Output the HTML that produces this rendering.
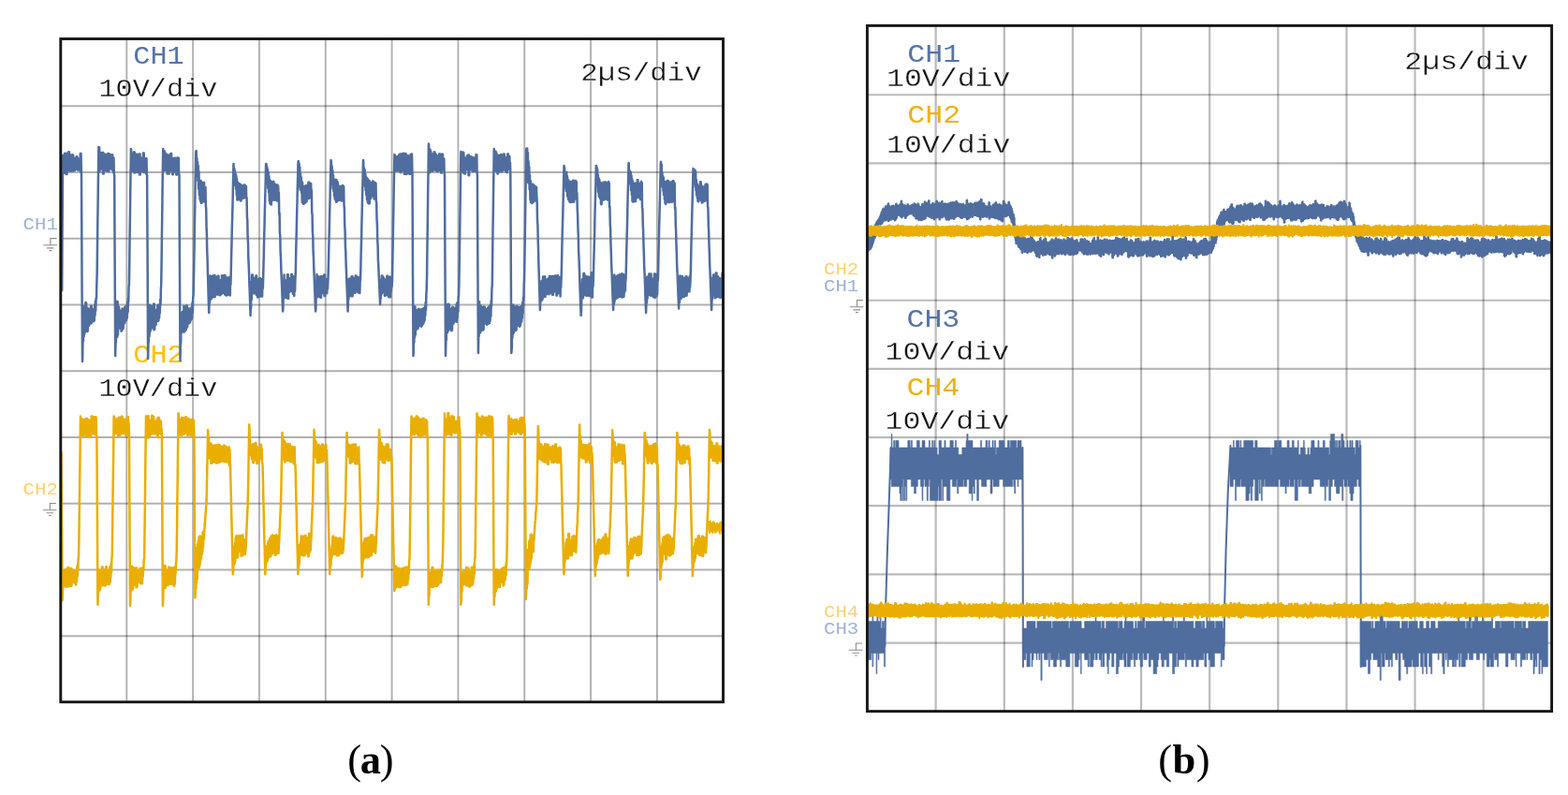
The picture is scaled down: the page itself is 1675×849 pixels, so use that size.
<!DOCTYPE html>
<html lang="en">
<head>
<meta charset="utf-8">
<title>Oscilloscope waveforms</title>
<style>
html,body{margin:0;padding:0;background:#fff;}
body{width:1675px;height:849px;overflow:hidden;}
svg{display:block;filter:blur(0.6px);}
svg text{font-family:"Liberation Mono",monospace;}
</style>
</head>
<body>
<svg width="1675" height="849" viewBox="0 0 1675 849">
<rect width="1675" height="849" fill="#fff"/>
<g id="grids">
<g stroke="#000" stroke-opacity="0.31" stroke-width="1.9" fill="none"><line x1="135.32" y1="41.50" x2="135.32" y2="749.70"/><line x1="64.80" y1="113.25" x2="772.50" y2="113.25"/><line x1="206.14" y1="41.50" x2="206.14" y2="749.70"/><line x1="64.80" y1="184.00" x2="772.50" y2="184.00"/><line x1="276.96" y1="41.50" x2="276.96" y2="749.70"/><line x1="64.80" y1="254.75" x2="772.50" y2="254.75"/><line x1="347.78" y1="41.50" x2="347.78" y2="749.70"/><line x1="64.80" y1="325.50" x2="772.50" y2="325.50"/><line x1="418.60" y1="41.50" x2="418.60" y2="749.70"/><line x1="64.80" y1="396.25" x2="772.50" y2="396.25"/><line x1="489.42" y1="41.50" x2="489.42" y2="749.70"/><line x1="64.80" y1="467.00" x2="772.50" y2="467.00"/><line x1="560.24" y1="41.50" x2="560.24" y2="749.70"/><line x1="64.80" y1="537.75" x2="772.50" y2="537.75"/><line x1="631.06" y1="41.50" x2="631.06" y2="749.70"/><line x1="64.80" y1="608.50" x2="772.50" y2="608.50"/><line x1="701.88" y1="41.50" x2="701.88" y2="749.70"/><line x1="64.80" y1="679.25" x2="772.50" y2="679.25"/></g>
<g stroke="#000" stroke-opacity="0.27" stroke-width="2.2" fill="none"><line x1="999.63" y1="27.40" x2="999.63" y2="759.60"/><line x1="926.40" y1="101.26" x2="1657.60" y2="101.26"/><line x1="1072.76" y1="27.40" x2="1072.76" y2="759.60"/><line x1="926.40" y1="174.42" x2="1657.60" y2="174.42"/><line x1="1145.89" y1="27.40" x2="1145.89" y2="759.60"/><line x1="926.40" y1="247.58" x2="1657.60" y2="247.58"/><line x1="1219.02" y1="27.40" x2="1219.02" y2="759.60"/><line x1="926.40" y1="320.74" x2="1657.60" y2="320.74"/><line x1="1292.15" y1="27.40" x2="1292.15" y2="759.60"/><line x1="926.40" y1="393.90" x2="1657.60" y2="393.90"/><line x1="1365.28" y1="27.40" x2="1365.28" y2="759.60"/><line x1="926.40" y1="467.06" x2="1657.60" y2="467.06"/><line x1="1438.41" y1="27.40" x2="1438.41" y2="759.60"/><line x1="926.40" y1="540.22" x2="1657.60" y2="540.22"/><line x1="1511.54" y1="27.40" x2="1511.54" y2="759.60"/><line x1="926.40" y1="613.38" x2="1657.60" y2="613.38"/><line x1="1584.67" y1="27.40" x2="1584.67" y2="759.60"/><line x1="926.40" y1="686.54" x2="1657.60" y2="686.54"/></g>
</g>
<g id="labels">
<text transform="translate(142.30,68.30) scale(1.0780,1)" font-size="28.00" fill="#5673a6" >CH1</text>
<text transform="translate(105.50,103.40) scale(1.0780,1)" font-size="28.00" fill="#111" stroke="#fff" stroke-width="0.3" stroke-linejoin="round">10V/div</text>
<text transform="translate(620.30,85.80) scale(1.1017,1)" font-size="28.00" fill="#111" stroke="#fff" stroke-width="0.3" stroke-linejoin="round">2µs/div</text>
<text transform="translate(142.30,387.20) scale(1.0780,1)" font-size="28.00" fill="#ffc000" >CH2</text>
<text transform="translate(105.50,422.70) scale(1.0780,1)" font-size="28.00" fill="#111" stroke="#fff" stroke-width="0.3" stroke-linejoin="round">10V/div</text>
<text transform="translate(969.30,66.20) scale(1.1070,1)" font-size="28.50" fill="#5673a6" >CH1</text>
<text transform="translate(947.00,92.00) scale(1.1070,1)" font-size="28.50" fill="#111" stroke="#fff" stroke-width="0.3" stroke-linejoin="round">10V/div</text>
<text transform="translate(1500.30,73.90) scale(1.1070,1)" font-size="28.50" fill="#111" stroke="#fff" stroke-width="0.3" stroke-linejoin="round">2µs/div</text>
<text transform="translate(969.30,130.60) scale(1.1070,1)" font-size="28.50" fill="#ecb20e" >CH2</text>
<text transform="translate(947.00,163.40) scale(1.1070,1)" font-size="28.50" fill="#111" stroke="#fff" stroke-width="0.3" stroke-linejoin="round">10V/div</text>
<text transform="translate(968.50,349.40) scale(1.1070,1)" font-size="28.50" fill="#5673a6" >CH3</text>
<text transform="translate(945.60,383.70) scale(1.1070,1)" font-size="28.50" fill="#111" stroke="#fff" stroke-width="0.3" stroke-linejoin="round">10V/div</text>
<text transform="translate(968.50,422.20) scale(1.1070,1)" font-size="28.50" fill="#ecb20e" >CH4</text>
<text transform="translate(945.60,457.60) scale(1.1070,1)" font-size="28.50" fill="#111" stroke="#fff" stroke-width="0.3" stroke-linejoin="round">10V/div</text>
<text transform="translate(24.60,244.90) scale(1.1000,1)" font-size="18.80" fill="#9db0d4" >CH1</text>
<text transform="translate(24.60,527.60) scale(1.1000,1)" font-size="18.80" fill="#fbd26c" >CH2</text>
<text transform="translate(880.00,293.00) scale(1.1000,1)" font-size="18.80" fill="#fbd26c" >CH2</text>
<text transform="translate(880.00,310.70) scale(1.1000,1)" font-size="18.80" fill="#9db0d4" >CH1</text>
<text transform="translate(880.00,659.00) scale(1.1000,1)" font-size="18.80" fill="#fbd26c" >CH4</text>
<text transform="translate(880.00,676.70) scale(1.1000,1)" font-size="18.80" fill="#9db0d4" >CH3</text>
<g fill="none" stroke="#8c8c8c" stroke-width="1.1"><path d="M60.5 254.6 H53.9 V261.8" /><path d="M46.3 261.8 H60.9 M49.9 264.9 H57.5 M52.5 267.6 H55.3" /></g>
<g fill="none" stroke="#8c8c8c" stroke-width="1.1"><path d="M60.0 537.5 H53.4 V544.7" /><path d="M45.8 544.7 H60.4 M49.4 547.8 H57.0 M52.0 550.5 H54.8" /></g>
<g fill="none" stroke="#8c8c8c" stroke-width="1.1"><path d="M922.0 320.6 H915.4 V327.8" /><path d="M907.8 327.8 H922.4 M911.4 330.9 H919.0 M914.0 333.6 H916.8" /></g>
<g fill="none" stroke="#8c8c8c" stroke-width="1.1"><path d="M921.0 687.0 H914.4 V694.2" /><path d="M906.8 694.2 H921.4 M910.4 697.3 H918.0 M913.0 700.0 H915.8" /></g>
<text x="371.3" y="825.8" style="font-family:'Liberation Serif',serif" font-size="44.5" letter-spacing="-1.3" fill="#000">(<tspan font-weight="bold">a</tspan>)</text>
<text x="1237.3" y="826.3" style="font-family:'Liberation Serif',serif" font-size="44.5" letter-spacing="0.4" fill="#000">(<tspan font-weight="bold">b</tspan>)</text>
</g>
<g id="plot-a">
<polyline points="66.2,310.0 66.5,254.0 66.9,198.0 67.1,166.0 67.6,166.3 68.0,180.7 68.3,167.5 68.7,183.1 69.0,164.1 69.4,185.1 69.7,163.8 70.0,185.2 70.4,168.7 70.8,186.0 71.1,168.5 71.5,186.0 71.8,163.7 72.2,179.3 72.5,163.8 72.9,179.3 73.2,162.3 73.5,182.0 73.9,162.3 74.2,182.0 74.6,165.1 75.0,182.8 75.3,165.2 75.7,182.8 76.0,166.7 76.3,182.3 76.7,166.7 77.0,182.3 77.4,165.3 77.8,182.5 78.1,165.4 78.5,182.5 78.8,169.1 79.2,181.9 79.5,169.1 79.8,181.9 80.2,170.5 80.5,180.0 80.9,170.5 81.2,180.0 81.6,167.3 82.0,181.0 82.3,167.3 82.7,181.0 83.0,169.5 83.3,181.5 83.7,169.6 84.0,181.5 84.4,169.8 84.8,180.4 85.1,169.9 85.5,180.4 85.8,163.9 86.2,184.0 86.5,163.9 87.0,187.0 87.2,226.8 87.5,296.4 88.0,386.0 88.2,380.7 88.6,353.3 89.0,364.6 89.3,326.9 89.7,359.2 90.0,329.0 90.3,356.8 90.7,329.2 91.0,354.5 91.4,322.9 91.8,349.6 92.1,323.6 92.5,348.6 92.8,328.6 93.2,354.1 93.5,328.8 93.8,353.4 94.2,331.0 94.5,348.0 94.9,331.1 95.2,347.4 95.6,330.1 96.0,343.9 96.3,330.3 96.7,343.4 97.0,327.0 97.3,345.4 97.7,326.8 98.0,344.8 98.4,330.4 98.8,343.0 99.1,330.1 99.5,342.4 99.8,331.0 100.2,343.0 100.5,330.7 100.8,342.3 101.2,325.5 101.5,336.8 101.9,321.5 102.2,331.7 102.6,318.4 103.0,318.6 103.3,304.0 103.7,290.1 104.0,263.5 104.3,236.9 104.7,210.2 105.0,183.6 105.4,157.0 105.8,170.7 106.1,157.2 106.5,183.4 106.8,164.6 107.2,179.9 107.5,165.8 107.8,180.4 108.2,163.1 108.5,179.6 108.9,164.6 109.2,179.9 109.6,163.0 110.0,185.4 110.3,163.1 110.7,185.4 111.0,164.3 111.3,181.4 111.7,164.4 112.0,181.4 112.4,164.8 112.8,182.1 113.1,164.9 113.5,182.1 113.8,168.5 114.2,182.7 114.5,168.5 114.8,182.7 115.2,164.1 115.5,183.0 115.9,164.1 116.2,183.0 116.6,164.7 117.0,179.7 117.3,164.7 117.7,179.7 118.0,168.1 118.3,180.3 118.7,168.1 119.0,180.3 119.4,165.2 119.8,181.4 120.1,165.3 120.5,181.4 120.8,168.7 121.2,183.9 121.5,168.8 121.8,185.6 122.2,187.0 122.5,254.5 122.9,322.1 123.2,380.0 123.6,360.3 123.9,365.8 124.3,327.2 124.7,357.7 125.0,321.7 125.3,359.7 125.7,322.3 126.0,357.4 126.4,327.3 126.8,350.0 127.1,327.7 127.4,348.7 127.8,331.7 128.2,350.4 128.5,331.8 128.8,349.7 129.2,332.1 129.6,353.8 129.9,332.1 130.2,353.0 130.6,329.6 130.9,351.4 131.3,329.7 131.7,350.7 132.0,331.7 132.3,345.8 132.7,331.3 133.1,345.0 133.4,327.8 133.8,343.1 134.1,327.6 134.4,342.4 134.8,326.8 135.1,341.8 135.5,326.6 135.8,339.5 136.2,323.0 136.6,333.1 136.9,318.8 137.2,322.9 137.6,306.0 137.9,304.6 138.3,279.0 138.6,252.8 139.0,226.5 139.3,200.3 139.7,174.0 139.9,159.0 140.4,162.9 140.8,182.8 141.1,165.6 141.4,183.0 141.8,164.4 142.1,178.8 142.5,165.3 142.8,179.2 143.2,162.2 143.6,184.4 143.9,162.7 144.2,184.4 144.6,167.6 144.9,181.6 145.3,167.6 145.6,181.6 146.0,164.8 146.3,183.9 146.7,164.8 147.1,183.9 147.4,170.0 147.8,179.9 148.1,170.0 148.4,179.9 148.8,164.6 149.1,186.4 149.5,164.6 149.8,186.4 150.2,169.1 150.6,180.5 150.9,169.1 151.2,180.5 151.6,168.9 151.9,183.1 152.3,169.0 152.6,183.1 153.0,163.5 153.3,184.0 153.7,163.5 154.1,184.0 154.4,170.2 154.8,183.4 155.1,170.2 155.4,183.4 155.8,169.3 156.1,185.4 156.5,169.3 156.8,186.7 157.1,187.0 157.6,275.2 157.9,343.8 158.1,383.0 158.6,361.0 158.9,365.7 159.3,335.0 159.6,359.0 160.0,325.7 160.3,354.4 160.7,326.2 161.1,352.5 161.4,326.7 161.8,347.1 162.1,327.0 162.4,346.1 162.8,327.5 163.1,350.1 163.5,327.7 163.8,349.5 164.2,324.4 164.6,352.2 164.9,324.7 165.2,351.4 165.6,330.9 165.9,347.5 166.3,331.0 166.6,346.8 167.0,331.3 167.3,342.4 167.7,330.8 168.1,341.6 168.4,326.0 168.8,343.1 169.1,325.7 169.4,342.2 169.8,330.0 170.1,339.5 170.5,326.2 170.8,334.3 171.2,320.1 171.6,325.3 171.9,307.9 172.2,304.5 172.6,279.0 172.9,252.8 173.3,226.5 173.6,200.3 174.0,174.0 174.2,159.0 174.7,164.1 175.1,182.0 175.4,160.9 175.8,178.9 176.1,161.9 176.4,179.2 176.8,164.1 177.1,181.9 177.5,165.1 177.8,182.2 178.2,165.1 178.6,185.4 178.9,165.2 179.2,185.4 179.6,167.3 179.9,185.4 180.3,167.3 180.6,185.4 181.0,165.5 181.3,181.4 181.7,165.6 182.1,181.5 182.4,164.1 182.8,182.2 183.1,164.1 183.4,182.3 183.8,169.4 184.1,186.3 184.5,169.4 184.8,186.3 185.2,169.3 185.6,183.6 185.9,169.4 186.2,183.6 186.6,168.8 186.9,183.6 187.3,168.8 187.6,183.6 188.0,170.1 188.3,186.6 188.7,170.1 189.1,186.6 189.4,168.5 189.8,180.4 190.1,168.5 190.4,180.4 190.8,168.8 191.1,185.4 191.5,187.0 191.8,256.3 192.2,325.6 192.5,385.0 192.9,365.2 193.2,366.2 193.6,334.5 193.9,354.6 194.3,334.3 194.6,352.7 195.0,332.9 195.4,354.6 195.7,332.8 196.1,352.4 196.4,326.9 196.8,354.6 197.1,327.2 197.4,353.8 197.8,330.3 198.1,352.7 198.5,330.5 198.9,351.9 199.2,326.2 199.6,349.7 199.9,326.5 200.2,349.0 200.6,329.7 200.9,345.8 201.3,329.6 201.6,345.0 202.0,329.8 202.3,345.0 202.7,329.5 203.1,344.1 203.4,330.5 203.8,341.9 204.1,330.2 204.4,341.1 204.8,327.5 205.1,339.7 205.5,323.3 205.8,334.3 206.2,318.0 206.6,314.9 206.9,302.1 207.2,285.6 207.6,263.5 207.9,241.3 208.3,219.1 208.6,196.9 209.0,174.7 209.2,162.0 209.7,161.0 210.1,180.4 210.4,169.0 210.8,187.5 211.1,173.3 211.4,192.9 211.8,177.0 212.1,201.8 212.5,183.3 212.8,208.1 213.2,193.6 213.6,213.0 213.9,197.9 214.2,215.0 214.6,192.9 214.9,216.9 215.3,194.3 215.6,216.5 216.0,198.9 216.3,214.8 216.7,198.9 217.1,214.2 217.4,194.9 217.8,215.3 218.1,195.1 218.4,214.7 218.8,199.8 219.1,212.4 219.5,199.9 219.8,219.1 220.2,222.8 220.6,244.4 220.9,249.1 221.2,267.6 221.6,276.0 221.9,289.9 222.3,302.2 222.6,314.6 223.0,326.9 223.2,334.0 223.7,319.4 224.1,323.4 224.4,294.4 224.8,320.0 225.1,294.7 225.4,319.1 225.8,300.9 226.1,318.4 226.5,300.8 226.8,317.7 227.2,294.8 227.6,316.9 227.9,294.8 228.2,316.9 228.6,293.9 228.9,317.0 229.3,293.8 229.6,317.0 230.0,297.5 230.3,313.9 230.7,297.4 231.1,313.9 231.4,295.8 231.8,314.6 232.1,295.8 232.4,314.6 232.8,294.7 233.1,314.1 233.5,294.7 233.8,314.1 234.2,300.7 234.6,315.3 234.9,300.7 235.2,315.3 235.6,299.2 235.9,314.0 236.3,299.2 236.6,314.0 237.0,294.3 237.3,312.8 237.7,294.2 238.1,312.8 238.4,296.8 238.8,312.8 239.1,296.7 239.4,312.8 239.8,294.1 240.1,314.4 240.5,294.1 240.8,314.4 241.2,296.8 241.6,315.4 241.9,296.8 242.2,315.4 242.6,296.5 242.9,314.8 243.3,296.4 243.6,314.7 244.0,298.8 244.3,313.3 244.7,298.8 245.1,313.2 245.4,295.8 245.8,315.6 246.1,298.1 246.4,303.9 246.8,288.8 247.1,274.1 247.5,259.3 247.8,244.6 248.2,229.8 248.6,215.1 248.9,200.3 249.2,185.5 249.5,175.0 249.9,184.2 250.3,179.9 250.6,191.4 251.0,182.4 251.3,198.0 251.7,185.7 252.1,201.8 252.4,187.7 252.8,208.6 253.1,191.6 253.4,213.6 253.8,194.5 254.1,212.0 254.5,195.4 254.8,212.9 255.2,196.3 255.6,212.6 255.9,196.3 256.2,212.4 256.6,197.3 256.9,214.5 257.3,197.2 257.6,214.3 258.0,198.6 258.3,211.7 258.7,198.6 259.1,211.5 259.4,198.6 259.8,211.8 260.1,198.6 260.4,211.6 260.8,197.6 261.1,209.5 261.5,197.6 261.8,209.3 262.2,198.5 262.6,210.9 262.9,198.9 263.2,211.0 263.6,211.3 263.9,231.1 264.3,235.3 264.6,252.7 265.0,258.9 265.3,274.9 265.7,283.2 266.1,293.1 266.4,303.0 266.8,312.9 267.1,322.8 267.6,337.0 267.8,327.7 268.1,329.0 268.5,301.1 268.8,319.9 269.2,293.5 269.6,313.6 269.9,293.4 270.2,312.5 270.6,296.9 270.9,313.2 271.3,296.9 271.6,313.2 272.0,298.4 272.3,312.4 272.7,298.3 273.1,312.4 273.4,294.6 273.8,314.8 274.1,294.6 274.4,314.8 274.8,299.4 275.1,317.5 275.5,299.4 275.8,317.4 276.2,298.1 276.6,313.0 276.9,298.1 277.2,313.0 277.6,297.3 277.9,316.4 278.3,297.3 278.6,316.3 279.0,298.3 279.3,316.6 279.7,298.2 280.1,316.6 280.4,298.7 280.8,308.4 281.1,300.0 281.4,286.7 281.8,272.0 282.1,257.2 282.5,242.5 282.8,227.7 283.2,213.0 283.6,198.2 283.9,183.4 284.1,175.0 284.6,175.3 284.9,191.5 285.3,178.2 285.6,195.2 286.0,180.9 286.3,201.0 286.7,184.1 287.1,205.6 287.4,188.3 287.8,214.3 288.1,192.1 288.4,217.3 288.8,193.1 289.1,218.0 289.5,194.0 289.8,218.5 290.2,200.1 290.6,214.1 290.9,200.0 291.2,213.8 291.6,193.9 291.9,212.1 292.3,193.8 292.6,211.8 293.0,196.5 293.3,213.7 293.7,196.5 294.1,213.5 294.4,198.4 294.8,212.6 295.1,198.3 295.4,212.4 295.8,197.5 296.1,214.4 296.5,197.5 296.8,213.6 297.2,199.0 297.6,213.2 297.9,205.9 298.2,228.9 298.6,227.6 298.9,248.8 299.3,251.7 299.6,269.1 300.0,276.0 300.3,286.7 300.7,295.8 301.1,305.0 301.4,314.2 301.8,323.3 302.1,332.5 302.4,330.2 302.8,307.3 303.1,319.5 303.5,293.5 303.8,317.7 304.2,299.8 304.6,312.2 304.9,299.5 305.2,311.6 305.6,299.4 305.9,318.1 306.3,299.4 306.6,318.1 307.0,293.3 307.3,318.8 307.7,293.2 308.1,318.7 308.4,297.7 308.8,311.9 309.1,297.7 309.4,311.8 309.8,297.2 310.1,310.8 310.5,297.2 310.8,310.8 311.2,292.9 311.6,311.0 311.9,292.9 312.2,311.0 312.6,297.1 312.9,313.8 313.3,297.1 313.6,313.8 314.0,295.2 314.3,316.1 314.7,295.2 315.1,310.7 315.4,299.2 315.8,290.8 316.1,275.8 316.4,260.8 316.8,245.8 317.1,230.8 317.5,215.8 317.8,200.8 318.2,185.9 318.5,173.0 318.9,172.1 319.2,190.3 319.6,174.7 319.9,198.7 320.3,178.6 320.6,202.6 321.0,185.4 321.3,201.0 321.7,189.3 322.1,205.7 322.4,193.7 322.8,215.9 323.1,195.1 323.4,216.8 323.8,199.2 324.1,217.8 324.5,199.4 324.8,217.5 325.2,198.9 325.5,216.8 325.9,198.8 326.2,216.5 326.6,198.3 326.9,215.4 327.3,198.2 327.6,215.1 328.0,198.7 328.3,210.4 328.7,198.6 329.0,210.2 329.4,194.7 329.8,212.0 330.1,194.6 330.4,211.7 330.8,198.0 331.1,208.8 331.5,197.9 331.8,208.3 332.2,196.0 332.5,210.6 332.9,203.2 333.2,226.7 333.6,229.4 333.9,247.7 334.3,252.5 334.6,268.9 335.0,276.0 335.3,286.7 335.7,295.8 336.0,305.0 336.4,314.2 336.7,323.3 337.1,332.5 337.4,329.7 337.8,306.9 338.1,315.8 338.5,293.0 338.8,314.0 339.2,295.4 339.5,317.2 339.9,295.3 340.2,316.4 340.6,296.8 340.9,315.8 341.3,296.8 341.6,315.8 342.0,295.4 342.3,317.7 342.7,295.4 343.0,317.7 343.4,295.0 343.7,313.1 344.1,295.0 344.4,313.1 344.8,297.5 345.1,312.0 345.5,297.5 345.8,311.9 346.2,293.5 346.5,316.1 346.9,293.5 347.2,316.1 347.6,298.0 347.9,312.7 348.3,297.9 348.6,312.7 349.0,299.7 349.3,313.2 349.7,299.7 350.0,308.5 350.4,299.9 350.7,290.6 351.1,275.4 351.4,260.2 351.8,245.0 352.1,229.7 352.5,214.5 352.8,199.3 353.2,184.1 353.5,171.0 353.9,172.4 354.2,190.0 354.6,177.5 354.9,197.3 355.3,182.1 355.6,201.3 356.0,187.2 356.3,204.0 356.7,191.2 357.0,208.9 357.4,196.8 357.7,212.6 358.1,198.2 358.4,213.5 358.8,191.9 359.1,215.7 359.5,192.1 359.8,215.4 360.2,194.8 360.5,212.0 360.9,194.8 361.2,211.7 361.6,199.0 361.9,213.9 362.3,198.9 362.6,213.6 363.0,199.1 363.3,211.5 363.7,199.0 364.0,211.3 364.4,199.8 364.7,214.5 365.1,199.7 365.4,214.2 365.8,198.0 366.1,211.6 366.5,198.3 366.8,210.1 367.2,199.3 367.5,218.6 367.9,222.8 368.2,240.1 368.6,246.3 368.9,262.5 369.3,269.2 369.6,281.4 370.0,290.6 370.3,299.8 370.7,308.9 371.0,318.1 371.4,327.3 371.6,332.5 372.1,316.0 372.4,319.7 372.8,297.8 373.1,316.6 373.5,297.6 373.8,315.5 374.2,299.3 374.5,311.5 374.9,299.2 375.2,311.5 375.6,295.2 375.9,316.4 376.3,295.1 376.6,316.3 377.0,297.1 377.3,311.2 377.7,297.0 378.0,311.2 378.4,300.2 378.7,312.7 379.1,300.2 379.4,312.7 379.8,294.5 380.1,311.4 380.5,294.5 380.8,311.4 381.2,298.5 381.5,311.1 381.9,298.5 382.2,311.1 382.6,296.1 382.9,312.6 383.3,296.1 383.6,312.6 384.0,296.1 384.3,313.0 384.7,298.8 385.0,299.3 385.4,284.1 385.7,268.9 386.1,253.7 386.4,238.4 386.8,223.2 387.1,208.0 387.5,192.8 388.0,171.0 388.2,172.3 388.5,189.2 388.9,179.3 389.2,196.8 389.6,181.0 389.9,199.1 390.3,185.5 390.6,203.3 391.0,188.8 391.3,208.3 391.7,192.9 392.0,212.9 392.4,190.5 392.7,216.0 393.1,191.4 393.4,217.0 393.8,193.1 394.1,217.5 394.5,193.1 394.8,217.2 395.2,194.9 395.5,211.9 395.9,194.9 396.2,211.7 396.6,197.2 396.9,209.7 397.3,197.1 397.6,209.5 398.0,193.6 398.3,209.4 398.7,193.6 399.0,209.2 399.4,196.3 399.7,212.5 400.1,196.3 400.4,212.3 400.8,194.9 401.1,212.7 401.5,196.0 401.8,215.8 402.2,215.8 402.5,234.0 402.9,239.3 403.2,255.8 403.6,262.2 403.9,277.5 404.3,284.3 404.6,292.2 405.0,300.1 405.3,308.0 405.7,316.0 406.1,325.0 406.4,316.6 406.7,318.9 407.1,298.9 407.4,313.9 407.8,294.5 408.1,312.9 408.5,294.4 408.8,311.9 409.2,296.6 409.5,311.6 409.9,296.5 410.2,311.6 410.6,298.6 410.9,315.8 411.3,298.6 411.6,315.8 412.0,298.9 412.3,315.1 412.7,298.9 413.0,315.0 413.4,294.7 413.7,314.8 414.1,294.7 414.4,314.7 414.8,299.1 415.1,316.9 415.5,299.1 415.8,316.9 416.2,295.8 416.5,317.3 416.9,295.7 417.2,317.3 417.6,296.9 417.9,310.9 418.3,297.3 418.6,306.1 419.0,300.0 419.3,281.6 419.7,261.7 420.0,241.8 420.4,221.9 420.7,202.0 421.1,182.1 421.4,165.0 421.8,165.8 422.1,182.6 422.5,166.8 422.8,182.6 423.2,168.8 423.5,181.9 423.9,168.5 424.2,181.9 424.6,167.3 424.9,182.5 425.3,167.2 425.6,182.5 426.0,165.6 426.3,182.3 426.7,165.7 427.0,182.3 427.4,164.6 427.7,184.0 428.1,164.6 428.4,184.0 428.8,167.9 429.1,181.8 429.5,167.9 429.8,181.8 430.2,163.9 430.5,181.9 430.9,164.0 431.2,181.9 431.6,164.0 431.9,185.7 432.3,164.0 432.6,185.7 433.0,164.1 433.3,185.9 433.7,164.2 434.0,185.9 434.4,166.2 434.7,181.6 435.1,166.2 435.4,181.7 435.8,166.3 436.1,185.3 436.5,166.4 436.8,185.3 437.2,168.6 437.5,185.8 437.9,168.7 438.2,185.8 438.6,165.0 438.9,183.5 439.3,165.1 439.6,183.5 440.0,164.6 440.5,187.0 440.7,225.6 441.0,293.1 441.5,380.0 441.7,376.8 442.1,352.3 442.4,365.3 442.8,327.2 443.1,360.0 443.5,327.4 443.8,357.6 444.2,331.4 444.5,352.2 444.9,331.3 445.2,350.2 445.6,332.4 445.9,351.2 446.3,332.4 446.6,350.6 447.0,329.9 447.3,348.4 447.7,330.0 448.0,347.8 448.4,333.0 448.7,346.7 449.1,333.0 449.4,346.1 449.8,330.5 450.1,348.7 450.5,330.3 450.8,347.7 451.2,330.2 451.5,346.4 451.9,329.9 452.2,345.5 452.6,329.1 452.9,343.6 453.3,328.8 453.6,342.4 454.0,327.1 454.3,337.3 454.7,322.8 455.0,331.0 455.4,313.1 455.7,310.1 456.1,293.7 456.4,266.4 456.8,239.2 457.1,211.9 457.5,184.7 457.9,153.5 458.2,155.8 458.5,181.9 458.9,161.6 459.2,184.2 459.6,159.8 459.9,179.1 460.3,162.0 460.6,179.8 461.0,164.5 461.3,182.8 461.7,166.0 462.0,182.9 462.4,164.5 462.7,181.4 463.1,164.6 463.4,181.4 463.8,162.3 464.1,179.6 464.5,162.4 464.8,179.6 465.2,165.0 465.5,181.9 465.9,165.1 466.2,181.9 466.6,168.9 466.9,183.1 467.3,168.9 467.6,183.2 468.0,166.6 468.3,181.7 468.7,166.7 469.0,181.7 469.4,164.3 469.7,181.0 470.1,164.4 470.4,181.0 470.8,164.8 471.1,184.6 471.5,164.8 471.8,184.6 472.2,164.7 472.5,179.6 472.9,164.7 473.2,179.6 473.6,169.5 473.9,181.2 474.3,169.5 474.6,183.3 475.0,187.0 475.3,254.5 475.7,322.1 476.0,380.0 476.4,362.3 476.7,363.5 477.1,332.2 477.4,354.2 477.8,325.0 478.1,355.0 478.5,325.4 478.8,353.1 479.2,324.7 479.5,352.5 479.9,325.4 480.2,350.9 480.6,331.9 480.9,350.5 481.3,331.9 481.6,349.9 482.0,329.7 482.3,353.2 482.7,329.8 483.0,352.4 483.4,327.7 483.7,346.2 484.1,327.9 484.4,345.6 484.8,331.7 485.1,343.9 485.5,331.4 485.8,343.1 486.2,329.0 486.5,342.5 486.9,328.7 487.2,341.7 487.6,325.0 487.9,343.7 488.3,323.6 488.6,339.3 489.0,324.8 489.3,333.0 489.7,317.5 490.0,315.9 490.4,302.0 490.7,283.1 491.1,257.4 491.4,231.8 491.8,206.1 492.1,180.4 492.4,162.0 492.8,175.5 493.2,163.1 493.5,182.5 493.9,163.4 494.2,182.6 494.6,162.6 494.9,184.5 495.3,162.9 495.6,184.6 496.0,168.8 496.3,185.4 496.7,168.8 497.0,185.4 497.4,169.0 497.7,179.3 498.1,169.1 498.4,179.4 498.8,166.5 499.1,180.9 499.5,166.5 499.8,180.9 500.2,165.5 500.5,187.3 500.9,165.6 501.2,187.3 501.6,169.8 501.9,181.2 502.3,169.8 502.6,181.2 503.0,167.3 503.3,179.5 503.7,167.4 504.0,179.5 504.4,167.8 504.7,183.0 505.1,167.9 505.4,183.0 505.8,169.7 506.1,181.3 506.5,169.8 506.8,181.3 507.2,168.5 507.5,182.8 507.9,168.5 508.2,182.8 508.6,165.1 508.9,181.6 509.3,165.2 509.6,184.7 509.9,187.0 510.3,272.5 510.7,339.0 510.9,377.0 511.4,351.5 511.7,358.9 512.1,322.2 512.5,352.3 512.8,325.9 513.1,355.3 513.5,326.2 513.9,353.2 514.2,327.4 514.5,351.4 514.9,327.8 515.2,350.0 515.6,328.9 515.9,352.5 516.3,329.1 516.6,351.7 517.0,327.5 517.4,345.9 517.7,327.8 518.0,345.3 518.4,330.0 518.8,344.9 519.1,330.1 519.4,344.4 519.8,331.9 520.1,346.8 520.5,331.5 520.9,346.0 521.2,328.7 521.5,345.6 521.9,328.4 522.2,344.8 522.6,327.0 522.9,344.9 523.3,326.8 523.6,342.5 524.0,325.4 524.4,337.7 524.7,321.1 525.0,326.6 525.4,308.4 525.8,304.5 526.1,279.0 526.4,252.8 526.8,226.5 527.1,200.2 527.5,174.0 527.7,159.0 528.2,162.6 528.5,182.3 528.9,165.0 529.2,182.5 529.6,161.8 529.9,181.4 530.3,162.9 530.6,181.7 531.0,165.2 531.4,185.5 531.7,165.7 532.0,185.5 532.4,165.9 532.8,180.5 533.1,166.0 533.4,180.5 533.8,166.0 534.1,182.9 534.5,166.0 534.9,182.9 535.2,165.1 535.5,183.3 535.9,165.2 536.2,183.4 536.6,167.1 536.9,181.5 537.3,167.1 537.6,181.5 538.0,164.4 538.4,181.0 538.7,164.4 539.0,181.0 539.4,170.2 539.8,182.5 540.1,170.3 540.4,182.5 540.8,168.2 541.1,184.1 541.5,168.3 541.9,184.1 542.2,164.6 542.5,180.6 542.9,164.6 543.2,180.7 543.6,166.8 543.9,180.2 544.3,166.9 544.6,180.2 545.0,174.1 545.3,187.0 545.7,263.0 546.0,329.5 546.3,377.0 546.8,371.2 547.1,344.1 547.4,361.1 547.8,325.4 548.1,356.9 548.5,325.8 548.9,354.9 549.2,327.4 549.5,349.9 549.9,327.6 550.2,348.1 550.6,328.9 550.9,352.9 551.3,329.0 551.6,352.2 552.0,326.7 552.4,348.2 552.7,327.0 553.0,347.6 553.4,327.8 553.8,346.5 554.1,328.1 554.4,346.0 554.8,332.8 555.1,348.7 555.5,332.3 555.9,347.5 556.2,327.5 556.5,344.4 556.9,327.1 557.2,343.3 557.6,326.9 557.9,339.5 558.3,322.8 558.6,334.2 559.0,317.9 559.4,320.9 559.7,304.7 560.0,298.3 560.4,275.8 560.8,253.3 561.1,230.8 561.4,208.2 561.8,185.7 562.2,160.0 562.5,158.5 562.9,179.0 563.2,158.5 563.5,189.3 563.9,163.1 564.2,195.0 564.6,172.4 564.9,195.8 565.3,178.2 565.6,202.2 566.0,187.3 566.4,213.2 566.7,193.1 567.0,216.1 567.4,197.9 567.8,216.6 568.1,199.8 568.4,217.0 568.8,196.8 569.1,216.0 569.5,196.8 569.9,215.5 570.2,198.2 570.5,214.1 570.9,198.2 571.2,213.7 571.6,199.6 571.9,214.6 572.3,199.6 572.6,213.0 573.0,199.8 573.4,211.2 573.7,215.2 574.0,235.4 574.4,240.0 574.8,259.5 575.1,268.0 575.4,282.5 575.8,294.2 576.1,305.9 576.5,317.6 576.9,331.0 577.2,322.3 577.5,322.5 577.9,303.7 578.2,314.6 578.6,300.0 579.0,320.6 579.3,300.0 579.6,319.5 580.0,295.5 580.4,311.9 580.7,295.6 581.1,311.9 581.4,295.4 581.8,316.7 582.1,295.3 582.5,316.7 582.8,300.1 583.1,313.9 583.5,300.1 583.9,313.9 584.2,298.4 584.6,314.1 584.9,298.4 585.2,314.1 585.6,297.5 586.0,314.1 586.3,297.5 586.6,314.1 587.0,294.9 587.4,311.4 587.7,294.9 588.1,311.3 588.4,295.6 588.8,312.9 589.1,295.6 589.5,312.9 589.8,295.0 590.1,314.7 590.5,294.9 590.9,314.7 591.2,299.0 591.6,310.9 591.9,299.0 592.2,310.9 592.6,294.6 593.0,311.3 593.3,294.6 593.6,311.2 594.0,295.9 594.4,315.4 594.7,295.9 595.1,315.4 595.4,294.3 595.8,312.5 596.1,294.3 596.5,312.5 596.8,296.3 597.1,313.1 597.5,296.3 597.9,313.1 598.2,300.3 598.6,316.5 598.9,300.4 599.2,307.1 599.6,297.3 600.0,282.8 600.3,268.3 600.6,253.8 601.0,239.2 601.4,224.7 601.7,210.2 602.1,195.7 602.5,177.0 602.8,183.7 603.1,178.8 603.5,195.2 603.8,184.7 604.1,200.3 604.5,187.5 604.9,204.1 605.2,184.1 605.5,204.6 605.9,187.9 606.2,209.4 606.6,191.4 607.0,212.7 607.3,192.3 607.6,213.6 608.0,196.6 608.4,215.4 608.7,196.6 609.0,215.2 609.4,194.0 609.8,216.0 610.1,194.0 610.5,215.7 610.8,199.6 611.1,213.6 611.5,199.5 611.9,213.4 612.2,192.8 612.5,215.7 612.9,192.8 613.2,215.5 613.6,199.0 614.0,212.6 614.3,198.9 614.6,212.3 615.0,193.0 615.4,212.5 615.7,194.0 616.0,211.0 616.4,206.3 616.8,224.8 617.1,229.8 617.5,246.3 617.8,251.8 618.1,268.6 618.5,276.0 618.9,287.4 619.2,297.3 619.5,307.2 619.9,317.2 620.2,327.1 620.6,337.0 621.0,332.1 621.3,312.3 621.6,319.2 622.0,298.2 622.4,318.8 622.7,297.9 623.0,317.6 623.4,292.1 623.8,315.0 624.1,292.1 624.5,315.0 624.8,294.9 625.1,313.5 625.5,294.8 625.9,313.5 626.2,297.6 626.5,315.7 626.9,297.5 627.2,315.7 627.6,295.5 628.0,312.9 628.3,295.5 628.6,312.9 629.0,298.4 629.4,315.9 629.7,298.4 630.0,315.8 630.4,296.0 630.8,312.1 631.1,296.0 631.5,312.1 631.8,291.3 632.1,317.5 632.5,291.2 632.9,317.4 633.2,293.4 633.5,305.9 633.9,297.3 634.2,282.8 634.6,268.3 635.0,253.8 635.3,239.2 635.6,224.7 636.0,210.2 636.4,195.7 636.8,177.0 637.0,183.2 637.4,178.1 637.8,194.1 638.1,180.6 638.5,197.8 638.8,186.8 639.1,205.2 639.5,189.9 639.9,210.1 640.2,191.8 640.5,209.6 640.9,195.4 641.2,212.0 641.6,195.0 642.0,217.9 642.3,196.0 642.6,218.2 643.0,198.5 643.4,211.6 643.7,198.5 644.0,211.4 644.4,194.8 644.8,213.4 645.1,194.8 645.5,213.2 645.8,194.5 646.1,212.7 646.5,194.4 646.9,212.4 647.2,195.0 647.5,211.7 647.9,194.9 648.2,211.5 648.6,196.7 649.0,213.4 649.3,196.6 649.6,213.1 650.0,194.1 650.4,211.4 650.7,195.3 651.0,221.1 651.4,220.6 651.8,240.2 652.1,244.3 652.5,262.2 652.8,269.1 653.1,281.3 653.5,290.2 653.9,299.2 654.2,308.1 654.5,317.0 654.9,325.9 655.1,331.0 655.6,313.5 656.0,324.8 656.3,293.6 656.6,321.7 657.0,300.0 657.4,319.4 657.7,299.7 658.0,318.2 658.4,295.5 658.8,318.3 659.1,295.5 659.5,318.3 659.8,294.3 660.1,316.1 660.5,294.2 660.9,316.1 661.2,293.4 661.5,316.7 661.9,293.3 662.2,316.7 662.6,297.0 663.0,314.8 663.3,297.0 663.6,314.8 664.0,292.5 664.4,317.4 664.7,292.4 665.0,317.4 665.4,292.9 665.8,316.8 666.1,292.9 666.5,316.7 666.8,298.6 667.1,312.3 667.5,298.6 667.9,310.5 668.2,297.7 668.5,299.4 668.9,284.6 669.2,269.9 669.6,255.1 670.0,240.4 670.3,225.6 670.6,210.8 671.0,196.1 671.5,175.0 671.7,174.0 672.0,189.9 672.4,181.7 672.8,193.1 673.1,185.0 673.5,196.8 673.8,183.8 674.1,203.3 674.5,187.4 674.9,208.2 675.2,191.2 675.5,214.7 675.9,193.4 676.2,215.6 676.6,198.7 677.0,214.1 677.3,199.2 677.6,214.0 678.0,195.8 678.4,215.3 678.7,195.8 679.0,215.0 679.4,199.1 679.8,210.4 680.1,199.0 680.5,210.2 680.8,192.3 681.1,210.9 681.5,192.3 681.9,210.7 682.2,198.7 682.5,209.5 682.9,198.6 683.2,209.3 683.6,196.0 684.0,213.0 684.3,196.0 684.6,212.7 685.0,193.8 685.4,212.5 685.7,195.1 686.0,221.8 686.4,223.0 686.8,240.4 687.1,246.3 687.5,262.3 687.8,269.1 688.1,281.5 688.5,291.0 688.9,300.4 689.2,309.8 689.5,319.2 689.9,328.6 690.1,334.0 690.6,316.0 691.0,323.3 691.3,295.5 691.6,318.7 692.0,300.1 692.4,313.0 692.7,299.7 693.0,312.0 693.4,292.5 693.8,314.9 694.1,292.5 694.5,314.9 694.8,292.7 695.1,315.8 695.5,292.6 695.9,315.8 696.2,298.7 696.5,312.0 696.9,298.7 697.2,312.0 697.6,297.8 698.0,317.2 698.3,297.8 698.6,317.2 699.0,292.6 699.4,317.8 699.7,292.6 700.0,317.8 700.4,293.2 700.8,316.2 701.1,293.1 701.5,316.2 701.8,295.6 702.1,314.5 702.5,298.6 702.9,299.4 703.2,284.5 703.5,269.6 703.9,254.7 704.2,239.9 704.6,225.0 705.0,210.1 705.3,195.2 705.8,174.0 706.0,172.8 706.4,188.3 706.7,175.7 707.0,195.0 707.4,184.3 707.8,199.6 708.1,187.9 708.5,203.6 708.8,189.5 709.1,207.9 709.5,193.5 709.9,212.5 710.2,194.8 710.5,217.1 710.9,195.7 711.2,218.1 711.6,194.0 712.0,216.3 712.3,194.0 712.6,216.0 713.0,193.1 713.4,215.1 713.7,193.1 714.0,214.8 714.4,198.9 714.8,216.1 715.1,198.8 715.5,215.9 715.8,194.4 716.1,212.6 716.5,194.4 716.9,212.4 717.2,199.7 717.5,215.7 717.9,199.7 718.2,215.5 718.6,193.2 719.0,215.1 719.3,193.2 719.6,214.7 720.0,194.5 720.4,213.2 720.7,195.7 721.0,222.5 721.4,221.6 721.8,240.7 722.1,245.4 722.5,262.6 722.8,269.1 723.1,281.2 723.5,289.9 723.9,298.5 724.2,307.2 724.5,315.9 724.9,324.5 725.1,329.5 725.6,313.1 726.0,322.7 726.3,294.5 726.6,319.3 727.0,295.0 727.4,318.9 727.7,294.9 728.0,317.8 728.4,295.2 728.8,313.7 729.1,295.2 729.5,313.6 729.8,300.0 730.1,317.1 730.5,299.9 730.9,317.0 731.2,296.9 731.5,314.3 731.9,296.8 732.2,314.3 732.6,295.2 733.0,315.7 733.3,295.1 733.6,315.6 734.0,296.9 734.4,311.5 734.7,296.9 735.0,311.5 735.4,298.9 735.8,311.2 736.1,298.9 736.5,311.2 736.8,295.1 737.1,306.8 737.5,300.0 737.9,287.3 738.2,273.1 738.5,259.0 738.9,244.8 739.2,230.6 739.6,216.4 740.0,202.3 740.3,188.1 740.5,180.0 741.0,181.6 741.4,192.6 741.7,183.7 742.0,195.9 742.4,181.4 742.8,199.1 743.1,183.0 743.5,203.4 743.8,192.1 744.1,208.6 744.5,196.1 744.9,211.5 745.2,197.6 745.5,214.8 745.9,198.6 746.2,215.3 746.6,199.0 747.0,212.4 747.3,198.9 747.6,212.2 748.0,194.3 748.4,213.6 748.7,194.3 749.0,213.4 749.4,198.9 749.8,216.4 750.1,198.8 750.5,216.2 750.8,199.9 751.1,209.3 751.5,199.8 751.9,209.1 752.2,199.8 752.5,214.8 752.9,199.7 753.2,214.6 753.6,196.9 754.0,213.2 754.3,196.9 754.6,212.9 755.0,196.5 755.4,210.2 755.7,197.3 756.0,220.0 756.4,222.5 756.8,240.7 757.1,245.8 757.5,262.4 757.8,268.6 758.1,281.3 758.5,290.2 758.9,299.2 759.2,308.1 759.5,317.0 759.9,325.9 760.1,331.0 760.6,315.0 761.0,319.7 761.3,296.7 761.6,315.2 762.0,293.4 762.4,314.0 762.7,293.4 763.0,313.0 763.4,296.3 763.8,318.2 764.1,296.3 764.5,318.1 764.8,291.4 765.1,317.1 765.5,291.4 765.9,317.0 766.2,295.2 766.5,311.4 766.9,295.2 767.2,311.4 767.6,296.8 768.0,317.2 768.3,296.7 768.6,317.2 769.0,297.5 769.4,317.9 769.7,297.5 770.0,317.9 770.4,298.1 770.8,315.0 771.1,298.1 771.5,315.0 771.5,291.7" fill="none" stroke="#4f6d9e" stroke-width="2.5" stroke-linejoin="round" stroke-linecap="round"/>
<polyline points="65.5,483.0 65.8,533.3 66.2,583.5 66.6,641.0 66.9,631.4 67.2,630.6 67.6,611.6 68.0,624.4 68.3,610.0 68.7,624.6 69.0,609.8 69.3,623.8 69.7,608.2 70.0,626.5 70.4,608.1 70.8,626.4 71.1,611.8 71.5,623.4 71.8,611.8 72.2,623.3 72.5,606.0 72.8,626.4 73.2,606.0 73.5,626.2 73.9,608.0 74.2,621.0 74.6,608.0 75.0,620.9 75.3,607.2 75.7,625.9 76.0,607.1 76.3,625.8 76.7,608.4 77.0,619.8 77.4,608.3 77.8,619.7 78.1,610.4 78.5,622.1 78.8,610.4 79.2,622.0 79.5,610.1 79.8,622.5 80.2,610.0 80.5,622.4 80.9,610.5 81.2,624.6 81.6,610.0 82.0,621.2 82.3,605.0 82.7,615.4 83.0,602.3 83.3,608.9 83.7,595.8 84.0,595.9 84.4,575.2 84.8,546.6 85.1,518.1 85.5,489.5 85.8,460.9 86.0,444.6 86.5,447.5 86.8,463.0 87.2,449.6 87.5,463.0 87.9,448.1 88.2,465.0 88.6,448.1 89.0,465.0 89.3,449.1 89.7,464.6 90.0,449.1 90.3,464.6 90.7,447.9 91.0,463.0 91.4,447.9 91.8,463.0 92.1,446.9 92.5,466.2 92.8,446.9 93.2,466.2 93.5,448.1 93.8,466.1 94.2,448.1 94.5,466.1 94.9,450.1 95.2,464.8 95.6,450.1 96.0,464.8 96.3,449.1 96.7,465.5 97.0,449.1 97.3,465.5 97.7,444.6 98.0,462.7 98.4,444.6 98.8,462.7 99.1,446.3 99.4,461.0 99.8,446.3 100.2,461.0 100.5,445.2 100.8,464.1 101.2,445.2 101.5,464.1 101.9,445.5 102.2,460.6 102.6,445.5 102.9,462.4 103.4,467.0 103.7,511.7 104.0,574.2 104.4,645.7 104.7,633.8 105.0,635.2 105.4,608.3 105.8,627.2 106.1,612.3 106.4,630.5 106.8,612.4 107.2,628.9 107.5,609.8 107.8,623.4 108.2,610.0 108.5,623.0 108.9,605.5 109.2,625.3 109.6,605.4 109.9,625.1 110.3,610.6 110.7,622.8 111.0,610.5 111.3,622.7 111.7,608.4 112.0,625.4 112.4,608.4 112.8,625.2 113.1,605.2 113.4,623.6 113.8,605.2 114.2,623.4 114.5,609.1 114.8,623.5 115.2,609.0 115.5,623.3 115.9,611.1 116.2,624.0 116.6,611.0 116.9,623.8 117.3,605.6 117.7,621.8 118.0,604.7 118.3,616.4 118.7,601.5 119.0,610.6 119.4,595.1 119.8,594.2 120.1,567.0 120.4,538.5 120.8,509.9 121.2,481.3 121.6,444.6 121.8,451.3 122.2,445.8 122.5,463.5 122.9,448.5 123.2,461.0 123.6,448.5 123.9,461.0 124.3,447.7 124.7,462.7 125.0,447.7 125.3,462.7 125.7,447.1 126.0,465.3 126.4,447.1 126.8,465.3 127.1,445.7 127.4,464.9 127.8,445.7 128.2,464.9 128.5,448.3 128.8,463.4 129.2,448.3 129.6,463.4 129.9,444.7 130.2,460.9 130.6,444.7 130.9,460.9 131.3,447.5 131.6,462.8 132.0,447.5 132.3,462.8 132.7,447.7 133.1,462.7 133.4,447.7 133.8,462.7 134.1,449.9 134.4,465.1 134.8,449.9 135.1,465.1 135.5,447.0 135.8,464.2 136.2,447.0 136.6,464.2 136.9,445.1 137.2,461.7 137.6,452.1 138.0,467.0 138.3,521.0 138.6,584.0 139.0,647.0 139.3,641.4 139.7,621.2 140.1,630.6 140.4,607.0 140.8,628.5 141.1,604.8 141.4,630.1 141.8,605.6 142.1,628.6 142.5,606.4 142.8,623.2 143.2,606.5 143.6,623.0 143.9,607.8 144.2,624.5 144.6,607.8 144.9,624.3 145.3,606.6 145.6,627.3 146.0,606.6 146.3,627.1 146.7,609.4 147.1,620.6 147.4,609.3 147.8,620.4 148.1,609.2 148.4,621.5 148.8,609.2 149.1,621.3 149.5,607.0 149.8,623.0 150.2,606.9 150.6,622.8 150.9,607.0 151.2,623.3 151.6,607.0 151.9,623.1 152.3,610.3 152.6,615.9 153.0,605.9 153.3,609.5 153.7,597.4 154.1,596.6 154.4,575.2 154.8,546.6 155.1,518.0 155.4,489.5 155.8,460.9 156.0,444.6 156.5,446.0 156.8,459.8 157.2,447.3 157.6,459.8 157.9,444.2 158.2,467.4 158.6,444.2 158.9,467.4 159.3,449.1 159.6,465.2 160.0,449.1 160.3,465.2 160.7,449.2 161.1,461.9 161.4,449.2 161.8,461.9 162.1,444.1 162.4,463.3 162.8,444.1 163.1,463.3 163.5,445.1 163.8,462.8 164.2,445.1 164.6,462.8 164.9,450.2 165.2,463.2 165.6,450.2 165.9,463.2 166.3,451.1 166.6,461.1 167.0,451.1 167.3,461.1 167.7,447.6 168.1,467.0 168.4,447.6 168.8,467.0 169.1,446.0 169.4,462.8 169.8,446.0 170.1,462.8 170.5,449.0 170.8,460.2 171.2,449.0 171.6,460.2 171.9,450.4 172.2,464.3 172.6,458.2 172.9,467.0 173.3,539.0 173.6,602.0 173.9,647.0 174.3,639.0 174.7,615.7 175.1,628.0 175.4,605.2 175.8,626.9 176.1,603.9 176.4,628.1 176.8,604.7 177.1,626.8 177.5,610.3 177.8,624.1 178.2,610.2 178.6,623.9 178.9,609.3 179.2,624.7 179.6,609.2 179.9,624.5 180.3,605.8 180.6,621.8 181.0,605.8 181.3,621.6 181.7,610.4 182.1,623.7 182.4,610.3 182.8,623.5 183.1,606.5 183.4,622.3 183.8,606.4 184.1,622.1 184.5,609.0 184.8,624.5 185.2,609.0 185.6,624.3 185.9,605.9 186.2,626.1 186.6,605.8 186.9,623.3 187.3,605.8 187.6,612.1 188.0,600.8 188.3,600.6 188.7,590.0 189.1,562.4 189.4,533.2 189.8,504.1 190.1,474.9 190.5,441.6 190.8,441.4 191.1,457.8 191.5,447.3 191.8,463.9 192.2,447.4 192.6,463.9 192.9,448.5 193.2,465.1 193.6,448.6 193.9,465.1 194.3,445.9 194.7,464.1 195.0,446.0 195.3,464.1 195.7,449.4 196.0,463.5 196.4,449.5 196.8,463.5 197.1,446.2 197.4,460.4 197.8,446.3 198.2,460.4 198.5,445.3 198.8,462.4 199.2,445.4 199.5,462.4 199.9,448.9 200.2,464.8 200.6,449.0 200.9,464.8 201.3,447.3 201.6,463.4 202.0,447.4 202.3,463.4 202.7,448.2 203.0,464.5 203.4,448.3 203.8,464.5 204.1,449.6 204.4,462.0 204.8,449.7 205.1,462.0 205.5,447.7 205.8,466.2 206.2,447.8 206.5,466.2 206.9,449.1 207.4,467.0 207.6,501.3 207.9,561.3 208.4,638.4 208.6,636.5 209.0,611.1 209.3,628.7 209.7,588.4 210.0,622.2 210.4,584.9 210.8,617.9 211.1,581.2 211.4,607.9 211.8,577.7 212.1,604.0 212.5,573.6 212.8,606.3 213.2,572.7 213.5,603.5 213.9,573.8 214.2,599.2 214.6,572.8 214.9,596.5 215.3,576.3 215.6,592.4 216.0,574.7 216.3,589.7 216.7,568.1 217.0,584.4 217.4,567.5 217.8,575.9 218.1,568.6 218.4,566.7 218.8,558.7 219.1,556.8 219.5,548.9 219.8,547.0 220.2,539.0 220.5,537.1 220.9,522.9 221.2,504.3 221.6,485.8 222.1,459.3 222.3,460.0 222.6,474.6 223.0,468.2 223.3,489.3 223.7,473.6 224.0,488.0 224.4,474.7 224.8,489.3 225.1,473.5 225.4,494.5 225.8,474.3 226.1,494.9 226.5,478.8 226.8,489.4 227.2,478.8 227.5,489.4 227.9,476.1 228.2,493.6 228.6,476.1 228.9,493.6 229.3,475.4 229.6,491.0 230.0,475.4 230.3,491.0 230.7,479.6 231.0,494.5 231.4,479.6 231.8,494.5 232.1,475.3 232.4,492.5 232.8,475.3 233.1,492.5 233.5,475.0 233.8,493.7 234.2,475.0 234.5,493.7 234.9,476.1 235.2,490.3 235.6,476.2 235.9,490.3 236.3,478.5 236.6,492.5 237.0,478.5 237.3,492.5 237.7,477.2 238.0,490.6 238.4,477.2 238.8,490.6 239.1,475.8 239.4,492.9 239.8,475.8 240.1,492.9 240.5,476.9 240.8,492.4 241.2,476.9 241.5,492.4 241.9,477.6 242.2,493.5 242.6,477.6 242.9,493.5 243.3,480.2 243.6,490.1 244.0,480.3 244.3,490.1 244.7,477.4 245.0,497.2 245.4,479.9 245.8,498.3 246.0,496.0 246.4,514.9 246.8,529.5 247.1,544.2 247.5,558.8 247.8,573.5 248.2,588.2 248.5,602.8 248.8,613.3 249.2,609.4 249.6,589.5 249.9,603.0 250.3,583.4 250.6,602.2 251.0,580.1 251.3,599.3 251.7,573.9 252.0,590.3 252.4,572.3 252.8,590.1 253.1,575.9 253.4,595.4 253.8,575.7 254.1,595.1 254.5,572.2 254.8,589.3 255.2,572.1 255.5,589.1 255.9,576.3 256.2,589.1 256.6,576.2 256.9,588.8 257.3,572.2 257.6,593.8 258.0,572.1 258.4,593.5 258.7,571.4 259.0,592.9 259.4,571.4 259.8,592.4 260.1,576.5 260.4,587.2 260.8,576.6 261.1,586.9 261.5,577.5 261.9,591.9 262.2,585.6 262.5,587.6 262.9,576.8 263.2,571.9 263.6,561.0 263.9,556.1 264.3,545.3 264.6,540.4 265.0,523.8 265.4,503.2 265.7,482.7 266.2,453.4 266.4,456.0 266.8,470.4 267.1,470.6 267.4,484.9 267.8,475.4 268.1,486.2 268.5,476.1 268.9,489.3 269.2,477.2 269.5,490.6 269.9,474.6 270.2,494.1 270.6,474.6 270.9,494.2 271.3,477.1 271.6,490.4 272.0,477.2 272.4,490.4 272.7,473.0 273.0,491.2 273.4,473.1 273.8,491.2 274.1,477.6 274.4,495.0 274.8,477.6 275.1,495.0 275.5,477.9 275.9,493.5 276.2,477.9 276.5,493.5 276.9,480.1 277.2,489.6 277.6,480.1 277.9,489.6 278.3,474.8 278.6,490.1 279.0,474.8 279.4,490.2 279.7,479.8 280.0,493.6 280.5,496.0 280.8,506.5 281.1,521.1 281.4,535.8 281.8,550.5 282.1,565.1 282.5,579.8 282.9,594.4 283.3,613.3 283.5,611.8 283.9,596.1 284.2,603.0 284.6,583.8 284.9,599.7 285.3,583.9 285.6,599.5 286.0,580.6 286.4,596.6 286.7,577.8 287.0,593.5 287.4,577.6 287.8,593.2 288.1,575.3 288.4,594.5 288.8,575.2 289.1,594.3 289.5,572.8 289.9,592.4 290.2,572.7 290.5,592.1 290.9,571.6 291.2,590.9 291.6,571.5 291.9,590.7 292.3,574.4 292.6,590.5 293.0,574.3 293.4,590.3 293.7,572.3 294.0,592.7 294.4,572.2 294.8,592.4 295.1,571.3 295.4,587.5 295.8,571.6 296.1,587.1 296.5,573.3 296.9,590.5 297.2,579.8 297.5,591.0 297.9,583.5 298.2,578.6 298.6,567.7 298.9,562.9 299.3,552.0 299.6,547.1 300.0,536.3 300.4,522.4 300.7,504.0 301.0,485.6 301.5,462.0 301.8,469.8 302.1,467.4 302.4,485.1 302.8,473.4 303.1,489.5 303.5,470.5 303.9,492.2 304.2,471.6 304.5,493.6 304.9,473.5 305.2,490.7 305.6,473.7 305.9,490.8 306.3,478.1 306.6,491.7 307.0,478.1 307.4,491.7 307.7,474.0 308.0,491.2 308.4,474.1 308.8,491.2 309.1,474.5 309.4,492.5 309.8,474.5 310.1,492.5 310.5,476.8 310.9,492.9 311.2,476.9 311.5,492.9 311.9,477.3 312.2,491.7 312.6,477.3 312.9,491.7 313.3,477.8 313.6,495.1 314.0,477.8 314.4,495.2 314.7,477.2 315.0,495.7 315.5,496.0 315.8,506.4 316.1,521.1 316.4,535.7 316.8,550.3 317.1,564.9 317.5,579.6 317.9,594.2 318.3,613.0 318.5,612.0 318.9,595.1 319.2,604.6 319.6,582.3 319.9,601.4 320.3,582.6 320.6,593.8 321.0,579.3 321.4,590.8 321.7,572.5 322.1,591.8 322.4,572.4 322.8,591.5 323.1,574.0 323.4,592.9 323.8,573.8 324.1,592.7 324.5,572.7 324.8,593.4 325.2,572.6 325.6,593.1 325.9,572.1 326.2,591.0 326.6,572.0 326.9,590.8 327.3,574.3 327.6,588.9 328.0,574.2 328.3,588.6 328.7,577.7 329.1,594.3 329.4,577.7 329.8,593.7 330.1,569.8 330.4,588.7 330.8,570.1 331.1,589.4 331.5,585.4 331.8,587.6 332.2,576.8 332.6,571.9 332.9,561.0 333.2,556.1 333.6,545.3 333.9,540.4 334.3,524.6 334.6,505.4 335.0,486.3 335.5,459.0 335.7,460.1 336.0,474.0 336.4,469.9 336.8,488.5 337.1,471.0 337.4,487.0 337.8,472.0 338.1,488.3 338.5,478.3 338.8,494.0 339.2,479.1 339.5,494.3 339.9,475.1 340.2,493.9 340.6,475.1 340.9,493.9 341.3,476.5 341.6,493.3 342.0,476.5 342.3,493.4 342.7,477.0 343.0,493.2 343.4,477.0 343.8,493.2 344.1,474.5 344.4,492.6 344.8,474.5 345.1,492.6 345.5,480.0 345.8,491.7 346.2,480.0 346.5,491.8 346.9,475.9 347.2,489.6 347.6,475.9 347.9,489.7 348.3,475.0 348.6,491.7 349.0,480.8 349.5,496.0 349.7,504.4 350.0,519.0 350.4,533.6 350.8,548.2 351.1,562.9 351.4,577.5 351.8,592.1 352.3,613.0 352.5,606.6 352.8,609.1 353.2,588.5 353.5,603.7 353.9,586.4 354.2,596.2 354.6,583.1 354.9,593.2 355.3,573.5 355.6,590.8 356.0,572.4 356.3,590.6 356.7,576.1 357.0,591.9 357.4,575.9 357.8,591.6 358.1,574.3 358.4,590.1 358.8,574.1 359.1,589.9 359.5,575.4 359.8,593.2 360.2,575.3 360.5,592.9 360.9,576.5 361.2,593.2 361.6,576.4 361.9,592.9 362.3,574.7 362.6,589.8 363.0,574.6 363.3,589.5 363.7,575.1 364.0,591.1 364.4,575.2 364.8,590.6 365.1,577.5 365.4,590.6 365.8,577.5 366.1,590.7 366.5,584.8 366.8,587.6 367.2,576.8 367.5,571.9 367.9,561.0 368.2,556.1 368.6,545.3 368.9,540.4 369.3,525.0 369.6,506.6 370.0,488.3 370.5,462.0 370.7,463.2 371.0,475.0 371.4,472.9 371.8,487.2 372.1,475.1 372.4,486.6 372.8,476.2 373.1,488.0 373.5,475.2 373.8,494.4 374.2,476.0 374.5,494.8 374.9,479.4 375.2,493.3 375.6,479.4 375.9,493.3 376.3,474.8 376.6,489.8 377.0,474.8 377.3,489.8 377.7,476.1 378.0,492.7 378.4,476.2 378.8,492.7 379.1,474.4 379.4,495.3 379.8,474.4 380.1,495.3 380.5,478.4 380.8,495.1 381.2,478.5 381.5,495.2 381.9,478.5 382.2,489.5 382.6,478.6 382.9,489.6 383.3,477.4 383.6,495.5 384.0,496.0 384.3,511.0 384.7,526.0 385.0,541.0 385.4,556.0 385.8,571.0 386.1,586.0 386.4,601.0 386.8,616.0 387.1,612.6 387.5,592.0 387.8,600.0 388.2,580.8 388.5,596.9 388.9,578.7 389.2,594.2 389.6,575.2 389.9,591.1 390.3,575.2 390.6,595.2 391.0,575.1 391.3,595.0 391.7,575.5 392.0,595.2 392.4,575.4 392.8,594.9 393.1,574.2 393.4,594.9 393.8,574.1 394.1,594.6 394.5,577.8 394.8,590.0 395.2,577.7 395.5,589.7 395.9,571.7 396.2,593.2 396.6,571.6 396.9,593.0 397.3,571.7 397.6,588.8 398.0,571.6 398.3,588.5 398.7,573.9 399.0,588.9 399.4,574.1 399.8,588.5 400.1,573.6 400.4,588.7 400.8,580.1 401.1,590.7 401.5,583.5 401.8,578.6 402.2,567.8 402.5,562.9 402.9,552.0 403.2,547.1 403.6,536.3 403.9,521.8 404.3,502.7 404.6,483.6 405.1,459.0 405.3,466.8 405.7,467.4 406.0,485.7 406.4,475.1 406.8,490.7 407.1,472.6 407.4,490.2 407.8,473.6 408.1,491.6 408.5,476.3 408.8,493.8 409.2,476.5 409.5,493.8 409.9,478.6 410.2,494.4 410.6,478.7 410.9,494.4 411.3,477.4 411.6,491.0 412.0,477.4 412.3,491.1 412.7,474.7 413.0,489.3 413.4,474.8 413.8,489.3 414.1,474.3 414.4,491.8 414.8,474.4 415.1,491.8 415.5,479.9 415.8,489.3 416.2,479.9 416.5,489.3 416.9,480.1 417.2,490.9 417.6,480.2 417.9,492.2 418.3,488.8 418.5,496.0 419.0,520.1 419.3,537.0 419.7,553.9 420.0,570.7 420.4,587.6 420.8,604.5 421.1,621.4 421.3,631.0 421.8,622.3 422.1,628.8 422.5,604.8 422.8,627.8 423.2,604.8 423.5,626.5 423.9,612.0 424.2,624.3 424.6,611.6 424.9,623.2 425.3,606.8 425.6,627.0 426.0,606.8 426.3,626.9 426.7,607.9 427.0,627.1 427.4,607.8 427.8,626.9 428.1,610.8 428.4,625.6 428.8,610.7 429.1,625.4 429.5,606.9 429.8,624.3 430.2,606.9 430.5,624.1 430.9,609.4 431.2,624.6 431.6,609.3 431.9,624.4 432.3,606.1 432.6,625.1 433.0,606.0 433.3,624.9 433.7,605.8 434.0,621.4 434.4,605.8 434.8,621.3 435.1,610.0 435.4,623.9 435.8,609.4 436.1,619.2 436.5,604.8 436.8,612.8 437.2,597.5 437.5,596.7 437.9,575.2 438.2,546.6 438.6,518.1 438.9,489.5 439.3,460.9 439.5,444.6 440.0,446.6 440.3,464.0 440.7,448.0 441.0,463.5 441.4,447.9 441.8,463.5 442.1,447.0 442.4,464.2 442.8,447.0 443.1,464.2 443.5,446.7 443.8,462.5 444.2,446.7 444.5,462.5 444.9,444.4 445.2,460.9 445.6,444.4 445.9,460.9 446.3,446.1 446.6,465.1 447.0,446.1 447.3,465.1 447.7,447.7 448.0,466.4 448.4,447.7 448.8,466.4 449.1,450.3 449.4,465.6 449.8,450.3 450.1,465.6 450.5,447.4 450.8,464.0 451.2,447.4 451.5,464.0 451.9,446.7 452.2,464.5 452.6,446.7 452.9,464.5 453.3,450.1 453.6,464.2 454.0,450.1 454.3,464.2 454.7,448.4 455.0,461.2 455.4,448.4 455.8,461.2 456.1,449.9 456.4,465.8 456.8,467.0 457.1,529.5 457.5,592.1 457.8,645.7 458.2,631.7 458.5,635.9 458.9,611.5 459.2,625.3 459.6,611.7 459.9,624.2 460.3,611.1 460.6,626.4 461.0,611.3 461.3,625.1 461.7,606.1 462.0,627.0 462.4,606.1 462.8,626.7 463.1,610.5 463.4,625.8 463.8,610.4 464.1,625.6 464.5,609.1 464.8,621.3 465.2,609.0 465.5,621.1 465.9,610.7 466.2,626.2 466.6,610.6 466.9,626.0 467.3,609.1 467.6,624.7 468.0,609.0 468.3,624.5 468.7,608.8 469.0,620.3 469.4,608.8 469.8,620.1 470.1,610.7 470.4,622.2 470.8,610.6 471.1,622.0 471.5,608.1 471.8,615.4 472.2,603.7 472.5,606.8 472.9,594.0 473.2,587.3 473.6,558.2 473.9,529.0 474.3,499.9 474.6,470.7 475.0,441.6 475.3,451.4 475.7,446.9 476.0,464.6 476.4,447.8 476.8,464.6 477.1,449.0 477.4,461.4 477.8,449.1 478.1,461.5 478.5,441.2 478.8,463.5 479.2,441.3 479.5,463.5 479.9,447.6 480.2,459.9 480.6,447.7 480.9,460.0 481.3,446.0 481.6,464.9 482.0,446.1 482.3,464.9 482.7,444.3 483.0,461.7 483.4,444.5 483.8,461.7 484.1,444.8 484.4,461.7 484.8,444.9 485.1,461.7 485.5,450.4 485.8,462.2 486.2,450.5 486.5,462.2 486.9,450.0 487.2,461.9 487.6,450.0 487.9,461.9 488.3,450.3 488.6,460.4 489.0,450.4 489.3,460.5 489.7,445.4 490.0,466.5 490.4,445.6 490.8,466.5 491.1,457.2 491.4,467.0 491.8,538.5 492.1,601.0 492.4,645.7 492.8,640.7 493.2,614.6 493.5,631.8 493.9,611.7 494.2,625.0 494.6,611.9 494.9,624.0 495.3,610.0 495.6,624.3 496.0,610.4 496.3,623.6 496.7,611.2 497.0,622.0 497.4,611.2 497.8,621.8 498.1,606.1 498.4,625.5 498.8,606.1 499.1,625.3 499.5,606.8 499.8,622.6 500.2,606.7 500.5,622.4 500.9,609.7 501.2,626.6 501.6,609.6 501.9,626.4 502.3,609.2 502.6,625.4 503.0,609.1 503.3,625.2 503.7,606.1 504.0,624.7 504.4,606.0 504.8,624.5 505.1,606.2 505.4,622.2 505.8,605.6 506.1,617.7 506.5,602.2 506.8,612.4 507.2,596.1 507.5,596.6 507.9,574.8 508.2,545.7 508.6,516.6 508.9,487.4 509.3,458.3 509.5,441.6 510.0,446.2 510.3,465.7 510.7,445.3 511.0,461.3 511.4,445.4 511.8,461.4 512.1,447.3 512.5,461.7 512.8,447.4 513.1,461.7 513.5,447.0 513.8,465.7 514.2,447.1 514.5,465.7 514.9,444.6 515.2,461.8 515.6,444.7 516.0,461.8 516.3,447.4 516.6,462.7 517.0,447.5 517.3,462.7 517.7,445.9 518.0,461.6 518.4,446.0 518.8,461.6 519.1,446.0 519.5,464.2 519.8,446.1 520.1,464.2 520.5,447.1 520.8,465.3 521.2,447.2 521.5,465.3 521.9,444.5 522.2,466.0 522.6,444.6 523.0,466.0 523.3,450.5 523.6,462.1 524.0,450.6 524.3,462.1 524.7,444.9 525.0,465.5 525.4,445.1 525.8,465.5 526.1,447.1 526.5,465.9 526.7,467.0 527.1,547.4 527.5,610.0 527.7,645.7 528.2,627.8 528.5,637.0 528.9,610.2 529.2,632.4 529.6,610.4 530.0,630.7 530.3,608.2 530.6,628.5 531.0,608.6 531.3,627.1 531.7,610.4 532.0,625.8 532.4,610.3 532.8,625.5 533.1,610.3 533.5,627.0 533.8,610.2 534.1,626.8 534.5,609.8 534.8,620.9 535.2,609.7 535.5,620.7 535.9,607.6 536.2,621.9 536.6,607.5 537.0,621.7 537.3,606.4 537.6,625.3 538.0,606.3 538.3,625.0 538.7,610.1 539.0,620.1 539.4,610.0 539.8,618.6 540.1,604.2 540.5,614.1 540.8,600.5 541.1,603.6 541.5,591.1 541.8,571.1 542.2,542.5 542.5,514.0 542.9,485.4 543.4,444.6 543.6,444.0 544.0,458.7 544.3,448.1 544.6,462.8 545.0,448.1 545.3,462.8 545.7,447.4 546.0,463.7 546.4,447.4 546.8,463.7 547.1,448.7 547.5,460.6 547.8,448.7 548.1,460.6 548.5,449.1 548.8,461.0 549.2,449.1 549.5,461.0 549.9,448.4 550.2,463.5 550.6,448.4 551.0,463.5 551.3,447.9 551.6,461.1 552.0,447.9 552.3,461.1 552.7,450.6 553.0,461.3 553.4,450.6 553.8,461.3 554.1,450.5 554.5,461.8 554.8,450.5 555.1,461.7 555.5,446.9 555.8,463.7 556.2,446.9 556.5,463.7 556.9,445.9 557.2,462.0 557.6,445.9 558.0,462.0 558.3,450.2 558.6,460.9 559.0,450.2 559.3,460.9 559.7,446.1 560.0,462.9 560.4,452.8 560.8,467.0 561.1,518.9 561.5,579.4 561.8,639.9 562.1,634.3 562.5,607.0 562.8,628.5 563.2,587.2 563.5,623.8 563.9,590.4 564.2,608.0 564.6,586.7 565.0,603.8 565.3,577.9 565.6,606.7 566.0,576.2 566.3,603.5 566.7,571.4 567.0,599.8 567.4,570.4 567.8,596.5 568.1,573.9 568.5,589.6 568.8,572.3 569.1,587.0 569.5,573.0 569.8,589.3 570.2,571.5 570.5,576.1 570.9,567.2 571.2,565.3 571.6,557.3 572.0,555.4 572.3,547.5 572.6,545.6 573.0,537.6 573.3,535.7 573.7,516.7 574.0,497.0 574.4,477.4 574.8,454.9 575.1,459.1 575.5,476.0 575.8,472.0 576.1,490.3 576.5,476.7 576.8,488.5 577.2,477.9 577.5,489.8 577.9,474.3 578.2,491.1 578.6,474.9 578.9,491.2 579.3,478.2 579.6,492.4 580.0,478.3 580.4,492.4 580.7,477.4 581.0,492.5 581.4,477.4 581.8,492.6 582.1,474.3 582.4,493.4 582.8,474.3 583.1,493.5 583.5,478.2 583.9,491.5 584.2,478.2 584.5,491.5 584.9,474.8 585.2,495.8 585.6,474.8 585.9,495.8 586.3,478.4 586.6,489.3 587.0,478.4 587.4,489.4 587.7,477.7 588.0,490.3 588.4,477.7 588.8,490.3 589.1,479.9 589.4,493.6 589.8,480.0 590.1,493.7 590.5,476.3 590.9,493.9 591.2,476.4 591.5,493.9 591.9,478.2 592.2,493.1 592.6,478.2 592.9,493.1 593.3,474.6 593.6,492.6 594.0,474.6 594.4,492.6 594.7,479.1 595.0,493.9 595.4,479.1 595.8,494.0 596.1,478.7 596.4,493.9 596.8,478.7 597.1,493.9 597.5,477.7 597.9,491.9 598.2,477.7 598.5,492.0 598.9,479.1 599.2,493.8 599.5,496.0 599.9,514.9 600.3,529.5 600.6,544.2 601.0,558.8 601.4,573.5 601.7,588.2 602.0,602.8 602.3,613.3 602.8,609.0 603.1,594.0 603.4,599.9 603.8,586.9 604.1,596.8 604.5,579.6 604.8,595.0 605.2,576.2 605.5,592.3 605.9,577.2 606.2,596.6 606.6,577.0 606.9,596.3 607.3,570.1 607.6,590.5 608.0,570.0 608.3,590.2 608.7,577.1 609.0,592.9 609.4,577.0 609.8,592.6 610.1,577.0 610.4,592.9 610.8,576.8 611.1,592.6 611.5,572.9 611.8,588.1 612.2,572.9 612.5,587.8 612.9,572.3 613.2,588.6 613.6,572.6 613.9,588.2 614.3,575.9 614.6,587.7 615.0,584.2 615.3,589.9 615.7,579.0 616.0,574.1 616.4,563.3 616.8,558.4 617.1,547.5 617.4,542.6 617.8,529.6 618.1,509.1 618.5,488.6 618.8,468.1 619.1,453.4 619.5,467.9 619.9,465.0 620.2,487.0 620.6,470.6 620.9,488.3 621.3,474.6 621.6,488.0 622.0,475.7 622.3,489.3 622.7,474.9 623.0,489.3 623.4,474.9 623.8,489.3 624.1,476.1 624.4,489.6 624.8,476.2 625.1,489.6 625.5,475.3 625.8,493.6 626.2,475.4 626.5,493.6 626.9,479.7 627.2,491.1 627.6,479.7 627.9,491.2 628.3,475.0 628.6,489.9 629.0,475.0 629.3,489.9 629.7,473.7 630.0,494.1 630.4,473.8 630.8,494.2 631.1,477.1 631.4,492.7 631.8,477.2 632.1,492.7 632.5,484.1 633.0,496.0 633.2,504.5 633.5,519.4 633.9,534.2 634.2,549.1 634.6,564.0 634.9,578.9 635.3,593.7 635.8,615.0 636.0,608.7 636.3,608.7 636.7,588.2 637.0,604.0 637.4,582.5 637.8,601.1 638.1,580.3 638.4,597.2 638.8,576.9 639.1,594.8 639.5,576.3 639.8,591.6 640.2,576.2 640.5,591.4 640.9,577.1 641.2,591.2 641.6,576.9 641.9,591.0 642.3,577.6 642.6,588.8 643.0,577.4 643.3,588.6 643.7,574.9 644.0,590.2 644.4,574.8 644.8,590.0 645.1,573.4 645.4,590.6 645.8,573.3 646.1,590.4 646.5,570.6 646.8,591.8 647.2,570.5 647.5,591.5 647.9,574.5 648.2,587.4 648.6,574.7 648.9,587.1 649.3,575.2 649.6,590.3 650.0,582.6 650.3,591.0 650.7,581.3 651.0,576.4 651.4,565.5 651.8,560.6 652.1,549.8 652.4,544.9 652.8,534.0 653.1,516.5 653.5,497.4 653.8,478.4 654.2,459.3 654.5,469.7 654.9,466.4 655.2,484.8 655.6,471.5 655.9,487.3 656.3,471.9 656.6,492.5 657.0,473.0 657.3,493.9 657.7,478.0 658.0,493.8 658.4,478.0 658.8,493.8 659.1,477.8 659.4,489.8 659.8,477.8 660.1,489.9 660.5,474.5 660.8,492.1 661.2,474.5 661.5,492.1 661.9,475.1 662.2,490.8 662.6,475.1 662.9,490.8 663.3,474.8 663.6,490.6 664.0,474.9 664.3,490.7 664.7,479.1 665.0,495.2 665.4,479.1 665.8,495.3 666.1,475.5 666.4,490.2 666.8,475.5 667.1,490.2 667.5,484.7 667.9,496.0 668.2,508.7 668.5,523.6 668.9,538.5 669.2,553.4 669.6,568.2 669.9,583.1 670.3,598.0 670.7,615.0 671.0,605.4 671.3,605.0 671.7,586.4 672.0,599.8 672.4,583.0 672.8,596.8 673.1,578.9 673.4,595.9 673.8,575.5 674.1,593.9 674.5,577.4 674.8,596.5 675.2,577.2 675.5,596.2 675.9,575.7 676.2,591.8 676.6,575.6 676.9,591.6 677.3,574.1 677.6,589.8 678.0,574.0 678.3,589.6 678.7,575.1 679.0,589.8 679.4,575.0 679.8,589.5 680.1,576.1 680.4,592.9 680.8,576.0 681.1,592.7 681.5,573.3 681.8,592.9 682.2,573.4 682.5,592.3 682.9,572.8 683.2,592.4 683.6,573.1 683.9,591.8 684.3,580.8 684.6,591.5 685.0,585.8 685.3,580.9 685.7,570.0 686.0,565.1 686.4,554.3 686.8,549.4 687.1,538.5 687.4,527.6 687.8,509.3 688.1,490.9 688.5,472.5 688.7,462.0 689.2,467.2 689.5,483.3 689.9,469.7 690.2,486.7 690.6,470.8 690.9,488.0 691.3,473.8 691.6,493.6 692.0,474.8 692.3,494.8 692.7,477.1 693.0,489.1 693.4,477.1 693.8,489.2 694.1,476.4 694.4,492.2 694.8,476.4 695.1,492.2 695.5,476.1 695.8,495.0 696.2,476.2 696.5,495.0 696.9,475.8 697.2,492.8 697.6,475.8 697.9,492.9 698.3,474.3 698.6,493.0 699.0,474.3 699.3,493.0 699.7,473.7 700.0,490.6 700.4,473.8 700.8,490.7 701.1,477.3 701.4,495.2 701.8,477.3 702.1,496.5 702.5,496.0 702.8,511.4 703.2,526.7 703.5,542.1 703.9,557.5 704.2,572.9 704.6,588.2 704.9,603.6 705.3,619.0 705.6,615.8 706.0,595.0 706.3,606.2 706.7,584.0 707.0,602.8 707.4,580.5 707.8,599.9 708.1,575.5 708.4,590.6 708.8,573.5 709.1,590.2 709.5,574.4 709.8,591.6 710.2,574.3 710.5,591.4 710.9,572.4 711.2,597.4 711.6,572.3 711.9,597.1 712.3,571.5 712.6,589.1 713.0,571.5 713.3,588.9 713.7,571.6 714.0,592.5 714.4,571.5 714.8,592.3 715.1,573.1 715.4,593.4 715.8,573.0 716.1,593.1 716.5,575.7 716.8,592.4 717.2,575.8 717.5,591.8 717.9,574.9 718.2,591.3 718.6,575.0 718.9,591.0 719.3,584.5 719.6,587.6 720.0,576.7 720.3,571.9 720.7,561.0 721.0,556.1 721.4,545.3 721.8,540.4 722.1,525.0 722.4,506.6 722.8,488.3 723.3,462.0 723.5,462.9 723.8,476.1 724.2,470.7 724.5,489.5 724.9,474.0 725.2,490.8 725.6,475.1 725.9,492.2 726.3,476.9 726.6,494.6 727.0,477.7 727.3,494.9 727.7,479.0 728.0,495.1 728.4,479.1 728.8,495.2 729.1,476.2 729.4,489.1 729.8,476.3 730.1,489.1 730.5,475.7 730.8,494.1 731.2,475.7 731.5,494.2 731.9,477.9 732.2,489.9 732.6,477.9 732.9,489.9 733.3,477.9 733.6,489.3 734.0,477.9 734.3,489.4 734.7,476.4 735.0,490.2 735.4,476.4 735.8,490.3 736.1,478.8 736.4,495.4 736.8,488.3 737.1,496.0 737.5,513.0 737.8,527.9 738.2,542.7 738.5,557.6 738.9,572.5 739.2,587.4 739.6,602.2 739.9,615.0 740.3,603.8 740.6,605.8 741.0,587.5 741.3,600.4 741.7,583.7 742.0,599.1 742.4,580.4 742.8,596.2 743.1,576.0 743.4,591.2 743.8,575.9 744.1,591.0 744.5,575.4 744.8,591.0 745.2,575.3 745.5,590.7 745.9,572.2 746.2,591.7 746.6,572.1 746.9,591.4 747.3,575.1 747.6,593.1 748.0,575.0 748.3,592.8 748.7,577.0 749.0,592.3 749.4,576.9 749.8,592.1 750.1,572.8 750.4,594.1 750.8,572.7 751.1,593.8 751.5,573.9 751.8,590.4 752.2,574.1 752.5,589.9 752.9,574.5 753.2,588.7 753.6,578.7 753.9,590.3 754.3,585.8 754.6,580.9 755.0,570.0 755.3,565.1 755.7,554.3 756.0,549.4 756.4,538.5 756.8,527.3 757.1,508.2 757.4,489.1 757.8,469.9 758.0,459.0 758.5,465.4 758.8,481.2 759.2,474.2 759.5,488.4 759.9,471.8 760.2,487.2 760.6,472.8 760.9,488.6 761.3,475.8 761.6,491.7 762.0,476.1 762.3,491.7 762.7,479.8 763.0,490.6 763.4,479.9 763.8,490.6 764.1,476.6 764.4,492.5 764.8,476.6 765.1,492.5 765.5,473.5 765.8,494.6 766.2,473.6 766.5,494.6 766.9,478.0 767.2,491.5 767.6,478.0 767.9,491.5 768.3,476.7 768.6,491.7 769.0,476.7 769.3,491.7 769.7,479.9 770.0,492.5 770.4,479.9 770.8,492.5 771.1,476.2 771.4,491.7 771.5,476.2" fill="none" stroke="#eaae00" stroke-width="2.5" stroke-linejoin="round" stroke-linecap="round"/>
<polyline points="757.0,556.9 757.2,567.0 757.5,556.9 757.8,569.3 758.0,558.5 758.2,569.3 758.5,556.1 758.8,568.3 759.0,556.2 759.2,567.3 759.5,559.3 759.8,567.3 760.0,558.6 760.2,566.1 760.5,558.6 760.8,569.1 761.0,558.6 761.2,569.2 761.5,556.9 761.8,569.3 762.0,557.0 762.2,566.7 762.5,558.9 762.8,566.7 763.0,557.9 763.2,567.1 763.5,557.9 763.8,569.1 764.0,559.9 764.2,569.1 764.5,560.1 764.8,567.8 765.0,560.2 765.2,568.2 765.5,558.5 765.8,568.2 766.0,558.7 766.2,566.9 766.5,558.7 766.8,565.8 767.0,559.8 767.2,565.8 767.5,559.4 767.8,566.1 768.0,559.4 768.2,569.1 768.5,559.1 768.8,569.1 769.0,557.4 769.2,570.6 769.5,557.4 769.8,566.8 770.0,557.2 770.2,566.8 770.5,557.5 770.8,566.9 771.0,557.5 771.2,569.8 771.5,559.1 771.5,569.8" fill="none" stroke="#eaae00" stroke-width="1.3" stroke-linejoin="round" stroke-linecap="round"/>
<rect x="64.80" y="41.50" width="707.70" height="708.20" fill="none" stroke="#161616" stroke-width="2.9"/>
</g>
<g id="plot-b">
<polyline points="927.5,254.2 927.9,267.8 928.2,253.0 928.5,266.8 928.9,254.8 929.2,266.2 929.6,253.3 930.0,265.9 930.3,252.2 930.6,264.6 931.0,250.7 931.4,263.5 931.7,246.0 932.0,261.5 932.4,244.2 932.8,259.2 933.1,245.7 933.5,256.8 933.8,244.2 934.1,254.3 934.5,240.8 934.9,253.9 935.2,239.4 935.5,252.0 935.9,238.3 936.2,250.0 936.6,236.8 937.0,248.7 937.3,236.0 937.6,246.2 938.0,234.9 938.4,245.1 938.7,234.1 939.0,243.8 939.4,232.8 939.8,242.5 940.1,231.0 940.5,240.9 940.8,229.1 941.1,239.0 941.5,226.7 941.9,238.9 942.2,225.4 942.5,238.1 942.9,223.5 943.2,236.8 943.6,222.5 944.0,236.3 944.3,224.6 944.6,234.5 945.0,224.4 945.4,234.2 945.7,220.6 946.0,235.4 946.4,220.7 946.8,235.3 947.1,220.0 947.5,234.4 947.8,219.8 948.1,234.1 948.5,217.6 948.9,236.3 949.2,217.3 949.5,236.0 949.9,220.5 950.2,234.8 950.6,220.2 951.0,234.6 951.3,221.8 951.6,234.7 952.0,221.6 952.4,234.6 952.7,219.8 953.0,233.3 953.4,219.8 953.8,233.5 954.1,219.6 954.5,234.1 954.8,219.7 955.1,234.3 955.5,222.5 955.9,235.5 956.2,222.4 956.5,235.2 956.9,217.7 957.2,234.0 957.6,217.6 958.0,232.8 958.3,219.3 958.6,229.1 959.0,219.2 959.4,228.2 959.7,221.3 960.0,230.0 960.4,221.2 960.8,230.3 961.1,218.5 961.5,230.5 961.8,218.0 962.1,231.3 962.5,215.0 962.9,232.1 963.2,214.5 963.5,232.5 963.9,218.4 964.2,231.0 964.6,218.3 965.0,230.8 965.3,219.5 965.6,230.7 966.0,219.7 966.4,230.4 966.7,219.2 967.0,233.0 967.4,219.4 967.8,232.8 968.1,219.8 968.5,230.6 968.8,220.0 969.1,230.3 969.5,217.9 969.9,229.6 970.2,218.6 970.5,229.2 970.9,219.5 971.2,228.3 971.6,219.9 972.0,228.1 972.3,220.1 972.6,228.4 973.0,219.6 973.4,228.4 973.7,219.4 974.0,228.0 974.4,218.4 974.8,228.0 975.1,219.3 975.5,230.2 975.8,218.8 976.1,230.2 976.5,217.2 976.9,230.9 977.2,217.4 977.5,231.1 977.9,218.0 978.2,233.6 978.6,218.2 979.0,233.8 979.3,218.9 979.6,230.1 980.0,219.0 980.4,230.2 980.7,217.3 981.0,234.8 981.4,217.9 981.8,235.2 982.1,220.6 982.5,230.4 982.8,221.3 983.1,230.8 983.5,221.0 983.9,235.2 984.2,221.1 984.5,235.2 984.9,218.3 985.2,234.4 985.6,217.7 986.0,234.4 986.3,218.9 986.6,234.0 987.0,218.3 987.4,234.0 987.7,215.6 988.0,233.6 988.4,215.6 988.8,233.3 989.1,216.4 989.5,230.5 989.8,216.6 990.1,229.9 990.5,219.3 990.9,230.7 991.2,219.5 991.5,230.3 991.9,214.3 992.2,231.2 992.6,214.2 993.0,231.7 993.3,219.0 993.6,231.4 994.0,218.8 994.4,232.4 994.7,218.8 995.0,232.5 995.4,218.7 995.8,233.0 996.1,217.0 996.5,232.5 996.8,216.9 997.1,232.0 997.5,218.8 997.9,234.5 998.2,218.6 998.5,233.8 998.9,217.5 999.2,232.8 999.6,217.4 1000.0,232.6 1000.3,214.6 1000.6,232.0 1001.0,214.7 1001.4,232.3 1001.7,218.4 1002.0,230.2 1002.4,218.6 1002.8,230.5 1003.1,216.3 1003.5,234.4 1003.8,216.4 1004.1,234.4 1004.5,220.0 1004.9,231.6 1005.2,219.7 1005.5,231.2 1005.9,215.2 1006.2,232.4 1006.6,214.8 1007.0,232.0 1007.3,218.4 1007.6,228.1 1008.0,218.3 1008.4,228.1 1008.7,217.4 1009.0,231.1 1009.4,217.3 1009.8,232.0 1010.1,217.7 1010.5,234.0 1010.8,217.6 1011.1,234.8 1011.5,218.8 1011.9,233.4 1012.2,218.8 1012.5,233.3 1012.9,217.5 1013.2,234.9 1013.6,217.8 1014.0,234.5 1014.3,217.1 1014.6,231.1 1015.0,217.4 1015.4,230.8 1015.7,216.2 1016.0,233.4 1016.4,216.2 1016.8,233.3 1017.1,216.2 1017.5,233.2 1017.8,215.9 1018.1,233.0 1018.5,216.2 1018.9,234.0 1019.2,215.9 1019.5,233.8 1019.9,217.5 1020.2,232.0 1020.6,217.5 1021.0,231.9 1021.3,214.7 1021.6,230.8 1022.0,215.1 1022.4,230.5 1022.7,216.5 1023.0,231.1 1023.4,216.8 1023.8,231.0 1024.1,219.0 1024.5,230.8 1024.8,219.2 1025.2,230.8 1025.5,217.6 1025.8,232.6 1026.2,218.1 1026.5,232.5 1026.9,218.3 1027.2,232.9 1027.6,218.6 1028.0,232.9 1028.3,217.7 1028.7,231.5 1029.0,217.5 1029.3,231.9 1029.7,220.7 1030.0,231.2 1030.4,220.2 1030.8,231.8 1031.1,219.1 1031.5,232.0 1031.8,218.9 1032.2,232.1 1032.5,214.0 1032.8,234.3 1033.2,213.6 1033.5,234.2 1033.9,217.9 1034.2,233.5 1034.6,217.4 1035.0,233.4 1035.3,218.2 1035.7,232.2 1036.0,218.0 1036.3,232.2 1036.7,216.9 1037.0,230.3 1037.4,217.3 1037.8,229.9 1038.1,217.4 1038.5,232.0 1038.8,217.9 1039.2,231.6 1039.5,218.3 1039.8,228.9 1040.2,218.4 1040.5,228.9 1040.9,216.9 1041.2,230.0 1041.6,216.6 1042.0,230.0 1042.3,216.5 1042.7,229.9 1043.0,216.2 1043.3,229.9 1043.7,216.8 1044.0,230.9 1044.4,216.7 1044.8,231.1 1045.1,216.1 1045.5,230.7 1045.8,216.0 1046.2,231.1 1046.5,214.8 1046.8,234.2 1047.2,214.7 1047.5,234.4 1047.9,212.8 1048.2,230.5 1048.6,213.0 1049.0,230.2 1049.3,218.2 1049.7,232.0 1050.0,219.1 1050.3,231.4 1050.7,216.9 1051.0,231.5 1051.4,217.6 1051.8,231.3 1052.1,220.2 1052.5,228.5 1052.8,220.0 1053.2,228.8 1053.5,220.7 1053.8,231.6 1054.2,220.2 1054.5,232.0 1054.9,221.0 1055.2,229.4 1055.6,220.7 1056.0,229.6 1056.3,216.0 1056.7,233.7 1057.0,216.3 1057.3,233.6 1057.7,219.7 1058.0,231.9 1058.4,220.2 1058.8,231.8 1059.1,220.7 1059.5,231.9 1059.8,220.9 1060.2,231.9 1060.5,218.8 1060.8,231.8 1061.2,218.2 1061.5,232.3 1061.9,218.8 1062.2,232.6 1062.6,217.9 1063.0,233.2 1063.3,216.4 1063.7,232.8 1064.0,216.1 1064.3,232.8 1064.7,217.7 1065.0,233.2 1065.4,218.2 1065.8,233.1 1066.1,218.8 1066.5,234.5 1066.8,219.4 1067.2,234.5 1067.5,218.1 1067.8,233.1 1068.2,218.2 1068.5,233.1 1068.9,219.7 1069.2,235.4 1069.6,219.3 1070.0,235.4 1070.3,220.2 1070.7,236.4 1071.0,219.7 1071.3,236.5 1071.7,214.7 1072.0,231.2 1072.4,214.7 1072.8,230.9 1073.1,217.4 1073.5,231.3 1073.8,217.6 1074.2,230.6 1074.5,218.5 1074.8,231.0 1075.2,218.7 1075.5,230.7 1075.9,219.0 1076.2,229.9 1076.6,219.0 1077.0,230.1 1077.3,216.1 1077.7,229.4 1078.0,215.6 1078.3,229.5 1078.7,218.2 1079.0,232.2 1079.4,219.7 1079.8,233.7 1080.1,220.7 1080.5,236.5 1080.8,222.7 1081.2,237.7 1081.5,225.4 1081.8,238.6 1082.2,228.6 1082.5,241.7 1082.9,229.1 1083.2,249.8 1083.6,232.3 1084.0,253.1 1084.3,239.9 1084.7,256.4 1085.0,243.1 1085.3,260.2 1085.7,244.6 1086.0,258.5 1086.4,246.9 1086.8,260.2 1087.1,248.3 1087.5,262.7 1087.8,249.9 1088.2,264.0 1088.5,252.6 1088.8,264.1 1089.2,254.1 1089.5,264.7 1089.9,254.8 1090.2,266.2 1090.6,255.5 1091.0,266.5 1091.3,252.7 1091.7,269.8 1092.0,253.1 1092.3,270.1 1092.7,255.9 1093.0,266.0 1093.4,256.3 1093.8,266.1 1094.1,253.2 1094.5,269.0 1094.8,253.7 1095.2,269.1 1095.5,255.2 1095.8,267.5 1096.2,255.3 1096.5,267.5 1096.9,255.5 1097.2,270.1 1097.6,254.9 1098.0,270.0 1098.3,255.0 1098.7,266.4 1099.0,254.4 1099.3,266.3 1099.7,255.4 1100.0,268.8 1100.4,255.4 1100.8,268.9 1101.1,252.6 1101.5,268.4 1101.8,252.9 1102.2,268.5 1102.5,253.9 1102.8,266.0 1103.2,254.2 1103.5,266.1 1103.9,256.4 1104.2,267.5 1104.6,256.6 1105.0,268.0 1105.3,257.7 1105.7,269.8 1106.0,258.4 1106.3,270.6 1106.7,259.5 1107.0,273.4 1107.4,260.0 1107.8,273.9 1108.1,258.3 1108.5,271.5 1108.8,258.1 1109.2,271.4 1109.5,258.2 1109.8,275.1 1110.2,257.7 1110.5,275.0 1110.9,254.4 1111.2,271.2 1111.6,254.1 1112.0,271.2 1112.3,257.4 1112.7,270.3 1113.0,257.4 1113.3,270.2 1113.7,257.6 1114.0,272.8 1114.4,257.5 1114.8,272.7 1115.1,255.8 1115.5,270.9 1115.8,255.8 1116.2,270.9 1116.5,254.3 1116.8,272.2 1117.2,254.7 1117.5,272.1 1117.9,258.1 1118.2,270.0 1118.6,258.8 1119.0,269.8 1119.3,259.8 1119.7,270.9 1120.0,260.0 1120.3,270.9 1120.7,258.6 1121.0,271.9 1121.4,258.4 1121.8,272.1 1122.1,257.6 1122.5,272.3 1122.8,257.3 1123.2,272.5 1123.5,255.5 1123.8,275.7 1124.2,255.4 1124.5,275.6 1124.9,256.6 1125.2,269.3 1125.6,256.3 1126.0,268.9 1126.3,259.0 1126.7,273.7 1127.0,258.7 1127.3,273.3 1127.7,254.2 1128.0,271.1 1128.4,254.2 1128.8,271.2 1129.1,256.8 1129.5,270.9 1129.8,256.7 1130.2,270.9 1130.5,255.5 1130.8,271.1 1131.2,255.4 1131.5,271.1 1131.9,256.4 1132.2,269.0 1132.6,256.5 1133.0,269.3 1133.3,256.0 1133.7,271.0 1134.0,256.5 1134.3,271.6 1134.7,258.7 1135.0,269.9 1135.4,259.0 1135.8,270.2 1136.1,255.6 1136.5,271.0 1136.8,255.5 1137.2,270.7 1137.5,256.9 1137.8,272.3 1138.2,256.6 1138.5,271.8 1138.9,256.8 1139.2,269.8 1139.6,256.7 1140.0,269.7 1140.3,253.9 1140.7,270.8 1141.0,253.7 1141.3,271.0 1141.7,255.3 1142.0,272.1 1142.4,254.9 1142.8,272.3 1143.1,256.3 1143.5,272.1 1143.8,256.1 1144.2,272.1 1144.5,254.2 1144.8,270.9 1145.2,254.4 1145.5,271.3 1145.9,256.0 1146.2,271.8 1146.6,256.2 1147.0,272.2 1147.3,257.8 1147.7,271.1 1148.0,257.9 1148.3,271.1 1148.7,256.9 1149.0,271.3 1149.4,257.3 1149.8,270.5 1150.1,256.1 1150.5,270.9 1150.8,256.6 1151.2,270.1 1151.5,259.4 1151.8,267.4 1152.2,259.5 1152.5,267.4 1152.9,259.4 1153.2,267.5 1153.6,258.7 1154.0,267.6 1154.3,255.8 1154.7,267.8 1155.0,255.1 1155.3,267.9 1155.7,255.5 1156.0,269.4 1156.4,255.6 1156.8,269.4 1157.1,257.5 1157.5,271.5 1157.8,258.1 1158.2,271.5 1158.5,255.1 1158.8,270.7 1159.2,255.6 1159.5,270.7 1159.9,257.6 1160.2,271.5 1160.6,257.6 1161.0,271.7 1161.3,257.1 1161.7,271.6 1162.0,257.4 1162.3,272.0 1162.7,257.8 1163.0,269.2 1163.4,258.0 1163.8,269.5 1164.1,260.4 1164.5,271.7 1164.8,260.1 1165.2,271.6 1165.5,260.1 1165.8,269.3 1166.2,259.5 1166.5,269.1 1166.9,256.8 1167.2,271.0 1167.6,256.5 1168.0,270.9 1168.3,254.2 1168.7,270.4 1169.0,254.1 1169.3,270.3 1169.7,257.9 1170.0,271.1 1170.4,257.6 1170.8,270.9 1171.1,257.6 1171.5,270.8 1171.8,257.5 1172.2,270.8 1172.5,253.0 1172.8,270.2 1173.2,253.5 1173.5,270.2 1173.9,258.3 1174.2,272.8 1174.6,259.1 1175.0,272.8 1175.3,256.3 1175.7,273.8 1176.0,256.6 1176.3,273.9 1176.7,257.4 1177.0,270.5 1177.4,256.7 1177.8,270.6 1178.1,257.8 1178.5,272.2 1178.8,256.8 1179.2,272.3 1179.5,255.6 1179.8,269.1 1180.2,255.5 1180.5,269.1 1180.9,257.4 1181.2,269.8 1181.6,258.1 1182.0,269.9 1182.3,255.5 1182.7,269.7 1183.0,256.2 1183.3,269.7 1183.7,257.7 1184.0,271.5 1184.4,257.8 1184.8,271.5 1185.1,256.5 1185.5,269.6 1185.8,256.4 1186.2,269.5 1186.5,256.9 1186.8,269.6 1187.2,256.9 1187.5,269.5 1187.9,256.9 1188.2,275.3 1188.6,256.8 1189.0,275.5 1189.3,257.5 1189.7,272.0 1190.0,257.0 1190.3,272.4 1190.7,256.2 1191.0,269.7 1191.4,255.9 1191.8,269.9 1192.1,253.7 1192.5,271.0 1192.8,253.7 1193.2,270.8 1193.5,254.5 1193.8,273.8 1194.2,254.6 1194.5,273.4 1194.9,255.0 1195.2,271.6 1195.6,255.0 1196.0,271.4 1196.3,255.3 1196.7,269.2 1197.0,255.3 1197.3,269.1 1197.7,255.7 1198.0,271.9 1198.4,255.7 1198.8,271.9 1199.1,254.4 1199.5,269.7 1199.8,254.5 1200.2,269.7 1200.5,253.3 1200.8,268.3 1201.2,253.5 1201.5,268.4 1201.9,257.4 1202.2,268.2 1202.6,257.7 1203.0,268.2 1203.3,254.7 1203.7,268.4 1204.0,254.7 1204.3,268.5 1204.7,258.1 1205.0,274.2 1205.4,258.0 1205.8,274.7 1206.1,258.5 1206.5,272.7 1206.8,258.4 1207.2,273.3 1207.5,256.3 1207.8,271.8 1208.2,256.3 1208.5,271.7 1208.9,256.8 1209.2,272.9 1209.6,257.2 1210.0,272.1 1210.3,259.7 1210.7,273.8 1211.0,260.2 1211.3,273.1 1211.7,258.9 1212.0,270.4 1212.4,258.9 1212.8,270.7 1213.1,255.6 1213.5,270.9 1213.8,255.2 1214.2,271.9 1214.5,256.1 1214.8,273.1 1215.2,255.7 1215.5,273.7 1215.9,254.7 1216.2,273.6 1216.6,254.8 1217.0,273.3 1217.3,258.0 1217.7,273.1 1218.0,258.1 1218.3,272.6 1218.7,258.1 1219.0,272.8 1219.4,258.2 1219.8,272.6 1220.1,258.7 1220.5,272.8 1220.8,258.8 1221.2,272.6 1221.5,258.1 1221.8,271.1 1222.2,258.2 1222.5,270.6 1222.9,258.9 1223.2,269.7 1223.6,259.0 1224.0,269.5 1224.3,257.6 1224.7,273.5 1225.0,257.2 1225.3,274.1 1225.7,259.4 1226.0,270.4 1226.4,258.7 1226.8,271.1 1227.1,257.2 1227.5,273.3 1227.8,256.9 1228.2,273.4 1228.5,253.2 1228.8,270.6 1229.2,253.7 1229.5,270.7 1229.9,258.1 1230.2,273.7 1230.6,258.9 1231.0,273.8 1231.3,258.2 1231.7,274.1 1232.0,258.5 1232.3,274.1 1232.7,257.0 1233.0,273.5 1233.4,256.4 1233.8,272.9 1234.1,258.2 1234.5,271.0 1234.8,257.4 1235.2,270.5 1235.5,257.5 1235.8,271.9 1236.2,257.4 1236.5,272.0 1236.9,257.3 1237.2,270.2 1237.6,258.0 1238.0,270.8 1238.3,259.4 1238.7,271.7 1239.0,260.1 1239.3,272.1 1239.7,258.0 1240.0,274.0 1240.4,257.9 1240.8,274.0 1241.1,260.1 1241.5,273.4 1241.8,259.3 1242.2,273.3 1242.5,258.1 1242.8,271.1 1243.2,257.4 1243.5,271.0 1243.9,255.8 1244.2,274.8 1244.6,255.9 1245.0,274.6 1245.3,257.5 1245.7,271.0 1246.0,257.7 1246.3,270.6 1246.7,255.0 1247.0,272.1 1247.4,255.2 1247.8,271.9 1248.1,255.3 1248.5,272.5 1248.8,255.2 1249.2,272.4 1249.5,257.9 1249.8,271.2 1250.2,257.7 1250.5,271.0 1250.9,257.7 1251.2,270.0 1251.6,257.5 1252.0,269.9 1252.3,250.9 1252.7,269.5 1253.0,251.0 1253.3,270.0 1253.7,257.1 1254.0,273.1 1254.4,257.2 1254.8,273.7 1255.1,257.1 1255.5,273.3 1255.8,257.2 1256.2,273.4 1256.5,257.0 1256.8,274.6 1257.2,257.1 1257.5,274.7 1257.9,256.5 1258.2,276.3 1258.6,256.6 1259.0,276.4 1259.3,255.6 1259.7,271.6 1260.0,255.6 1260.3,271.6 1260.7,254.7 1261.0,277.4 1261.4,254.5 1261.8,277.3 1262.1,258.0 1262.5,274.0 1262.8,257.8 1263.2,273.9 1263.5,255.6 1263.8,271.4 1264.2,255.6 1264.5,271.3 1264.9,257.7 1265.2,273.3 1265.6,258.5 1266.0,273.1 1266.3,253.0 1266.7,275.9 1267.0,253.8 1267.3,275.7 1267.7,259.6 1268.0,273.3 1268.4,259.6 1268.8,273.1 1269.1,257.6 1269.5,270.4 1269.8,257.4 1270.2,269.9 1270.5,258.2 1270.8,270.0 1271.2,258.0 1271.5,269.6 1271.9,259.0 1272.2,270.6 1272.6,258.9 1273.0,270.8 1273.3,258.2 1273.7,270.6 1274.0,257.8 1274.3,271.1 1274.7,255.1 1275.0,272.7 1275.4,254.8 1275.8,273.0 1276.1,256.8 1276.5,272.4 1276.8,257.0 1277.2,272.8 1277.5,259.0 1277.8,275.0 1278.2,259.7 1278.5,275.4 1278.9,260.7 1279.2,271.7 1279.6,261.1 1280.0,271.8 1280.3,260.0 1280.7,271.7 1281.0,259.5 1281.3,271.4 1281.7,258.6 1282.0,270.7 1282.4,257.8 1282.8,270.3 1283.1,257.1 1283.5,270.5 1283.8,256.7 1284.2,270.4 1284.5,257.4 1284.8,272.2 1285.2,257.4 1285.5,272.4 1285.9,255.2 1286.2,272.1 1286.6,255.2 1287.0,272.3 1287.3,254.8 1287.7,271.4 1288.0,254.8 1288.3,271.4 1288.7,256.2 1289.0,272.1 1289.4,256.7 1289.8,271.6 1290.1,258.7 1290.5,271.1 1290.8,259.2 1291.2,270.5 1291.5,258.4 1291.8,269.7 1292.2,258.4 1292.5,269.7 1292.9,258.6 1293.2,269.7 1293.6,257.9 1294.0,269.9 1294.3,251.4 1294.7,268.2 1295.0,248.8 1295.3,266.4 1295.7,250.0 1296.0,265.5 1296.4,248.0 1296.8,263.5 1297.1,248.9 1297.5,259.6 1297.8,247.7 1298.2,257.4 1298.5,245.0 1298.8,259.8 1299.2,243.2 1299.5,256.6 1299.9,237.0 1300.2,253.0 1300.6,234.4 1301.0,250.1 1301.3,235.1 1301.7,247.5 1302.0,232.1 1302.3,246.0 1302.7,230.4 1303.0,242.9 1303.4,229.5 1303.8,242.5 1304.1,227.0 1304.5,245.8 1304.8,226.3 1305.2,245.3 1305.5,227.2 1305.8,241.8 1306.2,226.5 1306.5,241.3 1306.9,224.2 1307.2,240.1 1307.6,223.5 1308.0,239.5 1308.3,225.8 1308.7,236.6 1309.0,225.7 1309.3,235.9 1309.7,226.0 1310.0,234.9 1310.4,226.0 1310.8,234.0 1311.1,223.6 1311.5,235.4 1311.8,223.5 1312.2,235.1 1312.5,223.3 1312.8,237.1 1313.2,222.7 1313.5,237.7 1313.9,220.9 1314.2,236.0 1314.6,220.1 1315.0,236.6 1315.3,218.5 1315.7,238.5 1316.0,218.1 1316.3,238.3 1316.7,221.2 1317.0,239.4 1317.4,221.6 1317.8,238.4 1318.1,222.4 1318.5,234.0 1318.8,223.0 1319.2,233.2 1319.5,224.3 1319.8,235.2 1320.2,224.2 1320.5,235.2 1320.9,220.6 1321.2,233.9 1321.6,219.6 1322.0,234.4 1322.3,220.4 1322.7,236.6 1323.0,219.4 1323.3,237.0 1323.7,220.9 1324.0,237.6 1324.4,220.8 1324.8,237.5 1325.1,218.7 1325.5,233.0 1325.8,218.9 1326.2,232.9 1326.5,220.0 1326.8,234.6 1327.2,220.2 1327.5,234.5 1327.9,220.8 1328.2,236.1 1328.6,220.7 1329.0,235.9 1329.3,217.4 1329.7,233.6 1330.0,217.5 1330.3,233.4 1330.7,220.9 1331.0,234.6 1331.4,221.1 1331.8,234.5 1332.1,218.9 1332.5,233.8 1332.8,218.5 1333.2,233.6 1333.5,218.7 1333.8,233.3 1334.2,217.9 1334.5,233.1 1334.9,217.6 1335.2,235.1 1335.6,217.1 1336.0,235.0 1336.3,217.9 1336.7,230.8 1337.0,218.4 1337.3,230.7 1337.7,217.2 1338.0,232.0 1338.4,218.3 1338.8,231.8 1339.1,220.2 1339.5,233.1 1339.8,220.7 1340.2,233.0 1340.5,220.2 1340.8,231.2 1341.2,219.8 1341.5,231.2 1341.9,219.4 1342.2,232.0 1342.6,218.9 1343.0,231.9 1343.3,220.1 1343.7,231.5 1344.0,220.0 1344.3,231.5 1344.7,218.1 1345.0,230.1 1345.4,218.4 1345.8,230.2 1346.1,217.1 1346.5,232.4 1346.8,217.4 1347.2,232.6 1347.5,219.1 1347.8,232.1 1348.2,219.1 1348.5,232.2 1348.9,222.0 1349.2,234.9 1349.6,221.6 1350.0,235.0 1350.3,221.2 1350.7,234.6 1351.0,220.7 1351.3,234.7 1351.7,214.6 1352.0,233.1 1352.4,214.6 1352.8,233.0 1353.1,218.3 1353.5,232.5 1353.8,218.3 1354.2,232.1 1354.5,215.8 1354.8,230.4 1355.2,215.9 1355.5,230.1 1355.9,217.6 1356.2,231.6 1356.6,217.6 1357.0,231.8 1357.3,218.8 1357.7,229.6 1358.0,219.0 1358.3,229.9 1358.7,221.0 1359.0,231.4 1359.4,221.1 1359.8,231.5 1360.1,219.9 1360.5,234.4 1360.8,220.1 1361.2,234.3 1361.5,218.9 1361.8,231.5 1362.2,219.3 1362.5,231.5 1362.9,220.5 1363.2,231.8 1363.6,220.8 1364.0,231.8 1364.3,220.2 1364.7,232.3 1365.0,219.9 1365.3,232.0 1365.7,219.2 1366.0,232.0 1366.4,218.7 1366.8,231.6 1367.1,214.8 1367.5,231.1 1367.8,214.6 1368.2,231.0 1368.5,220.4 1368.8,231.5 1369.2,220.6 1369.5,232.4 1369.9,220.3 1370.2,232.9 1370.6,220.5 1371.0,233.8 1371.3,218.8 1371.7,237.7 1372.0,218.8 1372.3,237.7 1372.7,220.7 1373.0,234.4 1373.4,220.5 1373.8,233.6 1374.1,219.7 1374.5,233.6 1374.8,219.4 1375.2,232.9 1375.5,220.4 1375.8,232.8 1376.2,220.3 1376.5,233.0 1376.9,217.2 1377.2,231.7 1377.6,217.0 1378.0,232.6 1378.3,218.4 1378.7,235.1 1379.0,218.2 1379.3,235.7 1379.7,216.0 1380.0,235.6 1380.4,216.0 1380.8,235.4 1381.1,217.6 1381.5,234.1 1381.8,218.3 1382.2,233.7 1382.5,219.6 1382.8,234.7 1383.2,220.2 1383.5,234.5 1383.9,219.5 1384.2,234.9 1384.6,219.5 1385.0,234.8 1385.3,218.3 1385.7,233.0 1386.0,218.4 1386.3,232.9 1386.7,220.3 1387.0,232.9 1387.4,220.4 1387.8,232.8 1388.1,219.0 1388.5,233.5 1388.8,218.6 1389.2,233.7 1389.5,220.8 1389.8,236.4 1390.2,219.7 1390.5,236.7 1390.9,215.9 1391.2,236.0 1391.6,215.2 1392.0,236.1 1392.3,217.7 1392.7,234.4 1393.0,218.3 1393.3,234.3 1393.7,218.3 1394.0,233.7 1394.4,219.5 1394.8,233.6 1395.1,220.0 1395.5,233.0 1395.8,220.5 1396.2,233.0 1396.5,220.9 1396.8,233.5 1397.2,220.9 1397.5,233.0 1397.9,220.2 1398.2,233.1 1398.6,220.2 1399.0,232.4 1399.3,218.9 1399.7,230.5 1400.0,218.9 1400.3,230.5 1400.7,221.6 1401.0,232.6 1401.4,221.2 1401.8,233.2 1402.1,218.4 1402.5,232.7 1402.8,217.8 1403.2,233.2 1403.5,219.3 1403.8,233.0 1404.2,219.2 1404.5,232.9 1404.9,214.5 1405.2,233.4 1405.6,214.3 1406.0,233.0 1406.3,217.5 1406.7,231.1 1407.0,217.3 1407.3,230.8 1407.7,218.4 1408.0,229.8 1408.4,218.4 1408.8,230.1 1409.1,219.3 1409.5,231.4 1409.8,219.7 1410.2,232.1 1410.5,218.8 1410.8,235.3 1411.2,219.1 1411.5,235.7 1411.9,218.3 1412.2,234.0 1412.6,218.4 1413.0,233.7 1413.3,218.6 1413.7,232.7 1414.0,218.8 1414.3,232.0 1414.7,222.3 1415.0,232.7 1415.4,222.5 1415.8,232.4 1416.1,221.4 1416.5,232.3 1416.8,221.4 1417.2,232.2 1417.5,220.1 1417.8,232.3 1418.2,220.2 1418.5,232.1 1418.9,220.6 1419.2,231.6 1419.6,220.6 1420.0,231.5 1420.3,222.5 1420.7,233.4 1421.0,222.4 1421.3,233.8 1421.7,219.0 1422.0,231.5 1422.4,218.8 1422.8,232.1 1423.1,222.1 1423.5,231.8 1423.8,222.0 1424.2,232.0 1424.5,220.2 1424.8,232.4 1425.2,220.2 1425.5,232.5 1425.9,221.3 1426.2,232.7 1426.6,221.4 1427.0,232.8 1427.3,219.6 1427.7,234.2 1428.0,219.6 1428.3,234.2 1428.7,218.8 1429.0,235.3 1429.4,218.5 1429.8,234.9 1430.1,216.9 1430.5,232.2 1430.8,216.5 1431.2,231.8 1431.5,215.6 1431.8,229.9 1432.2,215.5 1432.5,230.0 1432.9,216.3 1433.2,231.8 1433.6,215.9 1434.0,232.4 1434.3,217.7 1434.7,233.9 1435.0,217.2 1435.3,234.3 1435.7,214.6 1436.0,234.4 1436.4,214.7 1436.8,234.1 1437.1,217.1 1437.5,233.5 1437.8,217.9 1438.2,232.7 1438.5,220.7 1438.8,230.2 1439.2,221.3 1439.5,229.8 1439.9,220.9 1440.2,232.0 1440.6,220.7 1440.9,232.3 1441.3,216.2 1441.7,229.8 1442.0,216.9 1442.3,231.2 1442.7,221.4 1443.0,234.5 1443.4,222.8 1443.8,235.7 1444.1,226.0 1444.4,235.9 1444.8,227.8 1445.2,237.7 1445.5,228.1 1445.8,244.1 1446.2,231.3 1446.5,247.5 1446.9,237.1 1447.2,249.4 1447.6,240.3 1447.9,252.7 1448.3,242.0 1448.7,254.7 1449.0,245.1 1449.3,257.9 1449.7,248.6 1450.0,258.8 1450.4,250.0 1450.8,260.3 1451.1,247.1 1451.4,262.0 1451.8,248.5 1452.2,263.4 1452.5,252.2 1452.8,265.5 1453.2,253.1 1453.5,266.2 1453.9,250.0 1454.2,268.0 1454.6,249.9 1454.9,268.5 1455.3,253.8 1455.7,268.8 1456.0,253.9 1456.3,269.1 1456.7,254.0 1457.0,269.1 1457.4,254.8 1457.8,269.0 1458.1,255.1 1458.4,267.7 1458.8,256.1 1459.2,267.6 1459.5,253.7 1459.8,269.1 1460.2,253.9 1460.5,269.2 1460.9,255.9 1461.2,272.7 1461.6,255.1 1461.9,272.8 1462.3,254.5 1462.7,266.6 1463.0,253.6 1463.3,266.7 1463.7,255.4 1464.0,268.5 1464.4,255.4 1464.8,268.6 1465.1,255.2 1465.4,270.6 1465.8,255.7 1466.2,270.6 1466.5,256.9 1466.8,268.1 1467.2,257.3 1467.5,268.2 1467.9,257.2 1468.2,269.1 1468.6,257.1 1468.9,269.0 1469.3,254.7 1469.7,270.6 1470.0,254.3 1470.3,270.5 1470.7,254.6 1471.0,267.6 1471.4,254.3 1471.8,267.6 1472.1,256.1 1472.4,271.1 1472.8,256.4 1473.2,271.6 1473.5,256.7 1473.8,269.8 1474.2,257.5 1474.5,270.5 1474.9,254.7 1475.2,269.3 1475.6,255.2 1475.9,269.6 1476.3,258.5 1476.7,270.8 1477.0,258.1 1477.3,270.7 1477.7,257.8 1478.0,271.8 1478.4,257.0 1478.8,271.6 1479.1,254.3 1479.4,272.0 1479.8,254.0 1480.2,272.0 1480.5,254.7 1480.8,269.4 1481.2,255.3 1481.5,269.6 1481.9,258.1 1482.2,270.8 1482.6,259.1 1482.9,271.0 1483.3,258.0 1483.7,271.8 1484.0,258.3 1484.3,271.8 1484.7,259.2 1485.0,271.4 1485.4,259.0 1485.8,271.3 1486.1,257.6 1486.4,270.5 1486.8,257.3 1487.2,270.3 1487.5,257.0 1487.8,273.6 1488.2,256.9 1488.5,273.7 1488.9,256.5 1489.2,269.9 1489.6,256.3 1489.9,270.1 1490.3,255.8 1490.7,272.0 1491.0,255.6 1491.3,272.1 1491.7,255.1 1492.0,270.7 1492.4,255.1 1492.8,270.8 1493.1,253.4 1493.4,270.0 1493.8,253.8 1494.2,270.0 1494.5,253.3 1494.8,271.2 1495.2,253.7 1495.5,271.2 1495.9,258.5 1496.2,271.1 1496.6,258.4 1496.9,270.7 1497.3,256.6 1497.7,268.9 1498.0,256.1 1498.3,268.1 1498.7,257.5 1499.0,269.8 1499.4,257.2 1499.8,269.3 1500.1,256.9 1500.4,268.0 1500.8,256.9 1501.2,268.6 1501.5,256.0 1501.8,270.6 1502.2,255.9 1502.5,271.5 1502.9,256.1 1503.2,272.7 1503.6,256.0 1503.9,273.1 1504.3,253.9 1504.7,270.9 1505.0,254.2 1505.3,270.7 1505.7,256.0 1506.0,269.0 1506.4,256.5 1506.8,268.7 1507.1,258.9 1507.4,270.7 1507.8,259.1 1508.2,270.6 1508.5,256.8 1508.8,268.3 1509.2,256.3 1509.5,268.1 1509.9,255.3 1510.2,271.0 1510.6,254.7 1510.9,270.8 1511.3,253.2 1511.7,269.2 1512.0,253.0 1512.3,269.2 1512.7,257.2 1513.0,270.1 1513.4,257.2 1513.8,269.9 1514.1,253.7 1514.4,268.6 1514.8,253.8 1515.2,268.4 1515.5,255.5 1515.8,268.4 1516.2,255.5 1516.5,268.4 1516.9,257.2 1517.2,270.5 1517.6,257.2 1517.9,270.8 1518.3,257.0 1518.7,271.2 1519.0,257.0 1519.3,271.5 1519.7,257.0 1520.0,271.0 1520.4,257.0 1520.8,271.1 1521.1,252.2 1521.4,272.5 1521.8,252.2 1522.2,272.7 1522.5,254.6 1522.8,273.5 1523.2,254.5 1523.5,273.6 1523.9,256.3 1524.2,272.9 1524.6,256.4 1524.9,272.5 1525.3,253.0 1525.7,270.1 1526.0,253.4 1526.3,269.3 1526.7,256.1 1527.0,267.4 1527.4,256.4 1527.8,267.0 1528.1,256.5 1528.4,268.3 1528.8,256.4 1529.2,268.8 1529.5,257.6 1529.8,268.2 1530.2,257.2 1530.5,268.9 1530.9,257.1 1531.2,270.3 1531.6,256.8 1531.9,270.6 1532.3,257.6 1532.7,270.1 1533.0,257.8 1533.3,270.1 1533.7,257.2 1534.0,269.8 1534.4,257.5 1534.8,269.8 1535.1,256.6 1535.4,271.3 1535.8,256.8 1536.2,271.3 1536.5,257.1 1536.8,269.2 1537.2,257.1 1537.5,268.7 1537.9,257.5 1538.2,268.6 1538.6,257.5 1538.9,268.2 1539.3,256.7 1539.7,270.4 1540.0,256.7 1540.3,270.5 1540.7,256.0 1541.0,267.7 1541.4,256.0 1541.8,268.2 1542.1,257.7 1542.4,270.7 1542.8,257.7 1543.2,271.2 1543.5,257.1 1543.8,272.0 1544.2,257.0 1544.5,272.0 1544.9,257.2 1545.2,269.6 1545.6,257.2 1545.9,269.3 1546.3,258.0 1546.7,270.4 1547.0,258.1 1547.3,270.2 1547.7,258.9 1548.0,270.1 1548.4,258.9 1548.8,270.1 1549.1,258.0 1549.4,268.3 1549.8,257.7 1550.2,268.2 1550.5,255.3 1550.8,267.7 1551.2,255.0 1551.5,267.6 1551.9,255.0 1552.2,268.1 1552.6,255.1 1552.9,267.9 1553.3,257.8 1553.7,267.4 1554.0,258.1 1554.3,267.0 1554.7,256.7 1555.0,268.0 1555.4,256.8 1555.8,267.8 1556.1,254.2 1556.4,270.7 1556.8,254.4 1557.2,271.4 1557.5,257.4 1557.8,270.2 1558.2,257.8 1558.5,271.3 1558.9,259.1 1559.2,269.5 1559.6,259.3 1559.9,269.9 1560.3,258.3 1560.7,274.7 1561.0,258.4 1561.3,274.5 1561.7,257.8 1562.0,271.5 1562.4,257.9 1562.8,271.3 1563.1,259.9 1563.4,272.8 1563.8,259.9 1564.2,272.7 1564.5,259.5 1564.8,271.4 1565.2,259.5 1565.5,271.3 1565.9,259.8 1566.2,269.4 1566.6,259.8 1566.9,269.2 1567.3,254.2 1567.7,271.2 1568.0,254.2 1568.3,271.2 1568.7,256.8 1569.0,270.8 1569.4,256.0 1569.8,271.0 1570.1,255.7 1570.4,269.6 1570.8,254.8 1571.2,269.8 1571.5,254.3 1571.8,270.3 1572.2,254.1 1572.5,270.2 1572.9,254.4 1573.2,270.9 1573.6,255.1 1573.9,270.5 1574.3,257.0 1574.7,271.1 1575.0,257.7 1575.3,270.8 1575.7,256.6 1576.0,269.1 1576.4,256.6 1576.8,269.3 1577.1,256.3 1577.4,270.8 1577.8,256.4 1578.2,271.2 1578.5,256.3 1578.8,273.0 1579.2,256.5 1579.5,273.2 1579.9,258.8 1580.2,273.7 1580.6,258.6 1580.9,273.6 1581.3,259.1 1581.7,269.6 1582.0,258.3 1582.3,269.5 1582.7,255.1 1583.0,274.6 1583.4,254.5 1583.8,274.5 1584.1,256.5 1584.4,268.6 1584.8,256.6 1585.2,268.6 1585.5,255.0 1585.8,273.2 1586.2,255.3 1586.5,273.0 1586.9,255.8 1587.2,271.8 1587.6,256.0 1587.9,271.7 1588.3,258.6 1588.7,271.5 1589.0,258.7 1589.3,271.2 1589.7,256.1 1590.0,269.1 1590.4,256.2 1590.8,268.7 1591.1,257.3 1591.4,268.0 1591.8,257.4 1592.2,267.9 1592.5,257.8 1592.8,269.8 1593.2,257.7 1593.5,269.9 1593.9,255.9 1594.2,267.9 1594.6,255.7 1594.9,267.9 1595.3,256.5 1595.7,269.4 1596.0,256.4 1596.3,269.4 1596.7,256.1 1597.0,269.2 1597.4,255.9 1597.8,269.3 1598.1,251.9 1598.4,268.6 1598.8,251.7 1599.2,268.7 1599.5,257.0 1599.8,267.4 1600.2,257.0 1600.5,267.3 1600.9,255.6 1601.2,269.4 1601.6,255.5 1601.9,269.2 1602.3,255.5 1602.7,269.2 1603.0,255.3 1603.3,269.0 1603.7,254.6 1604.0,269.1 1604.4,254.6 1604.8,269.4 1605.1,254.9 1605.4,269.0 1605.8,254.8 1606.2,269.8 1606.5,255.1 1606.8,273.3 1607.2,255.1 1607.5,273.9 1607.9,256.8 1608.2,273.2 1608.6,257.0 1608.9,272.9 1609.3,257.3 1609.7,270.8 1610.0,257.9 1610.3,270.2 1610.7,255.6 1611.0,271.3 1611.4,256.1 1611.8,271.0 1612.1,255.5 1612.4,271.3 1612.8,255.4 1613.2,271.3 1613.5,256.8 1613.8,270.1 1614.2,256.5 1614.5,270.1 1614.9,255.0 1615.2,266.6 1615.6,254.8 1615.9,266.5 1616.3,256.6 1616.7,268.7 1617.0,256.6 1617.3,269.2 1617.7,256.8 1618.0,269.9 1618.4,256.8 1618.8,270.6 1619.1,257.7 1619.4,274.3 1619.8,257.7 1620.2,274.4 1620.5,257.6 1620.8,270.5 1621.2,257.8 1621.5,269.7 1621.9,256.6 1622.2,270.4 1622.6,257.1 1622.9,269.6 1623.3,257.1 1623.7,270.0 1624.0,257.2 1624.3,269.9 1624.7,256.9 1625.0,266.4 1625.4,256.4 1625.8,266.5 1626.1,256.3 1626.4,271.3 1626.8,255.7 1627.2,271.4 1627.5,256.2 1627.8,268.9 1628.2,256.1 1628.5,268.9 1628.9,255.0 1629.2,267.8 1629.6,255.1 1629.9,267.8 1630.3,255.5 1630.7,268.8 1631.0,255.6 1631.3,268.9 1631.7,257.0 1632.0,268.7 1632.4,256.9 1632.8,268.7 1633.1,257.3 1633.4,269.0 1633.8,257.1 1634.2,269.0 1634.5,256.8 1634.8,268.9 1635.2,256.6 1635.5,268.9 1635.9,254.6 1636.2,267.5 1636.6,254.7 1636.9,267.5 1637.3,254.9 1637.7,268.1 1638.0,255.5 1638.3,268.0 1638.7,257.1 1639.0,271.2 1639.4,257.6 1639.8,271.1 1640.1,259.5 1640.4,268.1 1640.8,259.3 1641.2,268.6 1641.5,258.6 1641.8,272.5 1642.2,258.1 1642.5,273.2 1642.9,254.8 1643.2,270.0 1643.6,254.4 1643.9,270.3 1644.3,252.6 1644.7,273.2 1645.0,252.9 1645.3,273.2 1645.7,256.9 1646.0,272.1 1646.4,257.5 1646.8,272.2 1647.1,256.9 1647.4,270.8 1647.8,257.2 1648.2,270.8 1648.5,257.1 1648.8,273.4 1649.2,257.1 1649.5,273.0 1649.9,256.2 1650.2,271.4 1650.6,256.2 1650.9,271.0 1651.3,257.0 1651.7,268.0 1652.0,257.0 1652.3,268.0 1652.7,257.6 1653.0,270.7 1653.4,257.8 1653.8,270.6 1654.1,258.4 1654.4,269.9 1654.8,258.5 1655.2,269.8 1655.5,258.5 1655.8,269.7 1656.2,258.5 1656.5,269.7" fill="none" stroke="#4f6d9e" stroke-width="2.0" stroke-linejoin="round" stroke-linecap="round"/>
<polygon points="927.6,663.5 928.8,663.5 928.8,663.5 929.8,663.5 929.8,663.5 930.7,663.5 930.7,663.5 931.9,663.5 931.9,657.0 932.8,657.0 932.8,663.5 933.8,663.5 933.8,663.5 934.9,663.5 934.9,663.5 936.0,663.5 936.0,663.5 936.8,663.5 936.8,657.0 938.0,657.0 938.0,663.5 939.0,663.5 939.0,663.5 940.2,663.5 940.2,657.0 941.1,657.0 941.1,671.0 942.3,671.0 942.3,663.5 943.2,663.5 943.2,663.5 944.4,663.5 944.4,671.0 945.5,671.0 945.5,663.5 945.6,663.5 945.6,712.0 945.5,712.0 945.5,712.0 944.4,712.0 944.4,697.5 943.2,697.5 943.2,697.5 942.3,697.5 942.3,697.5 941.1,697.5 941.1,697.5 940.2,697.5 940.2,697.5 939.0,697.5 939.0,704.5 938.0,704.5 938.0,697.5 936.8,697.5 936.8,719.5 936.0,719.5 936.0,697.5 934.9,697.5 934.9,697.5 933.8,697.5 933.8,697.5 932.8,697.5 932.8,712.0 931.9,712.0 931.9,697.5 930.7,697.5 930.7,704.5 929.8,704.5 929.8,704.5 928.8,704.5 928.8,704.5 927.6,704.5" fill="#4f6d9e" stroke="#4f6d9e" stroke-width="0.6" stroke-linejoin="round"/>
<polygon points="951.0,478.0 952.2,478.0 952.2,463.5 953.0,463.5 953.0,478.0 953.8,478.0 953.8,478.0 954.6,478.0 954.6,470.5 955.9,470.5 955.9,478.0 956.8,478.0 956.8,470.5 957.8,470.5 957.8,470.5 958.8,470.5 958.8,470.5 960.0,470.5 960.0,478.0 960.9,478.0 960.9,478.0 961.8,478.0 961.8,478.0 963.0,478.0 963.0,478.0 963.9,478.0 963.9,478.0 964.7,478.0 964.7,478.0 965.6,478.0 965.6,478.0 966.8,478.0 966.8,478.0 967.8,478.0 967.8,478.0 968.8,478.0 968.8,478.0 969.8,478.0 969.8,470.5 971.1,470.5 971.1,470.5 972.2,470.5 972.2,478.0 973.3,478.0 973.3,470.5 974.4,470.5 974.4,478.0 975.3,478.0 975.3,478.0 976.5,478.0 976.5,478.0 977.4,478.0 977.4,478.0 978.5,478.0 978.5,478.0 979.4,478.0 979.4,470.5 980.4,470.5 980.4,470.5 981.4,470.5 981.4,470.5 982.3,470.5 982.3,478.0 983.4,478.0 983.4,478.0 984.2,478.0 984.2,478.0 985.0,478.0 985.0,470.5 985.9,470.5 985.9,470.5 986.8,470.5 986.8,470.5 988.0,470.5 988.0,478.0 989.1,478.0 989.1,478.0 990.2,478.0 990.2,478.0 991.4,478.0 991.4,478.0 992.3,478.0 992.3,470.5 993.5,470.5 993.5,478.0 994.5,478.0 994.5,478.0 995.6,478.0 995.6,470.5 996.6,470.5 996.6,478.0 997.8,478.0 997.8,470.5 998.9,470.5 998.9,478.0 999.8,478.0 999.8,478.0 1001.1,478.0 1001.1,485.5 1002.1,485.5 1002.1,485.5 1003.0,485.5 1003.0,470.5 1004.2,470.5 1004.2,470.5 1005.5,470.5 1005.5,478.0 1006.7,478.0 1006.7,478.0 1007.7,478.0 1007.7,478.0 1008.9,478.0 1008.9,470.5 1010.1,470.5 1010.1,478.0 1011.4,478.0 1011.4,478.0 1012.6,478.0 1012.6,478.0 1013.9,478.0 1013.9,478.0 1014.9,478.0 1014.9,470.5 1016.1,470.5 1016.1,470.5 1017.3,470.5 1017.3,470.5 1018.3,470.5 1018.3,478.0 1019.4,478.0 1019.4,478.0 1020.4,478.0 1020.4,470.5 1021.6,470.5 1021.6,478.0 1022.6,478.0 1022.6,478.0 1023.8,478.0 1023.8,485.5 1024.9,485.5 1024.9,485.5 1026.0,485.5 1026.0,485.5 1027.0,485.5 1027.0,485.5 1027.8,485.5 1027.8,478.0 1028.9,478.0 1028.9,478.0 1029.8,478.0 1029.8,478.0 1030.8,478.0 1030.8,478.0 1032.0,478.0 1032.0,470.5 1032.8,470.5 1032.8,463.5 1034.1,463.5 1034.1,470.5 1035.2,470.5 1035.2,470.5 1036.2,470.5 1036.2,470.5 1037.4,470.5 1037.4,470.5 1038.2,470.5 1038.2,470.5 1039.0,470.5 1039.0,478.0 1040.2,478.0 1040.2,478.0 1041.3,478.0 1041.3,478.0 1042.4,478.0 1042.4,478.0 1043.6,478.0 1043.6,478.0 1044.5,478.0 1044.5,478.0 1045.4,478.0 1045.4,478.0 1046.7,478.0 1046.7,478.0 1047.5,478.0 1047.5,470.5 1048.6,470.5 1048.6,478.0 1049.7,478.0 1049.7,478.0 1051.0,478.0 1051.0,478.0 1051.8,478.0 1051.8,478.0 1053.0,478.0 1053.0,470.5 1053.8,470.5 1053.8,470.5 1054.8,470.5 1054.8,478.0 1056.0,478.0 1056.0,470.5 1057.2,470.5 1057.2,478.0 1058.0,478.0 1058.0,478.0 1059.2,478.0 1059.2,478.0 1060.0,478.0 1060.0,470.5 1061.1,470.5 1061.1,478.0 1062.3,478.0 1062.3,470.5 1063.6,470.5 1063.6,485.5 1064.4,485.5 1064.4,478.0 1065.2,478.0 1065.2,478.0 1066.0,478.0 1066.0,478.0 1067.2,478.0 1067.2,470.5 1068.0,470.5 1068.0,470.5 1069.2,470.5 1069.2,470.5 1070.4,470.5 1070.4,470.5 1071.6,470.5 1071.6,470.5 1072.9,470.5 1072.9,478.0 1074.0,478.0 1074.0,478.0 1075.2,478.0 1075.2,478.0 1076.3,478.0 1076.3,470.5 1077.4,470.5 1077.4,470.5 1078.3,470.5 1078.3,478.0 1079.4,478.0 1079.4,470.5 1080.6,470.5 1080.6,470.5 1081.6,470.5 1081.6,470.5 1082.8,470.5 1082.8,470.5 1083.7,470.5 1083.7,470.5 1084.7,470.5 1084.7,470.5 1085.8,470.5 1085.8,478.0 1087.0,478.0 1087.0,470.5 1087.9,470.5 1087.9,470.5 1089.0,470.5 1089.0,470.5 1089.9,470.5 1089.9,470.5 1091.0,470.5 1091.0,478.0 1092.2,478.0 1092.2,478.0 1092.4,478.0 1092.4,534.5 1092.2,534.5 1092.2,512.0 1091.0,512.0 1091.0,512.0 1089.9,512.0 1089.9,512.0 1089.0,512.0 1089.0,512.0 1087.9,512.0 1087.9,519.5 1087.0,519.5 1087.0,512.0 1085.8,512.0 1085.8,512.0 1084.7,512.0 1084.7,527.0 1083.7,527.0 1083.7,519.5 1082.8,519.5 1082.8,512.0 1081.6,512.0 1081.6,519.5 1080.6,519.5 1080.6,519.5 1079.4,519.5 1079.4,519.5 1078.3,519.5 1078.3,519.5 1077.4,519.5 1077.4,519.5 1076.3,519.5 1076.3,519.5 1075.2,519.5 1075.2,519.5 1074.0,519.5 1074.0,519.5 1072.9,519.5 1072.9,519.5 1071.6,519.5 1071.6,512.0 1070.4,512.0 1070.4,512.0 1069.2,512.0 1069.2,512.0 1068.0,512.0 1068.0,512.0 1067.2,512.0 1067.2,519.5 1066.0,519.5 1066.0,519.5 1065.2,519.5 1065.2,519.5 1064.4,519.5 1064.4,519.5 1063.6,519.5 1063.6,519.5 1062.3,519.5 1062.3,519.5 1061.1,519.5 1061.1,512.0 1060.0,512.0 1060.0,527.0 1059.2,527.0 1059.2,527.0 1058.0,527.0 1058.0,512.0 1057.2,512.0 1057.2,512.0 1056.0,512.0 1056.0,512.0 1054.8,512.0 1054.8,512.0 1053.8,512.0 1053.8,519.5 1053.0,519.5 1053.0,519.5 1051.8,519.5 1051.8,519.5 1051.0,519.5 1051.0,519.5 1049.7,519.5 1049.7,519.5 1048.6,519.5 1048.6,512.0 1047.5,512.0 1047.5,512.0 1046.7,512.0 1046.7,512.0 1045.4,512.0 1045.4,534.5 1044.5,534.5 1044.5,534.5 1043.6,534.5 1043.6,512.0 1042.4,512.0 1042.4,512.0 1041.3,512.0 1041.3,527.0 1040.2,527.0 1040.2,519.5 1039.0,519.5 1039.0,534.5 1038.2,534.5 1038.2,527.0 1037.4,527.0 1037.4,527.0 1036.2,527.0 1036.2,527.0 1035.2,527.0 1035.2,512.0 1034.1,512.0 1034.1,512.0 1032.8,512.0 1032.8,519.5 1032.0,519.5 1032.0,519.5 1030.8,519.5 1030.8,519.5 1029.8,519.5 1029.8,512.0 1028.9,512.0 1028.9,519.5 1027.8,519.5 1027.8,519.5 1027.0,519.5 1027.0,519.5 1026.0,519.5 1026.0,519.5 1024.9,519.5 1024.9,519.5 1023.8,519.5 1023.8,527.0 1022.6,527.0 1022.6,512.0 1021.6,512.0 1021.6,519.5 1020.4,519.5 1020.4,519.5 1019.4,519.5 1019.4,519.5 1018.3,519.5 1018.3,519.5 1017.3,519.5 1017.3,512.0 1016.1,512.0 1016.1,512.0 1014.9,512.0 1014.9,534.5 1013.9,534.5 1013.9,534.5 1012.6,534.5 1012.6,534.5 1011.4,534.5 1011.4,519.5 1010.1,519.5 1010.1,519.5 1008.9,519.5 1008.9,519.5 1007.7,519.5 1007.7,534.5 1006.7,534.5 1006.7,512.0 1005.5,512.0 1005.5,534.5 1004.2,534.5 1004.2,534.5 1003.0,534.5 1003.0,519.5 1002.1,519.5 1002.1,534.5 1001.1,534.5 1001.1,534.5 999.8,534.5 999.8,534.5 998.9,534.5 998.9,534.5 997.8,534.5 997.8,534.5 996.6,534.5 996.6,534.5 995.6,534.5 995.6,534.5 994.5,534.5 994.5,534.5 993.5,534.5 993.5,512.0 992.3,512.0 992.3,519.5 991.4,519.5 991.4,534.5 990.2,534.5 990.2,519.5 989.1,519.5 989.1,519.5 988.0,519.5 988.0,512.0 986.8,512.0 986.8,519.5 985.9,519.5 985.9,534.5 985.0,534.5 985.0,519.5 984.2,519.5 984.2,519.5 983.4,519.5 983.4,512.0 982.3,512.0 982.3,512.0 981.4,512.0 981.4,512.0 980.4,512.0 980.4,519.5 979.4,519.5 979.4,519.5 978.5,519.5 978.5,527.0 977.4,527.0 977.4,527.0 976.5,527.0 976.5,519.5 975.3,519.5 975.3,519.5 974.4,519.5 974.4,519.5 973.3,519.5 973.3,512.0 972.2,512.0 972.2,512.0 971.1,512.0 971.1,512.0 969.8,512.0 969.8,512.0 968.8,512.0 968.8,534.5 967.8,534.5 967.8,519.5 966.8,519.5 966.8,534.5 965.6,534.5 965.6,512.0 964.7,512.0 964.7,534.5 963.9,534.5 963.9,519.5 963.0,519.5 963.0,534.5 961.8,534.5 961.8,527.0 960.9,527.0 960.9,519.5 960.0,519.5 960.0,519.5 958.8,519.5 958.8,519.5 957.8,519.5 957.8,519.5 956.8,519.5 956.8,519.5 955.9,519.5 955.9,519.5 954.6,519.5 954.6,519.5 953.8,519.5 953.8,519.5 953.0,519.5 953.0,519.5 952.2,519.5 952.2,512.0 951.0,512.0" fill="#4f6d9e" stroke="#4f6d9e" stroke-width="0.6" stroke-linejoin="round"/>
<polygon points="1092.4,671.0 1093.4,671.0 1093.4,671.0 1094.6,671.0 1094.6,671.0 1095.8,671.0 1095.8,671.0 1096.9,671.0 1096.9,663.5 1098.1,663.5 1098.1,663.5 1099.1,663.5 1099.1,663.5 1100.3,663.5 1100.3,663.5 1101.1,663.5 1101.1,663.5 1102.0,663.5 1102.0,663.5 1102.9,663.5 1102.9,663.5 1104.1,663.5 1104.1,663.5 1105.0,663.5 1105.0,663.5 1106.0,663.5 1106.0,671.0 1107.0,671.0 1107.0,671.0 1107.9,671.0 1107.9,663.5 1108.8,663.5 1108.8,663.5 1109.8,663.5 1109.8,663.5 1110.9,663.5 1110.9,663.5 1111.9,663.5 1111.9,663.5 1113.1,663.5 1113.1,663.5 1114.3,663.5 1114.3,663.5 1115.4,663.5 1115.4,663.5 1116.4,663.5 1116.4,663.5 1117.3,663.5 1117.3,663.5 1118.3,663.5 1118.3,663.5 1119.3,663.5 1119.3,663.5 1120.4,663.5 1120.4,663.5 1121.3,663.5 1121.3,663.5 1122.3,663.5 1122.3,663.5 1123.2,663.5 1123.2,671.0 1124.5,671.0 1124.5,663.5 1125.4,663.5 1125.4,663.5 1126.5,663.5 1126.5,663.5 1127.4,663.5 1127.4,663.5 1128.5,663.5 1128.5,663.5 1129.3,663.5 1129.3,663.5 1130.5,663.5 1130.5,663.5 1131.5,663.5 1131.5,663.5 1132.5,663.5 1132.5,663.5 1133.6,663.5 1133.6,663.5 1134.8,663.5 1134.8,663.5 1135.9,663.5 1135.9,663.5 1137.0,663.5 1137.0,663.5 1137.8,663.5 1137.8,663.5 1138.7,663.5 1138.7,663.5 1139.6,663.5 1139.6,663.5 1140.8,663.5 1140.8,663.5 1141.6,663.5 1141.6,671.0 1142.8,671.0 1142.8,663.5 1143.8,663.5 1143.8,663.5 1145.0,663.5 1145.0,663.5 1146.0,663.5 1146.0,663.5 1147.3,663.5 1147.3,663.5 1148.3,663.5 1148.3,663.5 1149.1,663.5 1149.1,663.5 1150.1,663.5 1150.1,663.5 1151.2,663.5 1151.2,663.5 1152.1,663.5 1152.1,663.5 1153.2,663.5 1153.2,663.5 1154.4,663.5 1154.4,663.5 1155.2,663.5 1155.2,671.0 1156.5,671.0 1156.5,671.0 1157.5,671.0 1157.5,671.0 1158.6,671.0 1158.6,663.5 1159.8,663.5 1159.8,663.5 1161.0,663.5 1161.0,663.5 1162.2,663.5 1162.2,663.5 1163.4,663.5 1163.4,663.5 1164.6,663.5 1164.6,663.5 1165.8,663.5 1165.8,663.5 1166.9,663.5 1166.9,663.5 1167.8,663.5 1167.8,663.5 1168.9,663.5 1168.9,663.5 1170.1,663.5 1170.1,657.0 1171.0,657.0 1171.0,663.5 1172.2,663.5 1172.2,663.5 1173.2,663.5 1173.2,663.5 1174.1,663.5 1174.1,663.5 1174.9,663.5 1174.9,663.5 1176.1,663.5 1176.1,671.0 1177.1,671.0 1177.1,663.5 1177.9,663.5 1177.9,663.5 1178.9,663.5 1178.9,663.5 1179.7,663.5 1179.7,671.0 1180.6,671.0 1180.6,671.0 1181.5,671.0 1181.5,663.5 1182.5,663.5 1182.5,663.5 1183.4,663.5 1183.4,663.5 1184.2,663.5 1184.2,663.5 1185.3,663.5 1185.3,663.5 1186.6,663.5 1186.6,663.5 1187.7,663.5 1187.7,663.5 1188.6,663.5 1188.6,663.5 1189.9,663.5 1189.9,663.5 1191.1,663.5 1191.1,663.5 1192.4,663.5 1192.4,663.5 1193.4,663.5 1193.4,663.5 1194.4,663.5 1194.4,671.0 1195.5,671.0 1195.5,663.5 1196.8,663.5 1196.8,663.5 1198.1,663.5 1198.1,663.5 1199.0,663.5 1199.0,671.0 1199.9,671.0 1199.9,671.0 1201.0,671.0 1201.0,663.5 1202.1,663.5 1202.1,657.0 1203.0,657.0 1203.0,663.5 1204.2,663.5 1204.2,663.5 1205.1,663.5 1205.1,663.5 1206.2,663.5 1206.2,663.5 1207.4,663.5 1207.4,663.5 1208.7,663.5 1208.7,663.5 1209.6,663.5 1209.6,663.5 1210.7,663.5 1210.7,671.0 1211.5,671.0 1211.5,671.0 1212.7,671.0 1212.7,663.5 1214.0,663.5 1214.0,671.0 1215.2,671.0 1215.2,663.5 1216.0,663.5 1216.0,663.5 1216.9,663.5 1216.9,663.5 1218.2,663.5 1218.2,663.5 1219.5,663.5 1219.5,663.5 1220.6,663.5 1220.6,657.0 1221.8,657.0 1221.8,657.0 1222.8,657.0 1222.8,671.0 1223.9,671.0 1223.9,663.5 1225.2,663.5 1225.2,663.5 1226.2,663.5 1226.2,663.5 1227.2,663.5 1227.2,663.5 1228.1,663.5 1228.1,663.5 1229.2,663.5 1229.2,663.5 1230.3,663.5 1230.3,663.5 1231.2,663.5 1231.2,663.5 1232.1,663.5 1232.1,663.5 1233.0,663.5 1233.0,663.5 1233.8,663.5 1233.8,663.5 1234.7,663.5 1234.7,663.5 1235.7,663.5 1235.7,663.5 1236.9,663.5 1236.9,663.5 1237.9,663.5 1237.9,663.5 1239.0,663.5 1239.0,663.5 1240.1,663.5 1240.1,663.5 1241.1,663.5 1241.1,663.5 1242.4,663.5 1242.4,657.0 1243.3,657.0 1243.3,663.5 1244.4,663.5 1244.4,663.5 1245.4,663.5 1245.4,663.5 1246.3,663.5 1246.3,663.5 1247.4,663.5 1247.4,663.5 1248.7,663.5 1248.7,663.5 1249.5,663.5 1249.5,663.5 1250.5,663.5 1250.5,663.5 1251.7,663.5 1251.7,663.5 1252.6,663.5 1252.6,657.0 1253.7,657.0 1253.7,671.0 1254.6,671.0 1254.6,663.5 1255.4,663.5 1255.4,663.5 1256.6,663.5 1256.6,671.0 1257.8,671.0 1257.8,663.5 1259.0,663.5 1259.0,663.5 1260.1,663.5 1260.1,663.5 1261.1,663.5 1261.1,663.5 1262.3,663.5 1262.3,663.5 1263.3,663.5 1263.3,663.5 1264.2,663.5 1264.2,657.0 1265.3,657.0 1265.3,663.5 1266.2,663.5 1266.2,663.5 1267.4,663.5 1267.4,663.5 1268.4,663.5 1268.4,663.5 1269.6,663.5 1269.6,663.5 1270.7,663.5 1270.7,663.5 1272.0,663.5 1272.0,663.5 1272.9,663.5 1272.9,663.5 1273.8,663.5 1273.8,663.5 1274.9,663.5 1274.9,671.0 1275.9,671.0 1275.9,671.0 1276.9,671.0 1276.9,663.5 1277.9,663.5 1277.9,663.5 1279.0,663.5 1279.0,663.5 1280.2,663.5 1280.2,663.5 1281.5,663.5 1281.5,663.5 1282.6,663.5 1282.6,663.5 1283.5,663.5 1283.5,671.0 1284.4,671.0 1284.4,663.5 1285.7,663.5 1285.7,663.5 1286.8,663.5 1286.8,671.0 1287.7,671.0 1287.7,671.0 1288.8,671.0 1288.8,657.0 1289.7,657.0 1289.7,663.5 1290.9,663.5 1290.9,663.5 1291.8,663.5 1291.8,663.5 1293.0,663.5 1293.0,663.5 1293.9,663.5 1293.9,663.5 1295.2,663.5 1295.2,663.5 1296.5,663.5 1296.5,663.5 1297.4,663.5 1297.4,671.0 1298.6,671.0 1298.6,663.5 1299.6,663.5 1299.6,663.5 1300.9,663.5 1300.9,663.5 1301.9,663.5 1301.9,663.5 1303.1,663.5 1303.1,663.5 1304.3,663.5 1304.3,663.5 1305.1,663.5 1305.1,663.5 1306.2,663.5 1306.2,671.0 1307.5,671.0 1307.5,663.5 1308.0,663.5 1308.0,704.5 1307.5,704.5 1307.5,704.5 1306.2,704.5 1306.2,704.5 1305.1,704.5 1305.1,712.0 1304.3,712.0 1304.3,697.5 1303.1,697.5 1303.1,697.5 1301.9,697.5 1301.9,697.5 1300.9,697.5 1300.9,697.5 1299.6,697.5 1299.6,697.5 1298.6,697.5 1298.6,697.5 1297.4,697.5 1297.4,712.0 1296.5,712.0 1296.5,712.0 1295.2,712.0 1295.2,712.0 1293.9,712.0 1293.9,712.0 1293.0,712.0 1293.0,704.5 1291.8,704.5 1291.8,704.5 1290.9,704.5 1290.9,697.5 1289.7,697.5 1289.7,697.5 1288.8,697.5 1288.8,712.0 1287.7,712.0 1287.7,712.0 1286.8,712.0 1286.8,697.5 1285.7,697.5 1285.7,704.5 1284.4,704.5 1284.4,704.5 1283.5,704.5 1283.5,704.5 1282.6,704.5 1282.6,704.5 1281.5,704.5 1281.5,704.5 1280.2,704.5 1280.2,712.0 1279.0,712.0 1279.0,712.0 1277.9,712.0 1277.9,704.5 1276.9,704.5 1276.9,704.5 1275.9,704.5 1275.9,704.5 1274.9,704.5 1274.9,712.0 1273.8,712.0 1273.8,712.0 1272.9,712.0 1272.9,704.5 1272.0,704.5 1272.0,704.5 1270.7,704.5 1270.7,704.5 1269.6,704.5 1269.6,704.5 1268.4,704.5 1268.4,704.5 1267.4,704.5 1267.4,712.0 1266.2,712.0 1266.2,697.5 1265.3,697.5 1265.3,704.5 1264.2,704.5 1264.2,704.5 1263.3,704.5 1263.3,704.5 1262.3,704.5 1262.3,704.5 1261.1,704.5 1261.1,704.5 1260.1,704.5 1260.1,704.5 1259.0,704.5 1259.0,712.0 1257.8,712.0 1257.8,697.5 1256.6,697.5 1256.6,712.0 1255.4,712.0 1255.4,712.0 1254.6,712.0 1254.6,719.5 1253.7,719.5 1253.7,719.5 1252.6,719.5 1252.6,697.5 1251.7,697.5 1251.7,697.5 1250.5,697.5 1250.5,697.5 1249.5,697.5 1249.5,697.5 1248.7,697.5 1248.7,712.0 1247.4,712.0 1247.4,712.0 1246.3,712.0 1246.3,704.5 1245.4,704.5 1245.4,704.5 1244.4,704.5 1244.4,704.5 1243.3,704.5 1243.3,712.0 1242.4,712.0 1242.4,712.0 1241.1,712.0 1241.1,704.5 1240.1,704.5 1240.1,697.5 1239.0,697.5 1239.0,697.5 1237.9,697.5 1237.9,704.5 1236.9,704.5 1236.9,712.0 1235.7,712.0 1235.7,719.5 1234.7,719.5 1234.7,719.5 1233.8,719.5 1233.8,719.5 1233.0,719.5 1233.0,719.5 1232.1,719.5 1232.1,704.5 1231.2,704.5 1231.2,704.5 1230.3,704.5 1230.3,704.5 1229.2,704.5 1229.2,712.0 1228.1,712.0 1228.1,712.0 1227.2,712.0 1227.2,697.5 1226.2,697.5 1226.2,697.5 1225.2,697.5 1225.2,704.5 1223.9,704.5 1223.9,704.5 1222.8,704.5 1222.8,704.5 1221.8,704.5 1221.8,697.5 1220.6,697.5 1220.6,712.0 1219.5,712.0 1219.5,712.0 1218.2,712.0 1218.2,704.5 1216.9,704.5 1216.9,697.5 1216.0,697.5 1216.0,697.5 1215.2,697.5 1215.2,704.5 1214.0,704.5 1214.0,704.5 1212.7,704.5 1212.7,712.0 1211.5,712.0 1211.5,704.5 1210.7,704.5 1210.7,697.5 1209.6,697.5 1209.6,704.5 1208.7,704.5 1208.7,704.5 1207.4,704.5 1207.4,712.0 1206.2,712.0 1206.2,712.0 1205.1,712.0 1205.1,712.0 1204.2,712.0 1204.2,697.5 1203.0,697.5 1203.0,712.0 1202.1,712.0 1202.1,712.0 1201.0,712.0 1201.0,704.5 1199.9,704.5 1199.9,697.5 1199.0,697.5 1199.0,704.5 1198.1,704.5 1198.1,704.5 1196.8,704.5 1196.8,704.5 1195.5,704.5 1195.5,712.0 1194.4,712.0 1194.4,719.5 1193.4,719.5 1193.4,719.5 1192.4,719.5 1192.4,697.5 1191.1,697.5 1191.1,697.5 1189.9,697.5 1189.9,712.0 1188.6,712.0 1188.6,712.0 1187.7,712.0 1187.7,697.5 1186.6,697.5 1186.6,697.5 1185.3,697.5 1185.3,704.5 1184.2,704.5 1184.2,719.5 1183.4,719.5 1183.4,712.0 1182.5,712.0 1182.5,697.5 1181.5,697.5 1181.5,697.5 1180.6,697.5 1180.6,697.5 1179.7,697.5 1179.7,712.0 1178.9,712.0 1178.9,712.0 1177.9,712.0 1177.9,697.5 1177.1,697.5 1177.1,712.0 1176.1,712.0 1176.1,704.5 1174.9,704.5 1174.9,704.5 1174.1,704.5 1174.1,697.5 1173.2,697.5 1173.2,697.5 1172.2,697.5 1172.2,704.5 1171.0,704.5 1171.0,704.5 1170.1,704.5 1170.1,697.5 1168.9,697.5 1168.9,704.5 1167.8,704.5 1167.8,712.0 1166.9,712.0 1166.9,712.0 1165.8,712.0 1165.8,712.0 1164.6,712.0 1164.6,697.5 1163.4,697.5 1163.4,712.0 1162.2,712.0 1162.2,704.5 1161.0,704.5 1161.0,704.5 1159.8,704.5 1159.8,704.5 1158.6,704.5 1158.6,697.5 1157.5,697.5 1157.5,697.5 1156.5,697.5 1156.5,697.5 1155.2,697.5 1155.2,719.5 1154.4,719.5 1154.4,697.5 1153.2,697.5 1153.2,704.5 1152.1,704.5 1152.1,712.0 1151.2,712.0 1151.2,712.0 1150.1,712.0 1150.1,712.0 1149.1,712.0 1149.1,712.0 1148.3,712.0 1148.3,697.5 1147.3,697.5 1147.3,697.5 1146.0,697.5 1146.0,697.5 1145.0,697.5 1145.0,697.5 1143.8,697.5 1143.8,697.5 1142.8,697.5 1142.8,712.0 1141.6,712.0 1141.6,712.0 1140.8,712.0 1140.8,712.0 1139.6,712.0 1139.6,712.0 1138.7,712.0 1138.7,704.5 1137.8,704.5 1137.8,704.5 1137.0,704.5 1137.0,704.5 1135.9,704.5 1135.9,704.5 1134.8,704.5 1134.8,704.5 1133.6,704.5 1133.6,712.0 1132.5,712.0 1132.5,704.5 1131.5,704.5 1131.5,697.5 1130.5,697.5 1130.5,704.5 1129.3,704.5 1129.3,704.5 1128.5,704.5 1128.5,712.0 1127.4,712.0 1127.4,712.0 1126.5,712.0 1126.5,712.0 1125.4,712.0 1125.4,704.5 1124.5,704.5 1124.5,704.5 1123.2,704.5 1123.2,704.5 1122.3,704.5 1122.3,697.5 1121.3,697.5 1121.3,712.0 1120.4,712.0 1120.4,697.5 1119.3,697.5 1119.3,704.5 1118.3,704.5 1118.3,704.5 1117.3,704.5 1117.3,704.5 1116.4,704.5 1116.4,704.5 1115.4,704.5 1115.4,697.5 1114.3,697.5 1114.3,697.5 1113.1,697.5 1113.1,726.5 1111.9,726.5 1111.9,697.5 1110.9,697.5 1110.9,704.5 1109.8,704.5 1109.8,697.5 1108.8,697.5 1108.8,697.5 1107.9,697.5 1107.9,704.5 1107.0,704.5 1107.0,697.5 1106.0,697.5 1106.0,697.5 1105.0,697.5 1105.0,697.5 1104.1,697.5 1104.1,704.5 1102.9,704.5 1102.9,712.0 1102.0,712.0 1102.0,697.5 1101.1,697.5 1101.1,697.5 1100.3,697.5 1100.3,712.0 1099.1,712.0 1099.1,712.0 1098.1,712.0 1098.1,712.0 1096.9,712.0 1096.9,697.5 1095.8,697.5 1095.8,704.5 1094.6,704.5 1094.6,704.5 1093.4,704.5 1093.4,697.5 1092.4,697.5" fill="#4f6d9e" stroke="#4f6d9e" stroke-width="0.6" stroke-linejoin="round"/>
<polygon points="1314.0,478.0 1315.1,478.0 1315.1,478.0 1316.1,478.0 1316.1,478.0 1317.4,478.0 1317.4,470.5 1318.3,470.5 1318.3,478.0 1319.5,478.0 1319.5,478.0 1320.5,478.0 1320.5,470.5 1321.5,470.5 1321.5,470.5 1322.6,470.5 1322.6,470.5 1323.7,470.5 1323.7,478.0 1324.9,478.0 1324.9,470.5 1325.8,470.5 1325.8,478.0 1327.0,478.0 1327.0,478.0 1327.9,478.0 1327.9,478.0 1328.7,478.0 1328.7,470.5 1330.0,470.5 1330.0,470.5 1330.9,470.5 1330.9,470.5 1331.9,470.5 1331.9,470.5 1333.1,470.5 1333.1,470.5 1334.1,470.5 1334.1,470.5 1335.2,470.5 1335.2,470.5 1336.2,470.5 1336.2,470.5 1337.5,470.5 1337.5,470.5 1338.7,470.5 1338.7,478.0 1339.8,478.0 1339.8,478.0 1340.7,478.0 1340.7,470.5 1341.9,470.5 1341.9,470.5 1343.0,470.5 1343.0,478.0 1344.2,478.0 1344.2,478.0 1345.2,478.0 1345.2,478.0 1346.2,478.0 1346.2,478.0 1347.3,478.0 1347.3,478.0 1348.3,478.0 1348.3,478.0 1349.5,478.0 1349.5,478.0 1350.4,478.0 1350.4,478.0 1351.5,478.0 1351.5,478.0 1352.5,478.0 1352.5,478.0 1353.6,478.0 1353.6,478.0 1354.4,478.0 1354.4,478.0 1355.3,478.0 1355.3,478.0 1356.5,478.0 1356.5,478.0 1357.5,478.0 1357.5,485.5 1358.4,485.5 1358.4,478.0 1359.6,478.0 1359.6,478.0 1360.6,478.0 1360.6,478.0 1361.5,478.0 1361.5,470.5 1362.3,470.5 1362.3,470.5 1363.6,470.5 1363.6,470.5 1364.7,470.5 1364.7,478.0 1365.6,478.0 1365.6,470.5 1366.5,470.5 1366.5,470.5 1367.6,470.5 1367.6,470.5 1368.8,470.5 1368.8,478.0 1369.9,478.0 1369.9,478.0 1370.8,478.0 1370.8,478.0 1372.0,478.0 1372.0,478.0 1373.0,478.0 1373.0,478.0 1374.1,478.0 1374.1,478.0 1375.1,478.0 1375.1,470.5 1376.0,470.5 1376.0,470.5 1377.1,470.5 1377.1,478.0 1378.0,478.0 1378.0,478.0 1379.1,478.0 1379.1,478.0 1380.3,478.0 1380.3,470.5 1381.1,470.5 1381.1,470.5 1382.2,470.5 1382.2,478.0 1383.2,478.0 1383.2,478.0 1384.4,478.0 1384.4,478.0 1385.4,478.0 1385.4,478.0 1386.3,478.0 1386.3,470.5 1387.2,470.5 1387.2,485.5 1388.0,485.5 1388.0,485.5 1389.2,485.5 1389.2,478.0 1390.3,478.0 1390.3,478.0 1391.5,478.0 1391.5,478.0 1392.4,478.0 1392.4,470.5 1393.3,470.5 1393.3,478.0 1394.3,478.0 1394.3,485.5 1395.2,485.5 1395.2,485.5 1396.0,485.5 1396.0,485.5 1397.0,485.5 1397.0,478.0 1398.2,478.0 1398.2,485.5 1399.1,485.5 1399.1,485.5 1399.9,485.5 1399.9,478.0 1400.8,478.0 1400.8,470.5 1401.9,470.5 1401.9,470.5 1403.1,470.5 1403.1,470.5 1404.0,470.5 1404.0,478.0 1405.0,478.0 1405.0,478.0 1406.2,478.0 1406.2,478.0 1407.1,478.0 1407.1,478.0 1407.9,478.0 1407.9,470.5 1409.0,470.5 1409.0,478.0 1410.2,478.0 1410.2,478.0 1411.2,478.0 1411.2,478.0 1412.2,478.0 1412.2,478.0 1413.3,478.0 1413.3,470.5 1414.3,470.5 1414.3,470.5 1415.2,470.5 1415.2,478.0 1416.2,478.0 1416.2,478.0 1417.3,478.0 1417.3,478.0 1418.5,478.0 1418.5,478.0 1419.7,478.0 1419.7,485.5 1420.7,485.5 1420.7,470.5 1421.5,470.5 1421.5,463.5 1422.4,463.5 1422.4,463.5 1423.3,463.5 1423.3,463.5 1424.4,463.5 1424.4,463.5 1425.6,463.5 1425.6,470.5 1426.6,470.5 1426.6,478.0 1427.5,478.0 1427.5,470.5 1428.7,470.5 1428.7,478.0 1429.8,478.0 1429.8,470.5 1430.9,470.5 1430.9,470.5 1431.9,470.5 1431.9,478.0 1432.8,478.0 1432.8,463.5 1433.7,463.5 1433.7,463.5 1434.8,463.5 1434.8,470.5 1436.0,470.5 1436.0,478.0 1436.9,478.0 1436.9,478.0 1438.0,478.0 1438.0,478.0 1439.0,478.0 1439.0,470.5 1439.9,470.5 1439.9,478.0 1440.8,478.0 1440.8,478.0 1441.8,478.0 1441.8,470.5 1442.9,470.5 1442.9,478.0 1443.8,478.0 1443.8,470.5 1445.1,470.5 1445.1,478.0 1446.1,478.0 1446.1,478.0 1447.3,478.0 1447.3,485.5 1448.1,485.5 1448.1,470.5 1449.3,470.5 1449.3,470.5 1450.2,470.5 1450.2,470.5 1451.1,470.5 1451.1,478.0 1452.3,478.0 1452.3,470.5 1453.2,470.5 1453.2,519.5 1452.3,519.5 1452.3,519.5 1451.1,519.5 1451.1,512.0 1450.2,512.0 1450.2,512.0 1449.3,512.0 1449.3,519.5 1448.1,519.5 1448.1,519.5 1447.3,519.5 1447.3,519.5 1446.1,519.5 1446.1,527.0 1445.1,527.0 1445.1,534.5 1443.8,534.5 1443.8,534.5 1442.9,534.5 1442.9,527.0 1441.8,527.0 1441.8,519.5 1440.8,519.5 1440.8,519.5 1439.9,519.5 1439.9,512.0 1439.0,512.0 1439.0,519.5 1438.0,519.5 1438.0,519.5 1436.9,519.5 1436.9,519.5 1436.0,519.5 1436.0,512.0 1434.8,512.0 1434.8,534.5 1433.7,534.5 1433.7,519.5 1432.8,519.5 1432.8,519.5 1431.9,519.5 1431.9,519.5 1430.9,519.5 1430.9,527.0 1429.8,527.0 1429.8,527.0 1428.7,527.0 1428.7,527.0 1427.5,527.0 1427.5,519.5 1426.6,519.5 1426.6,519.5 1425.6,519.5 1425.6,512.0 1424.4,512.0 1424.4,512.0 1423.3,512.0 1423.3,519.5 1422.4,519.5 1422.4,519.5 1421.5,519.5 1421.5,534.5 1420.7,534.5 1420.7,534.5 1419.7,534.5 1419.7,512.0 1418.5,512.0 1418.5,519.5 1417.3,519.5 1417.3,519.5 1416.2,519.5 1416.2,534.5 1415.2,534.5 1415.2,519.5 1414.3,519.5 1414.3,519.5 1413.3,519.5 1413.3,519.5 1412.2,519.5 1412.2,519.5 1411.2,519.5 1411.2,519.5 1410.2,519.5 1410.2,512.0 1409.0,512.0 1409.0,512.0 1407.9,512.0 1407.9,512.0 1407.1,512.0 1407.1,512.0 1406.2,512.0 1406.2,512.0 1405.0,512.0 1405.0,512.0 1404.0,512.0 1404.0,512.0 1403.1,512.0 1403.1,519.5 1401.9,519.5 1401.9,519.5 1400.8,519.5 1400.8,527.0 1399.9,527.0 1399.9,527.0 1399.1,527.0 1399.1,527.0 1398.2,527.0 1398.2,519.5 1397.0,519.5 1397.0,519.5 1396.0,519.5 1396.0,519.5 1395.2,519.5 1395.2,519.5 1394.3,519.5 1394.3,519.5 1393.3,519.5 1393.3,519.5 1392.4,519.5 1392.4,519.5 1391.5,519.5 1391.5,519.5 1390.3,519.5 1390.3,512.0 1389.2,512.0 1389.2,519.5 1388.0,519.5 1388.0,519.5 1387.2,519.5 1387.2,512.0 1386.3,512.0 1386.3,534.5 1385.4,534.5 1385.4,534.5 1384.4,534.5 1384.4,534.5 1383.2,534.5 1383.2,512.0 1382.2,512.0 1382.2,519.5 1381.1,519.5 1381.1,519.5 1380.3,519.5 1380.3,519.5 1379.1,519.5 1379.1,519.5 1378.0,519.5 1378.0,512.0 1377.1,512.0 1377.1,519.5 1376.0,519.5 1376.0,519.5 1375.1,519.5 1375.1,519.5 1374.1,519.5 1374.1,527.0 1373.0,527.0 1373.0,519.5 1372.0,519.5 1372.0,519.5 1370.8,519.5 1370.8,519.5 1369.9,519.5 1369.9,519.5 1368.8,519.5 1368.8,519.5 1367.6,519.5 1367.6,512.0 1366.5,512.0 1366.5,512.0 1365.6,512.0 1365.6,519.5 1364.7,519.5 1364.7,519.5 1363.6,519.5 1363.6,519.5 1362.3,519.5 1362.3,519.5 1361.5,519.5 1361.5,519.5 1360.6,519.5 1360.6,519.5 1359.6,519.5 1359.6,519.5 1358.4,519.5 1358.4,519.5 1357.5,519.5 1357.5,519.5 1356.5,519.5 1356.5,519.5 1355.3,519.5 1355.3,519.5 1354.4,519.5 1354.4,519.5 1353.6,519.5 1353.6,519.5 1352.5,519.5 1352.5,519.5 1351.5,519.5 1351.5,512.0 1350.4,512.0 1350.4,519.5 1349.5,519.5 1349.5,519.5 1348.3,519.5 1348.3,534.5 1347.3,534.5 1347.3,512.0 1346.2,512.0 1346.2,527.0 1345.2,527.0 1345.2,512.0 1344.2,512.0 1344.2,534.5 1343.0,534.5 1343.0,534.5 1341.9,534.5 1341.9,534.5 1340.7,534.5 1340.7,512.0 1339.8,512.0 1339.8,512.0 1338.7,512.0 1338.7,519.5 1337.5,519.5 1337.5,534.5 1336.2,534.5 1336.2,519.5 1335.2,519.5 1335.2,527.0 1334.1,527.0 1334.1,534.5 1333.1,534.5 1333.1,534.5 1331.9,534.5 1331.9,534.5 1330.9,534.5 1330.9,519.5 1330.0,519.5 1330.0,519.5 1328.7,519.5 1328.7,519.5 1327.9,519.5 1327.9,519.5 1327.0,519.5 1327.0,519.5 1325.8,519.5 1325.8,512.0 1324.9,512.0 1324.9,519.5 1323.7,519.5 1323.7,519.5 1322.6,519.5 1322.6,519.5 1321.5,519.5 1321.5,519.5 1320.5,519.5 1320.5,534.5 1319.5,534.5 1319.5,512.0 1318.3,512.0 1318.3,512.0 1317.4,512.0 1317.4,519.5 1316.1,519.5 1316.1,519.5 1315.1,519.5 1315.1,519.5 1314.0,519.5" fill="#4f6d9e" stroke="#4f6d9e" stroke-width="0.6" stroke-linejoin="round"/>
<polygon points="1453.2,663.5 1454.3,663.5 1454.3,663.5 1455.2,663.5 1455.2,663.5 1456.3,663.5 1456.3,663.5 1457.3,663.5 1457.3,663.5 1458.2,663.5 1458.2,663.5 1459.3,663.5 1459.3,663.5 1460.4,663.5 1460.4,663.5 1461.4,663.5 1461.4,663.5 1462.7,663.5 1462.7,663.5 1463.5,663.5 1463.5,663.5 1464.7,663.5 1464.7,671.0 1465.6,671.0 1465.6,663.5 1466.9,663.5 1466.9,671.0 1467.7,671.0 1467.7,671.0 1468.9,671.0 1468.9,663.5 1469.8,663.5 1469.8,663.5 1470.8,663.5 1470.8,663.5 1471.7,663.5 1471.7,663.5 1472.9,663.5 1472.9,663.5 1474.2,663.5 1474.2,657.0 1475.3,657.0 1475.3,657.0 1476.2,657.0 1476.2,657.0 1477.2,657.0 1477.2,663.5 1478.3,663.5 1478.3,663.5 1479.1,663.5 1479.1,663.5 1480.0,663.5 1480.0,671.0 1481.1,671.0 1481.1,663.5 1482.3,663.5 1482.3,663.5 1483.2,663.5 1483.2,663.5 1484.3,663.5 1484.3,663.5 1485.1,663.5 1485.1,663.5 1486.4,663.5 1486.4,663.5 1487.4,663.5 1487.4,663.5 1488.5,663.5 1488.5,663.5 1489.7,663.5 1489.7,663.5 1490.7,663.5 1490.7,663.5 1491.6,663.5 1491.6,663.5 1492.8,663.5 1492.8,663.5 1494.1,663.5 1494.1,663.5 1495.2,663.5 1495.2,671.0 1496.1,671.0 1496.1,671.0 1497.3,671.0 1497.3,663.5 1498.5,663.5 1498.5,663.5 1499.4,663.5 1499.4,663.5 1500.5,663.5 1500.5,663.5 1501.7,663.5 1501.7,663.5 1502.6,663.5 1502.6,663.5 1503.7,663.5 1503.7,671.0 1504.9,671.0 1504.9,663.5 1505.8,663.5 1505.8,663.5 1506.9,663.5 1506.9,663.5 1508.0,663.5 1508.0,663.5 1509.1,663.5 1509.1,663.5 1510.2,663.5 1510.2,663.5 1511.2,663.5 1511.2,663.5 1512.3,663.5 1512.3,663.5 1513.1,663.5 1513.1,663.5 1514.2,663.5 1514.2,671.0 1515.4,671.0 1515.4,671.0 1516.6,671.0 1516.6,663.5 1517.5,663.5 1517.5,663.5 1518.4,663.5 1518.4,663.5 1519.4,663.5 1519.4,663.5 1520.3,663.5 1520.3,671.0 1521.6,671.0 1521.6,671.0 1522.5,671.0 1522.5,671.0 1523.6,671.0 1523.6,663.5 1524.5,663.5 1524.5,663.5 1525.5,663.5 1525.5,663.5 1526.5,663.5 1526.5,671.0 1527.6,671.0 1527.6,671.0 1528.6,671.0 1528.6,663.5 1529.7,663.5 1529.7,663.5 1530.8,663.5 1530.8,663.5 1532.0,663.5 1532.0,663.5 1533.1,663.5 1533.1,671.0 1534.1,671.0 1534.1,671.0 1534.9,671.0 1534.9,671.0 1536.1,671.0 1536.1,663.5 1537.1,663.5 1537.1,663.5 1538.4,663.5 1538.4,663.5 1539.5,663.5 1539.5,663.5 1540.7,663.5 1540.7,663.5 1541.8,663.5 1541.8,663.5 1543.1,663.5 1543.1,663.5 1544.3,663.5 1544.3,663.5 1545.3,663.5 1545.3,663.5 1546.3,663.5 1546.3,663.5 1547.3,663.5 1547.3,663.5 1548.3,663.5 1548.3,663.5 1549.3,663.5 1549.3,663.5 1550.4,663.5 1550.4,663.5 1551.5,663.5 1551.5,663.5 1552.5,663.5 1552.5,663.5 1553.6,663.5 1553.6,663.5 1554.5,663.5 1554.5,663.5 1555.5,663.5 1555.5,663.5 1556.6,663.5 1556.6,663.5 1557.7,663.5 1557.7,657.0 1558.7,657.0 1558.7,663.5 1560.0,663.5 1560.0,663.5 1561.2,663.5 1561.2,663.5 1562.0,663.5 1562.0,663.5 1563.0,663.5 1563.0,663.5 1564.1,663.5 1564.1,663.5 1565.3,663.5 1565.3,671.0 1566.5,671.0 1566.5,663.5 1567.6,663.5 1567.6,663.5 1568.5,663.5 1568.5,663.5 1569.4,663.5 1569.4,657.0 1570.3,657.0 1570.3,657.0 1571.4,657.0 1571.4,671.0 1572.5,671.0 1572.5,663.5 1573.6,663.5 1573.6,663.5 1574.6,663.5 1574.6,663.5 1575.6,663.5 1575.6,657.0 1576.4,657.0 1576.4,663.5 1577.2,663.5 1577.2,657.0 1578.5,657.0 1578.5,663.5 1579.5,663.5 1579.5,663.5 1580.4,663.5 1580.4,663.5 1581.4,663.5 1581.4,663.5 1582.4,663.5 1582.4,663.5 1583.4,663.5 1583.4,657.0 1584.5,657.0 1584.5,663.5 1585.7,663.5 1585.7,663.5 1586.5,663.5 1586.5,663.5 1587.3,663.5 1587.3,663.5 1588.3,663.5 1588.3,663.5 1589.3,663.5 1589.3,663.5 1590.3,663.5 1590.3,663.5 1591.1,663.5 1591.1,663.5 1592.2,663.5 1592.2,663.5 1593.5,663.5 1593.5,657.0 1594.6,657.0 1594.6,671.0 1595.5,671.0 1595.5,671.0 1596.6,671.0 1596.6,671.0 1597.5,671.0 1597.5,663.5 1598.6,663.5 1598.6,663.5 1599.6,663.5 1599.6,663.5 1600.6,663.5 1600.6,663.5 1601.6,663.5 1601.6,663.5 1602.5,663.5 1602.5,671.0 1603.4,671.0 1603.4,663.5 1604.6,663.5 1604.6,663.5 1605.5,663.5 1605.5,663.5 1606.5,663.5 1606.5,663.5 1607.6,663.5 1607.6,663.5 1608.5,663.5 1608.5,663.5 1609.7,663.5 1609.7,663.5 1610.9,663.5 1610.9,663.5 1611.9,663.5 1611.9,663.5 1612.9,663.5 1612.9,663.5 1614.0,663.5 1614.0,663.5 1614.9,663.5 1614.9,663.5 1615.9,663.5 1615.9,663.5 1617.1,663.5 1617.1,671.0 1618.2,671.0 1618.2,663.5 1619.2,663.5 1619.2,663.5 1620.0,663.5 1620.0,663.5 1621.2,663.5 1621.2,663.5 1622.4,663.5 1622.4,663.5 1623.3,663.5 1623.3,663.5 1624.3,663.5 1624.3,663.5 1625.5,663.5 1625.5,671.0 1626.6,671.0 1626.6,663.5 1627.6,663.5 1627.6,663.5 1628.5,663.5 1628.5,663.5 1629.7,663.5 1629.7,671.0 1630.9,671.0 1630.9,671.0 1631.9,671.0 1631.9,671.0 1632.7,671.0 1632.7,663.5 1633.7,663.5 1633.7,663.5 1634.8,663.5 1634.8,663.5 1635.9,663.5 1635.9,663.5 1636.8,663.5 1636.8,663.5 1638.0,663.5 1638.0,663.5 1639.1,663.5 1639.1,663.5 1640.1,663.5 1640.1,663.5 1641.0,663.5 1641.0,663.5 1641.9,663.5 1641.9,663.5 1642.9,663.5 1642.9,663.5 1643.9,663.5 1643.9,663.5 1645.1,663.5 1645.1,663.5 1646.1,663.5 1646.1,663.5 1646.9,663.5 1646.9,663.5 1647.8,663.5 1647.8,663.5 1648.9,663.5 1648.9,663.5 1649.9,663.5 1649.9,663.5 1650.8,663.5 1650.8,663.5 1652.1,663.5 1652.1,663.5 1653.2,663.5 1653.2,663.5 1653.4,663.5 1653.4,712.0 1653.2,712.0 1653.2,712.0 1652.1,712.0 1652.1,712.0 1650.8,712.0 1650.8,712.0 1649.9,712.0 1649.9,712.0 1648.9,712.0 1648.9,712.0 1647.8,712.0 1647.8,719.5 1646.9,719.5 1646.9,704.5 1646.1,704.5 1646.1,704.5 1645.1,704.5 1645.1,719.5 1643.9,719.5 1643.9,697.5 1642.9,697.5 1642.9,697.5 1641.9,697.5 1641.9,712.0 1641.0,712.0 1641.0,704.5 1640.1,704.5 1640.1,712.0 1639.1,712.0 1639.1,719.5 1638.0,719.5 1638.0,697.5 1636.8,697.5 1636.8,704.5 1635.9,704.5 1635.9,704.5 1634.8,704.5 1634.8,697.5 1633.7,697.5 1633.7,697.5 1632.7,697.5 1632.7,697.5 1631.9,697.5 1631.9,704.5 1630.9,704.5 1630.9,697.5 1629.7,697.5 1629.7,704.5 1628.5,704.5 1628.5,704.5 1627.6,704.5 1627.6,704.5 1626.6,704.5 1626.6,704.5 1625.5,704.5 1625.5,712.0 1624.3,712.0 1624.3,697.5 1623.3,697.5 1623.3,697.5 1622.4,697.5 1622.4,697.5 1621.2,697.5 1621.2,697.5 1620.0,697.5 1620.0,712.0 1619.2,712.0 1619.2,697.5 1618.2,697.5 1618.2,704.5 1617.1,704.5 1617.1,704.5 1615.9,704.5 1615.9,704.5 1614.9,704.5 1614.9,704.5 1614.0,704.5 1614.0,697.5 1612.9,697.5 1612.9,697.5 1611.9,697.5 1611.9,697.5 1610.9,697.5 1610.9,712.0 1609.7,712.0 1609.7,712.0 1608.5,712.0 1608.5,697.5 1607.6,697.5 1607.6,697.5 1606.5,697.5 1606.5,697.5 1605.5,697.5 1605.5,697.5 1604.6,697.5 1604.6,697.5 1603.4,697.5 1603.4,697.5 1602.5,697.5 1602.5,697.5 1601.6,697.5 1601.6,697.5 1600.6,697.5 1600.6,712.0 1599.6,712.0 1599.6,704.5 1598.6,704.5 1598.6,704.5 1597.5,704.5 1597.5,704.5 1596.6,704.5 1596.6,697.5 1595.5,697.5 1595.5,712.0 1594.6,712.0 1594.6,712.0 1593.5,712.0 1593.5,712.0 1592.2,712.0 1592.2,704.5 1591.1,704.5 1591.1,712.0 1590.3,712.0 1590.3,712.0 1589.3,712.0 1589.3,712.0 1588.3,712.0 1588.3,697.5 1587.3,697.5 1587.3,697.5 1586.5,697.5 1586.5,697.5 1585.7,697.5 1585.7,704.5 1584.5,704.5 1584.5,697.5 1583.4,697.5 1583.4,697.5 1582.4,697.5 1582.4,697.5 1581.4,697.5 1581.4,697.5 1580.4,697.5 1580.4,704.5 1579.5,704.5 1579.5,704.5 1578.5,704.5 1578.5,704.5 1577.2,704.5 1577.2,697.5 1576.4,697.5 1576.4,697.5 1575.6,697.5 1575.6,697.5 1574.6,697.5 1574.6,697.5 1573.6,697.5 1573.6,704.5 1572.5,704.5 1572.5,704.5 1571.4,704.5 1571.4,704.5 1570.3,704.5 1570.3,704.5 1569.4,704.5 1569.4,697.5 1568.5,697.5 1568.5,697.5 1567.6,697.5 1567.6,704.5 1566.5,704.5 1566.5,704.5 1565.3,704.5 1565.3,712.0 1564.1,712.0 1564.1,712.0 1563.0,712.0 1563.0,712.0 1562.0,712.0 1562.0,712.0 1561.2,712.0 1561.2,697.5 1560.0,697.5 1560.0,712.0 1558.7,712.0 1558.7,697.5 1557.7,697.5 1557.7,704.5 1556.6,704.5 1556.6,704.5 1555.5,704.5 1555.5,712.0 1554.5,712.0 1554.5,704.5 1553.6,704.5 1553.6,712.0 1552.5,712.0 1552.5,712.0 1551.5,712.0 1551.5,704.5 1550.4,704.5 1550.4,704.5 1549.3,704.5 1549.3,704.5 1548.3,704.5 1548.3,704.5 1547.3,704.5 1547.3,712.0 1546.3,712.0 1546.3,697.5 1545.3,697.5 1545.3,704.5 1544.3,704.5 1544.3,697.5 1543.1,697.5 1543.1,719.5 1541.8,719.5 1541.8,712.0 1540.7,712.0 1540.7,697.5 1539.5,697.5 1539.5,697.5 1538.4,697.5 1538.4,697.5 1537.1,697.5 1537.1,704.5 1536.1,704.5 1536.1,697.5 1534.9,697.5 1534.9,697.5 1534.1,697.5 1534.1,697.5 1533.1,697.5 1533.1,697.5 1532.0,697.5 1532.0,697.5 1530.8,697.5 1530.8,697.5 1529.7,697.5 1529.7,719.5 1528.6,719.5 1528.6,712.0 1527.6,712.0 1527.6,712.0 1526.5,712.0 1526.5,697.5 1525.5,697.5 1525.5,697.5 1524.5,697.5 1524.5,719.5 1523.6,719.5 1523.6,712.0 1522.5,712.0 1522.5,712.0 1521.6,712.0 1521.6,697.5 1520.3,697.5 1520.3,719.5 1519.4,719.5 1519.4,712.0 1518.4,712.0 1518.4,712.0 1517.5,712.0 1517.5,697.5 1516.6,697.5 1516.6,697.5 1515.4,697.5 1515.4,712.0 1514.2,712.0 1514.2,712.0 1513.1,712.0 1513.1,712.0 1512.3,712.0 1512.3,712.0 1511.2,712.0 1511.2,712.0 1510.2,712.0 1510.2,712.0 1509.1,712.0 1509.1,704.5 1508.0,704.5 1508.0,712.0 1506.9,712.0 1506.9,712.0 1505.8,712.0 1505.8,712.0 1504.9,712.0 1504.9,712.0 1503.7,712.0 1503.7,719.5 1502.6,719.5 1502.6,712.0 1501.7,712.0 1501.7,712.0 1500.5,712.0 1500.5,704.5 1499.4,704.5 1499.4,704.5 1498.5,704.5 1498.5,697.5 1497.3,697.5 1497.3,697.5 1496.1,697.5 1496.1,726.5 1495.2,726.5 1495.2,726.5 1494.1,726.5 1494.1,697.5 1492.8,697.5 1492.8,704.5 1491.6,704.5 1491.6,704.5 1490.7,704.5 1490.7,697.5 1489.7,697.5 1489.7,697.5 1488.5,697.5 1488.5,697.5 1487.4,697.5 1487.4,712.0 1486.4,712.0 1486.4,704.5 1485.1,704.5 1485.1,704.5 1484.3,704.5 1484.3,712.0 1483.2,712.0 1483.2,704.5 1482.3,704.5 1482.3,704.5 1481.1,704.5 1481.1,704.5 1480.0,704.5 1480.0,697.5 1479.1,697.5 1479.1,712.0 1478.3,712.0 1478.3,712.0 1477.2,712.0 1477.2,712.0 1476.2,712.0 1476.2,697.5 1475.3,697.5 1475.3,726.5 1474.2,726.5 1474.2,712.0 1472.9,712.0 1472.9,712.0 1471.7,712.0 1471.7,704.5 1470.8,704.5 1470.8,704.5 1469.8,704.5 1469.8,704.5 1468.9,704.5 1468.9,704.5 1467.7,704.5 1467.7,704.5 1466.9,704.5 1466.9,697.5 1465.6,697.5 1465.6,697.5 1464.7,697.5 1464.7,704.5 1463.5,704.5 1463.5,719.5 1462.7,719.5 1462.7,719.5 1461.4,719.5 1461.4,704.5 1460.4,704.5 1460.4,704.5 1459.3,704.5 1459.3,712.0 1458.2,712.0 1458.2,712.0 1457.3,712.0 1457.3,712.0 1456.3,712.0 1456.3,712.0 1455.2,712.0 1455.2,712.0 1454.3,712.0 1454.3,712.0 1453.2,712.0" fill="#4f6d9e" stroke="#4f6d9e" stroke-width="0.6" stroke-linejoin="round"/>
<polyline points="945.4,690.0 945.9,655.0 948.0,585.0 949.6,540.0 951.0,498.0 951.6,478.0" fill="none" stroke="#4f6d9e" stroke-width="2.0" stroke-linejoin="round" stroke-linecap="round"/>
<polyline points="1092.4,478.0 1092.9,712.0" fill="none" stroke="#4f6d9e" stroke-width="2.0" stroke-linejoin="round" stroke-linecap="round"/>
<polyline points="1307.6,690.0 1308.0,653.0 1309.6,587.0 1311.8,524.0 1313.6,492.0 1314.5,476.0" fill="none" stroke="#4f6d9e" stroke-width="2.0" stroke-linejoin="round" stroke-linecap="round"/>
<polyline points="1453.3,476.0 1453.8,712.0" fill="none" stroke="#4f6d9e" stroke-width="2.0" stroke-linejoin="round" stroke-linecap="round"/>
<polyline points="927.5,241.7 927.8,251.2 928.0,241.7 928.2,251.3 928.5,241.9 928.8,251.3 929.0,242.9 929.2,251.5 929.5,242.9 929.8,251.1 930.0,241.4 930.2,251.1 930.5,241.5 930.8,252.1 931.0,241.5 931.2,250.6 931.5,242.5 931.8,250.6 932.0,243.4 932.2,250.9 932.5,243.4 932.8,250.3 933.0,242.3 933.2,250.3 933.5,242.2 933.8,250.9 934.0,242.2 934.2,250.5 934.5,241.8 934.8,250.5 935.0,242.6 935.2,250.6 935.5,242.6 935.8,251.5 936.0,242.4 936.2,251.5 936.5,241.8 936.8,250.9 937.0,241.8 937.2,250.8 937.5,241.8 937.8,250.8 938.0,241.9 938.2,251.3 938.5,241.9 938.8,252.1 939.0,243.1 939.2,252.1 939.5,241.0 939.8,252.2 940.0,241.0 940.2,252.3 940.5,242.8 940.8,252.3 941.0,243.3 941.2,250.9 941.5,243.3 941.8,251.7 942.0,242.3 942.2,251.7 942.5,242.7 942.8,250.5 943.0,242.7 943.2,251.0 943.5,242.7 943.8,251.0 944.0,242.2 944.2,251.5 944.5,242.2 944.8,251.6 945.0,241.7 945.2,251.6 945.5,242.6 945.8,250.7 946.0,242.6 946.2,253.1 946.5,242.2 946.8,253.1 947.0,241.7 947.2,251.4 947.5,241.7 947.8,251.6 948.0,241.6 948.2,251.6 948.5,241.4 948.8,252.4 949.0,241.4 949.2,250.8 949.5,242.3 949.8,250.8 950.0,240.5 950.2,251.2 950.5,240.5 950.8,250.4 951.0,241.2 951.2,250.4 951.5,242.7 951.8,251.1 952.0,242.7 952.2,251.1 952.5,241.9 952.8,251.1 953.0,241.5 953.2,250.2 953.5,241.5 953.8,251.5 954.0,243.0 954.2,251.5 954.5,242.1 954.8,251.2 955.0,242.1 955.2,251.6 955.5,242.6 955.8,251.6 956.0,242.1 956.2,251.0 956.5,242.1 956.8,252.3 957.0,241.3 957.2,252.3 957.5,241.6 957.8,251.3 958.0,241.6 958.2,249.9 958.5,242.0 958.8,249.9 959.0,240.6 959.2,251.3 959.5,240.6 959.8,251.6 960.0,242.5 960.2,251.6 960.5,241.6 960.8,251.5 961.0,241.6 961.2,250.1 961.5,242.5 961.8,250.1 962.0,241.8 962.2,250.1 962.5,241.8 962.8,250.8 963.0,241.1 963.2,250.8 963.5,242.1 963.8,249.8 964.0,242.1 964.2,251.7 964.5,241.2 964.8,251.7 965.0,241.5 965.2,250.6 965.5,241.5 965.8,250.9 966.0,241.6 966.2,250.9 966.5,242.1 966.8,250.2 967.0,242.1 967.2,251.4 967.5,243.5 967.8,251.4 968.0,242.4 968.2,251.8 968.5,242.4 968.8,250.6 969.0,242.2 969.2,250.6 969.5,241.8 969.8,251.4 970.0,241.8 970.2,252.2 970.5,242.4 970.8,252.2 971.0,242.6 971.2,251.5 971.5,242.6 971.8,251.3 972.0,241.9 972.2,251.3 972.5,241.7 972.8,251.6 973.0,241.7 973.2,251.5 973.5,243.2 973.8,251.5 974.0,241.7 974.2,250.3 974.5,241.7 974.8,251.7 975.0,242.6 975.2,251.7 975.5,243.2 975.8,251.6 976.0,243.2 976.2,251.5 976.5,243.3 976.8,251.5 977.0,242.0 977.2,250.7 977.5,242.0 977.8,251.1 978.0,243.0 978.2,251.1 978.5,241.9 978.8,251.4 979.0,241.9 979.2,250.6 979.5,240.6 979.8,250.6 980.0,242.8 980.2,250.7 980.5,242.8 980.8,251.7 981.0,242.7 981.2,251.7 981.5,242.5 981.8,251.9 982.0,242.5 982.2,250.2 982.5,241.6 982.8,250.2 983.0,243.0 983.2,250.8 983.5,243.0 983.8,250.9 984.0,242.2 984.2,250.9 984.5,242.5 984.8,249.9 985.0,242.5 985.2,251.4 985.5,241.6 985.8,251.4 986.0,243.0 986.2,249.8 986.5,243.0 986.8,250.2 987.0,242.6 987.2,250.2 987.5,241.8 987.8,252.4 988.0,241.8 988.2,249.9 988.5,241.9 988.8,249.9 989.0,243.5 989.2,251.6 989.5,243.5 989.8,251.0 990.0,241.6 990.2,251.0 990.5,241.5 990.8,250.3 991.0,241.5 991.2,250.3 991.5,242.4 991.8,250.3 992.0,242.1 992.2,250.1 992.5,242.1 992.8,250.6 993.0,241.5 993.2,250.6 993.5,242.7 993.8,251.5 994.0,242.7 994.2,251.4 994.5,242.3 994.8,251.4 995.0,242.6 995.2,250.3 995.5,242.6 995.8,251.2 996.0,241.7 996.2,251.2 996.5,242.8 996.8,251.3 997.0,242.8 997.2,251.6 997.5,242.0 997.8,251.6 998.0,242.9 998.2,251.0 998.5,242.9 998.8,251.1 999.0,241.9 999.2,251.1 999.5,243.3 999.8,252.2 1000.0,243.3 1000.2,250.8 1000.5,243.1 1000.8,250.8 1001.0,241.5 1001.2,250.7 1001.5,241.5 1001.8,252.2 1002.0,243.3 1002.2,252.2 1002.5,242.6 1002.8,251.7 1003.0,242.6 1003.2,250.0 1003.5,242.2 1003.8,250.0 1004.0,242.9 1004.2,251.4 1004.5,242.9 1004.8,251.6 1005.0,242.7 1005.2,251.6 1005.5,242.2 1005.8,251.0 1006.0,242.2 1006.2,250.2 1006.5,242.1 1006.8,250.2 1007.0,243.0 1007.2,251.3 1007.5,243.0 1007.8,250.4 1008.0,242.0 1008.2,250.4 1008.5,242.6 1008.8,251.4 1009.0,242.6 1009.2,249.9 1009.5,242.5 1009.8,249.9 1010.0,242.2 1010.2,250.8 1010.5,242.2 1010.8,250.9 1011.0,242.9 1011.2,250.9 1011.5,241.9 1011.8,250.3 1012.0,241.9 1012.2,251.7 1012.5,242.0 1012.8,251.7 1013.0,242.9 1013.2,251.4 1013.5,242.9 1013.8,251.1 1014.0,241.7 1014.2,251.1 1014.5,241.5 1014.8,250.9 1015.0,241.5 1015.2,251.9 1015.5,241.9 1015.8,251.9 1016.0,241.9 1016.2,252.7 1016.5,241.9 1016.8,251.5 1017.0,243.3 1017.2,251.5 1017.5,241.8 1017.8,251.6 1018.0,241.8 1018.2,250.1 1018.5,241.4 1018.8,250.1 1019.0,242.3 1019.2,252.4 1019.5,242.3 1019.8,250.8 1020.0,242.6 1020.2,250.7 1020.5,242.0 1020.8,251.5 1021.0,242.0 1021.2,251.4 1021.5,242.4 1021.8,251.4 1022.0,241.1 1022.2,251.4 1022.5,241.1 1022.8,249.9 1023.0,242.9 1023.2,249.9 1023.5,242.8 1023.8,251.4 1024.0,242.8 1024.2,250.3 1024.5,242.2 1024.8,250.3 1025.0,241.5 1025.2,250.3 1025.5,241.5 1025.8,251.3 1026.0,242.7 1026.2,251.3 1026.5,242.9 1026.8,251.5 1027.0,242.9 1027.2,250.5 1027.5,242.8 1027.8,250.5 1028.0,242.4 1028.2,251.4 1028.5,242.4 1028.8,251.1 1029.0,243.1 1029.2,251.1 1029.5,242.6 1029.8,250.9 1030.0,242.6 1030.2,252.1 1030.5,242.9 1030.8,252.1 1031.0,241.4 1031.2,251.6 1031.5,241.4 1031.8,251.5 1032.0,241.9 1032.2,251.5 1032.5,240.9 1032.8,250.7 1033.0,240.9 1033.2,252.1 1033.5,242.5 1033.8,252.1 1034.0,242.1 1034.2,251.2 1034.5,242.1 1034.8,250.2 1035.0,242.2 1035.2,250.2 1035.5,243.3 1035.8,251.4 1036.0,243.3 1036.2,251.0 1036.5,242.6 1036.8,251.0 1037.0,242.3 1037.2,251.5 1037.5,242.3 1037.8,253.0 1038.0,242.2 1038.2,253.0 1038.5,242.4 1038.8,250.3 1039.0,242.4 1039.2,251.5 1039.5,242.7 1039.8,251.5 1040.0,241.6 1040.2,251.7 1040.5,241.6 1040.8,251.5 1041.0,241.2 1041.2,251.5 1041.5,241.9 1041.8,250.9 1042.0,241.9 1042.2,252.1 1042.5,243.4 1042.8,252.1 1043.0,243.0 1043.2,251.2 1043.5,243.0 1043.8,252.8 1044.0,242.5 1044.2,252.8 1044.5,241.5 1044.8,252.3 1045.0,241.5 1045.2,250.0 1045.5,242.9 1045.8,250.0 1046.0,241.8 1046.2,252.7 1046.5,241.8 1046.8,250.2 1047.0,241.6 1047.2,250.2 1047.5,243.2 1047.8,251.0 1048.0,243.2 1048.2,251.7 1048.5,241.3 1048.8,251.7 1049.0,241.7 1049.2,249.9 1049.5,241.7 1049.8,251.7 1050.0,242.1 1050.2,251.7 1050.5,242.2 1050.8,251.4 1051.0,242.2 1051.2,249.8 1051.5,242.8 1051.8,249.8 1052.0,242.2 1052.2,251.0 1052.5,242.2 1052.8,250.3 1053.0,242.0 1053.2,250.3 1053.5,241.7 1053.8,250.7 1054.0,241.7 1054.2,250.6 1054.5,242.7 1054.8,250.6 1055.0,241.1 1055.2,250.7 1055.5,241.1 1055.8,250.5 1056.0,240.8 1056.2,250.5 1056.5,242.8 1056.8,251.5 1057.0,242.8 1057.2,251.0 1057.5,243.1 1057.8,251.0 1058.0,241.0 1058.2,250.6 1058.5,241.0 1058.8,251.0 1059.0,242.3 1059.2,251.0 1059.5,243.1 1059.8,249.8 1060.0,243.1 1060.2,250.0 1060.5,242.1 1060.8,250.0 1061.0,242.1 1061.2,251.6 1061.5,242.1 1061.8,249.8 1062.0,242.8 1062.2,249.8 1062.5,242.7 1062.8,251.8 1063.0,242.7 1063.2,251.0 1063.5,242.4 1063.8,251.0 1064.0,242.0 1064.2,251.4 1064.5,242.0 1064.8,251.7 1065.0,243.1 1065.2,251.7 1065.5,240.6 1065.8,251.5 1066.0,240.6 1066.2,250.6 1066.5,242.1 1066.8,250.6 1067.0,242.3 1067.2,251.1 1067.5,242.3 1067.8,251.3 1068.0,241.4 1068.2,251.3 1068.5,241.9 1068.8,250.1 1069.0,241.9 1069.2,250.0 1069.5,242.0 1069.8,250.0 1070.0,241.5 1070.2,250.3 1070.5,241.5 1070.8,250.7 1071.0,243.2 1071.2,250.7 1071.5,240.9 1071.8,251.6 1072.0,240.9 1072.2,251.9 1072.5,241.6 1072.8,251.9 1073.0,243.2 1073.2,250.2 1073.5,243.2 1073.8,250.9 1074.0,243.1 1074.2,250.9 1074.5,241.4 1074.8,252.0 1075.0,241.4 1075.2,252.1 1075.5,242.1 1075.8,252.1 1076.0,241.5 1076.2,250.9 1076.5,241.5 1076.8,250.3 1077.0,241.9 1077.2,250.3 1077.5,240.2 1077.8,250.8 1078.0,240.2 1078.2,250.0 1078.5,240.6 1078.8,250.0 1079.0,241.6 1079.2,251.3 1079.5,241.6 1079.8,250.3 1080.0,242.4 1080.2,250.3 1080.5,243.2 1080.8,250.4 1081.0,243.2 1081.2,250.7 1081.5,243.3 1081.8,250.7 1082.0,242.7 1082.2,251.0 1082.5,242.7 1082.8,251.4 1083.0,243.1 1083.2,251.4 1083.5,242.0 1083.8,251.3 1084.0,242.0 1084.2,252.3 1084.5,241.6 1084.8,252.3 1085.0,241.6 1085.2,251.1 1085.5,241.6 1085.8,251.4 1086.0,242.4 1086.2,251.4 1086.5,241.8 1086.8,250.3 1087.0,241.8 1087.2,250.3 1087.5,241.6 1087.8,250.3 1088.0,243.2 1088.2,251.7 1088.5,243.2 1088.8,251.4 1089.0,242.5 1089.2,251.4 1089.5,242.4 1089.8,250.9 1090.0,242.4 1090.2,249.7 1090.5,241.6 1090.8,249.7 1091.0,242.7 1091.2,252.9 1091.5,242.7 1091.8,251.7 1092.0,242.0 1092.2,251.7 1092.5,242.4 1092.8,249.8 1093.0,242.4 1093.2,250.6 1093.5,241.4 1093.8,250.6 1094.0,241.5 1094.2,252.7 1094.5,241.5 1094.8,250.3 1095.0,242.6 1095.2,250.3 1095.5,240.5 1095.8,250.8 1096.0,240.5 1096.2,250.0 1096.5,242.8 1096.8,250.0 1097.0,241.6 1097.2,250.1 1097.5,241.6 1097.8,249.9 1098.0,243.0 1098.2,249.9 1098.5,242.4 1098.8,250.3 1099.0,242.4 1099.2,251.1 1099.5,242.5 1099.8,251.1 1100.0,241.4 1100.2,250.5 1100.5,241.4 1100.8,250.4 1101.0,242.5 1101.2,250.4 1101.5,241.2 1101.8,252.0 1102.0,241.2 1102.2,250.2 1102.5,242.8 1102.8,250.2 1103.0,242.3 1103.2,251.6 1103.5,242.3 1103.8,251.9 1104.0,241.9 1104.2,251.9 1104.5,241.6 1104.8,251.6 1105.0,241.6 1105.2,249.9 1105.5,241.5 1105.8,249.9 1106.0,242.5 1106.2,249.7 1106.5,242.5 1106.8,250.8 1107.0,243.3 1107.2,250.8 1107.5,241.9 1107.8,251.7 1108.0,241.9 1108.2,249.7 1108.5,241.1 1108.8,249.7 1109.0,241.9 1109.2,251.5 1109.5,241.9 1109.8,250.8 1110.0,241.5 1110.2,250.8 1110.5,241.7 1110.8,251.7 1111.0,241.7 1111.2,250.8 1111.5,241.6 1111.8,250.8 1112.0,242.1 1112.2,250.8 1112.5,242.1 1112.8,250.3 1113.0,241.5 1113.2,250.3 1113.5,241.7 1113.8,250.5 1114.0,241.7 1114.2,249.9 1114.5,241.6 1114.8,249.9 1115.0,241.5 1115.2,252.0 1115.5,241.5 1115.8,250.7 1116.0,240.5 1116.2,250.7 1116.5,243.4 1116.8,251.7 1117.0,243.4 1117.2,250.7 1117.5,241.8 1117.8,250.7 1118.0,240.6 1118.2,250.1 1118.5,240.6 1118.8,249.8 1119.0,241.2 1119.2,249.8 1119.5,243.2 1119.8,251.5 1120.0,243.2 1120.2,250.7 1120.5,240.9 1120.8,250.7 1121.0,242.8 1121.2,252.2 1121.5,242.8 1121.8,251.1 1122.0,242.4 1122.2,251.1 1122.5,242.6 1122.8,249.8 1123.0,242.6 1123.2,250.8 1123.5,241.4 1123.8,250.8 1124.0,242.6 1124.2,251.8 1124.5,242.6 1124.8,250.3 1125.0,242.4 1125.2,250.3 1125.5,242.9 1125.8,251.4 1126.0,242.9 1126.2,251.8 1126.5,240.8 1126.8,251.8 1127.0,242.5 1127.2,249.7 1127.5,242.5 1127.8,251.6 1128.0,243.3 1128.2,251.6 1128.5,241.5 1128.8,250.5 1129.0,241.5 1129.2,251.6 1129.5,242.9 1129.8,251.6 1130.0,243.3 1130.2,251.8 1130.5,243.3 1130.8,250.0 1131.0,242.0 1131.2,250.0 1131.5,241.4 1131.8,250.7 1132.0,241.4 1132.2,249.9 1132.5,242.4 1132.8,249.9 1133.0,241.3 1133.2,250.0 1133.5,241.3 1133.8,249.7 1134.0,240.1 1134.2,249.7 1134.5,242.4 1134.8,251.6 1135.0,242.4 1135.2,251.4 1135.5,242.7 1135.8,251.4 1136.0,242.3 1136.2,251.1 1136.5,242.3 1136.8,251.9 1137.0,242.9 1137.2,251.9 1137.5,242.4 1137.8,251.4 1138.0,242.4 1138.2,249.9 1138.5,241.5 1138.8,249.9 1139.0,241.5 1139.2,252.5 1139.5,241.5 1139.8,250.2 1140.0,242.1 1140.2,250.2 1140.5,242.0 1140.8,251.0 1141.0,242.0 1141.2,250.8 1141.5,243.4 1141.8,250.8 1142.0,242.6 1142.2,251.2 1142.5,242.6 1142.8,250.6 1143.0,242.8 1143.2,250.6 1143.5,242.4 1143.8,250.6 1144.0,242.4 1144.2,250.6 1144.5,241.9 1144.8,250.6 1145.0,241.4 1145.2,250.5 1145.5,241.4 1145.8,251.4 1146.0,242.6 1146.2,251.4 1146.5,241.7 1146.8,251.2 1147.0,241.7 1147.2,249.9 1147.5,242.2 1147.8,249.9 1148.0,241.9 1148.2,251.4 1148.5,241.9 1148.8,250.4 1149.0,241.8 1149.2,250.4 1149.5,242.0 1149.8,250.9 1150.0,242.0 1150.2,251.3 1150.5,241.7 1150.8,251.3 1151.0,242.6 1151.2,249.9 1151.5,242.6 1151.8,251.6 1152.0,242.6 1152.2,251.6 1152.5,242.5 1152.8,250.5 1153.0,242.5 1153.2,250.2 1153.5,241.6 1153.8,250.2 1154.0,242.3 1154.2,250.1 1154.5,242.3 1154.8,250.0 1155.0,241.3 1155.2,250.0 1155.5,241.5 1155.8,249.9 1156.0,241.5 1156.2,251.3 1156.5,242.6 1156.8,251.3 1157.0,241.5 1157.2,252.0 1157.5,241.5 1157.8,251.1 1158.0,241.5 1158.2,251.1 1158.5,243.2 1158.8,250.9 1159.0,243.2 1159.2,251.2 1159.5,241.9 1159.8,251.2 1160.0,242.8 1160.2,251.3 1160.5,242.8 1160.8,251.3 1161.0,240.9 1161.2,251.3 1161.5,242.1 1161.8,252.0 1162.0,242.1 1162.2,251.0 1162.5,241.6 1162.8,251.0 1163.0,241.5 1163.2,250.3 1163.5,241.5 1163.8,249.8 1164.0,242.2 1164.2,249.8 1164.5,243.1 1164.8,250.9 1165.0,243.1 1165.2,250.9 1165.5,243.2 1165.8,250.9 1166.0,241.5 1166.2,251.7 1166.5,241.5 1166.8,250.4 1167.0,242.6 1167.2,250.4 1167.5,242.9 1167.8,250.7 1168.0,242.9 1168.2,251.5 1168.5,242.0 1168.8,251.5 1169.0,242.7 1169.2,250.7 1169.5,242.7 1169.8,249.7 1170.0,242.5 1170.2,249.7 1170.5,242.3 1170.8,250.6 1171.0,242.3 1171.2,250.0 1171.5,241.6 1171.8,250.0 1172.0,242.9 1172.2,250.6 1172.5,242.9 1172.8,252.0 1173.0,243.1 1173.2,252.0 1173.5,242.2 1173.8,250.7 1174.0,242.2 1174.2,251.4 1174.5,242.7 1174.8,251.4 1175.0,241.8 1175.2,250.5 1175.5,241.8 1175.8,249.7 1176.0,241.4 1176.2,249.7 1176.5,242.8 1176.8,252.7 1177.0,242.8 1177.2,251.4 1177.5,242.8 1177.8,251.4 1178.0,241.9 1178.2,251.3 1178.5,241.9 1178.8,251.7 1179.0,241.1 1179.2,251.7 1179.5,240.6 1179.8,251.7 1180.0,240.6 1180.2,249.8 1180.5,242.5 1180.8,249.8 1181.0,241.8 1181.2,250.4 1181.5,241.8 1181.8,250.9 1182.0,242.7 1182.2,250.9 1182.5,242.1 1182.8,251.0 1183.0,242.1 1183.2,250.5 1183.5,241.6 1183.8,250.5 1184.0,242.8 1184.2,249.7 1184.5,242.8 1184.8,252.2 1185.0,243.0 1185.2,252.2 1185.5,241.2 1185.8,251.4 1186.0,241.2 1186.2,250.7 1186.5,241.5 1186.8,250.7 1187.0,241.4 1187.2,251.3 1187.5,241.4 1187.8,251.1 1188.0,242.9 1188.2,251.1 1188.5,241.5 1188.8,251.3 1189.0,241.5 1189.2,250.8 1189.5,241.2 1189.8,250.8 1190.0,242.7 1190.2,250.8 1190.5,242.7 1190.8,250.2 1191.0,241.6 1191.2,250.2 1191.5,242.2 1191.8,251.0 1192.0,242.2 1192.2,249.8 1192.5,242.8 1192.8,249.8 1193.0,242.4 1193.2,251.4 1193.5,242.4 1193.8,249.8 1194.0,243.1 1194.2,249.8 1194.5,241.6 1194.8,250.7 1195.0,241.6 1195.2,249.9 1195.5,242.6 1195.8,249.9 1196.0,242.6 1196.2,250.1 1196.5,242.6 1196.8,249.8 1197.0,241.6 1197.2,249.8 1197.5,243.0 1197.8,251.2 1198.0,243.0 1198.2,251.3 1198.5,242.0 1198.8,251.3 1199.0,241.5 1199.2,250.5 1199.5,241.5 1199.8,250.1 1200.0,241.9 1200.2,250.1 1200.5,240.9 1200.8,250.3 1201.0,240.9 1201.2,252.1 1201.5,242.9 1201.8,252.1 1202.0,242.3 1202.2,250.4 1202.5,242.3 1202.8,250.7 1203.0,241.8 1203.2,250.7 1203.5,242.6 1203.8,252.2 1204.0,242.6 1204.2,251.6 1204.5,241.5 1204.8,251.6 1205.0,242.0 1205.2,250.9 1205.5,242.0 1205.8,250.9 1206.0,241.9 1206.2,250.9 1206.5,241.5 1206.8,251.1 1207.0,241.5 1207.2,250.0 1207.5,241.2 1207.8,250.0 1208.0,241.5 1208.2,252.5 1208.5,241.5 1208.8,251.5 1209.0,241.5 1209.2,251.5 1209.5,241.7 1209.8,249.9 1210.0,241.7 1210.2,250.6 1210.5,242.5 1210.8,250.6 1211.0,243.0 1211.2,250.4 1211.5,243.0 1211.8,250.5 1212.0,241.8 1212.2,250.5 1212.5,242.2 1212.8,251.5 1213.0,242.2 1213.2,251.9 1213.5,241.5 1213.8,251.9 1214.0,243.1 1214.2,251.6 1214.5,243.1 1214.8,251.5 1215.0,242.6 1215.2,251.5 1215.5,242.6 1215.8,251.7 1216.0,242.6 1216.2,250.9 1216.5,243.1 1216.8,250.9 1217.0,242.1 1217.2,251.9 1217.5,242.1 1217.8,251.2 1218.0,242.3 1218.2,251.2 1218.5,241.8 1218.8,250.8 1219.0,241.8 1219.2,251.3 1219.5,241.4 1219.8,251.3 1220.0,241.6 1220.2,251.5 1220.5,241.6 1220.8,250.9 1221.0,242.2 1221.2,250.9 1221.5,241.3 1221.8,250.7 1222.0,241.3 1222.2,251.8 1222.5,242.7 1222.8,251.8 1223.0,241.7 1223.2,251.0 1223.5,241.7 1223.8,251.5 1224.0,242.5 1224.2,251.5 1224.5,241.3 1224.8,250.9 1225.0,241.3 1225.2,250.8 1225.5,242.3 1225.8,250.8 1226.0,242.1 1226.2,251.3 1226.5,242.1 1226.8,251.0 1227.0,242.4 1227.2,251.0 1227.5,242.0 1227.8,250.3 1228.0,242.0 1228.2,251.4 1228.5,241.3 1228.8,251.4 1229.0,242.5 1229.2,249.8 1229.5,242.5 1229.8,250.3 1230.0,242.5 1230.2,250.3 1230.5,240.9 1230.8,250.3 1231.0,240.9 1231.2,252.1 1231.5,243.1 1231.8,252.1 1232.0,241.7 1232.2,250.5 1232.5,241.7 1232.8,250.9 1233.0,243.2 1233.2,250.9 1233.5,242.0 1233.8,251.1 1234.0,242.0 1234.2,251.5 1234.5,242.4 1234.8,251.5 1235.0,241.6 1235.2,251.6 1235.5,241.6 1235.8,250.7 1236.0,242.3 1236.2,250.7 1236.5,242.3 1236.8,251.8 1237.0,242.3 1237.2,250.4 1237.5,242.2 1237.8,250.4 1238.0,242.3 1238.2,250.9 1238.5,242.3 1238.8,250.7 1239.0,243.3 1239.2,250.7 1239.5,242.0 1239.8,252.4 1240.0,242.0 1240.2,251.1 1240.5,242.5 1240.8,251.1 1241.0,243.3 1241.2,251.1 1241.5,243.3 1241.8,250.9 1242.0,241.9 1242.2,250.9 1242.5,243.1 1242.8,251.7 1243.0,243.1 1243.2,250.6 1243.5,241.8 1243.8,250.6 1244.0,242.4 1244.2,251.6 1244.5,242.4 1244.8,250.5 1245.0,242.5 1245.2,250.5 1245.5,242.9 1245.8,250.4 1246.0,242.9 1246.2,251.0 1246.5,243.2 1246.8,251.0 1247.0,242.7 1247.2,250.3 1247.5,242.7 1247.8,251.8 1248.0,242.0 1248.2,251.8 1248.5,242.4 1248.8,250.1 1249.0,242.4 1249.2,251.5 1249.5,243.1 1249.8,251.5 1250.0,241.6 1250.2,251.6 1250.5,241.6 1250.8,251.4 1251.0,241.4 1251.2,251.4 1251.5,242.0 1251.8,250.0 1252.0,242.0 1252.2,250.9 1252.5,242.4 1252.8,250.9 1253.0,242.7 1253.2,249.9 1253.5,242.7 1253.8,251.3 1254.0,240.7 1254.2,251.3 1254.5,241.8 1254.8,249.7 1255.0,241.8 1255.2,251.9 1255.5,243.1 1255.8,251.9 1256.0,242.1 1256.2,251.2 1256.5,242.1 1256.8,250.7 1257.0,243.1 1257.2,250.7 1257.5,240.4 1257.8,252.4 1258.0,240.4 1258.2,249.8 1258.5,242.4 1258.8,249.8 1259.0,242.4 1259.2,250.3 1259.5,242.4 1259.8,250.3 1260.0,242.9 1260.2,250.3 1260.5,242.5 1260.8,251.9 1261.0,242.5 1261.2,251.1 1261.5,241.9 1261.8,251.1 1262.0,241.7 1262.2,250.4 1262.5,241.7 1262.8,251.9 1263.0,242.5 1263.2,251.9 1263.5,241.5 1263.8,251.1 1264.0,241.5 1264.2,252.1 1264.5,241.5 1264.8,252.1 1265.0,242.3 1265.2,250.9 1265.5,242.3 1265.8,250.5 1266.0,241.3 1266.2,250.5 1266.5,241.9 1266.8,250.3 1267.0,241.9 1267.2,251.2 1267.5,240.8 1267.8,251.2 1268.0,242.4 1268.2,250.7 1268.5,242.4 1268.8,250.0 1269.0,242.1 1269.2,250.0 1269.5,241.1 1269.8,251.6 1270.0,241.1 1270.2,250.8 1270.5,242.9 1270.8,250.8 1271.0,242.6 1271.2,250.3 1271.5,242.6 1271.8,250.6 1272.0,241.9 1272.2,250.6 1272.5,242.7 1272.8,250.6 1273.0,242.7 1273.2,250.4 1273.5,242.2 1273.8,250.4 1274.0,242.8 1274.2,252.0 1274.5,242.8 1274.8,250.7 1275.0,243.2 1275.2,250.7 1275.5,242.5 1275.8,251.4 1276.0,242.5 1276.2,251.5 1276.5,242.0 1276.8,251.5 1277.0,241.7 1277.2,251.4 1277.5,241.7 1277.8,251.6 1278.0,242.3 1278.2,251.6 1278.5,241.7 1278.8,251.6 1279.0,241.7 1279.2,249.8 1279.5,242.9 1279.8,249.8 1280.0,242.5 1280.2,250.9 1280.5,242.5 1280.8,251.0 1281.0,241.6 1281.2,251.0 1281.5,243.2 1281.8,249.8 1282.0,243.2 1282.2,249.8 1282.5,242.4 1282.8,249.8 1283.0,241.5 1283.2,252.2 1283.5,241.5 1283.8,250.0 1284.0,242.0 1284.2,250.0 1284.5,242.6 1284.8,251.6 1285.0,242.6 1285.2,250.4 1285.5,242.0 1285.8,250.4 1286.0,242.9 1286.2,250.0 1286.5,242.9 1286.8,250.1 1287.0,241.2 1287.2,250.1 1287.5,241.5 1287.8,249.8 1288.0,241.5 1288.2,251.8 1288.5,241.8 1288.8,251.8 1289.0,242.9 1289.2,250.8 1289.5,242.9 1289.8,250.8 1290.0,241.7 1290.2,250.8 1290.5,242.2 1290.8,250.5 1291.0,242.2 1291.2,251.8 1291.5,243.0 1291.8,251.8 1292.0,241.3 1292.2,250.3 1292.5,241.3 1292.8,250.3 1293.0,242.7 1293.2,250.3 1293.5,242.2 1293.8,250.9 1294.0,242.2 1294.2,251.0 1294.5,242.1 1294.8,251.0 1295.0,241.3 1295.2,251.5 1295.5,241.3 1295.8,249.9 1296.0,241.2 1296.2,249.9 1296.5,240.5 1296.8,251.9 1297.0,240.5 1297.2,250.4 1297.5,241.1 1297.8,250.4 1298.0,241.4 1298.2,251.4 1298.5,241.4 1298.8,250.8 1299.0,241.9 1299.2,250.8 1299.5,241.1 1299.8,251.3 1300.0,241.1 1300.2,250.4 1300.5,240.8 1300.8,250.4 1301.0,241.6 1301.2,251.0 1301.5,241.6 1301.8,251.1 1302.0,241.7 1302.2,251.1 1302.5,242.8 1302.8,252.0 1303.0,242.8 1303.2,250.4 1303.5,243.1 1303.8,250.4 1304.0,241.7 1304.2,250.2 1304.5,241.7 1304.8,250.9 1305.0,242.0 1305.2,250.9 1305.5,243.1 1305.8,251.4 1306.0,243.1 1306.2,252.5 1306.5,241.6 1306.8,252.5 1307.0,242.1 1307.2,251.5 1307.5,242.1 1307.8,251.6 1308.0,241.5 1308.2,251.6 1308.5,241.6 1308.8,250.1 1309.0,241.6 1309.2,250.3 1309.5,243.3 1309.8,250.3 1310.0,242.8 1310.2,251.2 1310.5,242.8 1310.8,251.6 1311.0,241.6 1311.2,251.6 1311.5,242.8 1311.8,249.7 1312.0,242.8 1312.2,251.3 1312.5,241.0 1312.8,251.3 1313.0,241.2 1313.2,250.6 1313.5,241.2 1313.8,252.2 1314.0,242.1 1314.2,252.2 1314.5,240.7 1314.8,252.0 1315.0,240.7 1315.2,251.1 1315.5,242.7 1315.8,251.1 1316.0,243.2 1316.2,250.9 1316.5,243.2 1316.8,251.5 1317.0,241.4 1317.2,251.5 1317.5,243.0 1317.8,250.5 1318.0,243.0 1318.2,251.3 1318.5,242.7 1318.8,251.3 1319.0,241.0 1319.2,251.9 1319.5,241.0 1319.8,252.0 1320.0,243.0 1320.2,252.0 1320.5,243.0 1320.8,249.9 1321.0,243.0 1321.2,250.7 1321.5,241.1 1321.8,250.7 1322.0,242.1 1322.2,251.4 1322.5,242.1 1322.8,251.7 1323.0,241.8 1323.2,251.7 1323.5,241.1 1323.8,250.6 1324.0,241.1 1324.2,249.7 1324.5,242.9 1324.8,249.7 1325.0,241.9 1325.2,250.7 1325.5,241.9 1325.8,251.4 1326.0,242.5 1326.2,251.4 1326.5,242.1 1326.8,251.4 1327.0,242.1 1327.2,250.0 1327.5,241.8 1327.8,250.0 1328.0,240.3 1328.2,251.3 1328.5,240.3 1328.8,251.8 1329.0,242.4 1329.2,251.8 1329.5,242.4 1329.8,251.4 1330.0,242.4 1330.2,252.1 1330.5,242.2 1330.8,252.1 1331.0,242.5 1331.2,250.4 1331.5,242.5 1331.8,250.0 1332.0,241.1 1332.2,250.0 1332.5,243.3 1332.8,251.2 1333.0,243.3 1333.2,249.8 1333.5,242.7 1333.8,249.8 1334.0,242.0 1334.2,250.3 1334.5,242.0 1334.8,251.0 1335.0,243.0 1335.2,251.0 1335.5,241.7 1335.8,250.1 1336.0,241.7 1336.2,252.4 1336.5,241.5 1336.8,252.4 1337.0,242.6 1337.2,251.5 1337.5,242.6 1337.8,250.1 1338.0,243.2 1338.2,250.1 1338.5,241.1 1338.8,251.5 1339.0,241.1 1339.2,250.4 1339.5,241.6 1339.8,250.4 1340.0,243.2 1340.2,250.1 1340.5,243.2 1340.8,251.5 1341.0,242.4 1341.2,251.5 1341.5,241.2 1341.8,250.8 1342.0,241.2 1342.2,250.3 1342.5,240.8 1342.8,250.3 1343.0,243.0 1343.2,251.0 1343.5,243.0 1343.8,250.0 1344.0,240.9 1344.2,250.0 1344.5,242.7 1344.8,252.7 1345.0,242.7 1345.2,251.2 1345.5,241.9 1345.8,251.2 1346.0,241.3 1346.2,250.6 1346.5,241.3 1346.8,250.5 1347.0,242.5 1347.2,250.5 1347.5,241.2 1347.8,251.9 1348.0,241.2 1348.2,250.9 1348.5,241.8 1348.8,250.9 1349.0,241.3 1349.2,251.2 1349.5,241.3 1349.8,250.4 1350.0,242.0 1350.2,250.4 1350.5,241.2 1350.8,249.8 1351.0,241.2 1351.2,249.7 1351.5,243.2 1351.8,249.7 1352.0,242.1 1352.2,250.1 1352.5,242.1 1352.8,249.7 1353.0,242.6 1353.2,249.7 1353.5,241.5 1353.8,252.3 1354.0,241.5 1354.2,250.4 1354.5,240.8 1354.8,250.4 1355.0,242.2 1355.2,250.0 1355.5,242.2 1355.8,251.6 1356.0,240.8 1356.2,251.6 1356.5,243.1 1356.8,251.7 1357.0,243.1 1357.2,250.8 1357.5,241.5 1357.8,250.8 1358.0,241.9 1358.2,249.6 1358.5,241.9 1358.8,251.8 1359.0,242.7 1359.2,251.8 1359.5,241.7 1359.8,251.5 1360.0,241.7 1360.2,251.3 1360.5,241.4 1360.8,251.3 1361.0,242.9 1361.2,250.2 1361.5,242.9 1361.8,250.8 1362.0,241.7 1362.2,250.8 1362.5,242.2 1362.8,251.4 1363.0,242.2 1363.2,251.2 1363.5,242.9 1363.8,251.2 1364.0,241.3 1364.2,251.9 1364.5,241.3 1364.8,251.4 1365.0,241.6 1365.2,251.4 1365.5,241.4 1365.8,250.8 1366.0,241.4 1366.2,250.5 1366.5,243.0 1366.8,250.5 1367.0,241.7 1367.2,250.7 1367.5,241.7 1367.8,250.5 1368.0,242.0 1368.2,250.5 1368.5,242.4 1368.8,251.6 1369.0,242.4 1369.2,249.7 1369.5,242.2 1369.8,249.7 1370.0,242.5 1370.2,250.6 1370.5,242.5 1370.8,250.3 1371.0,241.7 1371.2,250.3 1371.5,242.0 1371.8,251.3 1372.0,242.0 1372.2,251.2 1372.5,242.0 1372.8,251.2 1373.0,240.9 1373.2,251.3 1373.5,240.9 1373.8,250.9 1374.0,241.3 1374.2,250.9 1374.5,242.5 1374.8,250.2 1375.0,242.5 1375.2,251.0 1375.5,242.8 1375.8,251.0 1376.0,242.6 1376.2,252.4 1376.5,242.6 1376.8,252.6 1377.0,240.6 1377.2,252.6 1377.5,242.6 1377.8,250.1 1378.0,242.6 1378.2,251.3 1378.5,243.2 1378.8,251.3 1379.0,241.5 1379.2,251.6 1379.5,241.5 1379.8,251.2 1380.0,243.2 1380.2,251.2 1380.5,242.0 1380.8,252.9 1381.0,242.0 1381.2,251.3 1381.5,241.2 1381.8,251.3 1382.0,242.6 1382.2,250.9 1382.5,242.6 1382.8,250.8 1383.0,241.5 1383.2,250.8 1383.5,241.5 1383.8,250.0 1384.0,241.5 1384.2,249.7 1384.5,243.0 1384.8,249.7 1385.0,242.1 1385.2,249.6 1385.5,242.1 1385.8,249.7 1386.0,241.6 1386.2,249.7 1386.5,242.2 1386.8,250.5 1387.0,242.2 1387.2,251.4 1387.5,241.3 1387.8,251.4 1388.0,242.1 1388.2,249.8 1388.5,242.1 1388.8,250.3 1389.0,243.3 1389.2,250.3 1389.5,243.2 1389.8,252.1 1390.0,243.2 1390.2,251.1 1390.5,242.6 1390.8,251.1 1391.0,243.1 1391.2,252.3 1391.5,243.1 1391.8,250.7 1392.0,242.8 1392.2,250.7 1392.5,242.1 1392.8,251.3 1393.0,242.1 1393.2,251.5 1393.5,242.7 1393.8,251.5 1394.0,242.6 1394.2,250.4 1394.5,242.6 1394.8,250.2 1395.0,242.1 1395.2,250.2 1395.5,243.1 1395.8,250.9 1396.0,243.1 1396.2,250.5 1396.5,242.5 1396.8,250.5 1397.0,241.8 1397.2,250.2 1397.5,241.8 1397.8,251.6 1398.0,241.9 1398.2,251.6 1398.5,241.0 1398.8,251.2 1399.0,241.0 1399.2,251.0 1399.5,240.7 1399.8,251.0 1400.0,241.1 1400.2,250.8 1400.5,241.1 1400.8,250.6 1401.0,241.7 1401.2,250.6 1401.5,241.5 1401.8,251.6 1402.0,241.5 1402.2,250.9 1402.5,242.0 1402.8,250.9 1403.0,241.5 1403.2,250.9 1403.5,241.5 1403.8,251.3 1404.0,243.3 1404.2,251.3 1404.5,240.8 1404.8,250.1 1405.0,240.8 1405.2,250.8 1405.5,241.4 1405.8,250.8 1406.0,242.9 1406.2,251.4 1406.5,242.9 1406.8,250.9 1407.0,242.1 1407.2,250.9 1407.5,242.9 1407.8,251.5 1408.0,242.9 1408.2,249.9 1408.5,241.8 1408.8,249.9 1409.0,241.1 1409.2,251.2 1409.5,241.1 1409.8,251.5 1410.0,241.6 1410.2,251.5 1410.5,241.4 1410.8,251.5 1411.0,241.4 1411.2,252.3 1411.5,242.3 1411.8,252.3 1412.0,242.4 1412.2,250.8 1412.5,242.4 1412.8,249.6 1413.0,243.0 1413.2,249.6 1413.5,241.5 1413.8,251.4 1414.0,241.5 1414.2,251.0 1414.5,242.8 1414.8,251.0 1415.0,241.9 1415.2,252.6 1415.5,241.9 1415.8,251.3 1416.0,241.6 1416.2,251.3 1416.5,243.0 1416.8,251.3 1417.0,243.0 1417.2,251.6 1417.5,241.9 1417.8,251.6 1418.0,242.6 1418.2,252.2 1418.5,242.6 1418.8,251.7 1419.0,242.8 1419.2,251.7 1419.5,243.1 1419.8,250.0 1420.0,243.1 1420.2,250.8 1420.5,242.3 1420.8,250.8 1421.0,242.6 1421.2,251.2 1421.5,242.6 1421.8,249.9 1422.0,242.6 1422.2,249.9 1422.5,243.1 1422.8,251.6 1423.0,243.1 1423.2,251.7 1423.5,242.9 1423.8,251.7 1424.0,243.2 1424.2,250.9 1424.5,243.2 1424.8,250.9 1425.0,240.6 1425.2,250.9 1425.5,241.3 1425.8,251.5 1426.0,241.3 1426.2,250.9 1426.5,242.8 1426.8,250.9 1427.0,242.1 1427.2,251.4 1427.5,242.1 1427.8,249.7 1428.0,242.9 1428.2,249.7 1428.5,241.8 1428.8,251.9 1429.0,241.8 1429.2,251.5 1429.5,241.9 1429.8,251.5 1430.0,243.1 1430.2,251.0 1430.5,243.1 1430.8,251.7 1431.0,242.1 1431.2,251.7 1431.5,241.3 1431.8,251.1 1432.0,241.3 1432.2,249.6 1432.5,241.4 1432.8,249.6 1433.0,243.1 1433.2,251.5 1433.5,243.1 1433.8,250.2 1434.0,241.9 1434.2,250.2 1434.5,242.9 1434.8,250.6 1435.0,242.9 1435.2,250.4 1435.5,241.3 1435.8,250.4 1436.0,242.4 1436.2,250.5 1436.5,242.4 1436.8,252.4 1437.0,241.6 1437.2,252.4 1437.5,242.7 1437.8,251.6 1438.0,242.7 1438.2,251.2 1438.5,242.2 1438.8,251.2 1439.0,242.5 1439.2,250.7 1439.5,242.5 1439.8,250.2 1440.0,243.2 1440.2,250.2 1440.5,242.0 1440.8,252.5 1441.0,242.0 1441.2,250.3 1441.5,241.4 1441.8,250.3 1442.0,243.2 1442.2,250.9 1442.5,243.2 1442.8,252.0 1443.0,241.6 1443.2,252.0 1443.5,243.2 1443.8,249.8 1444.0,243.2 1444.2,250.1 1444.5,241.4 1444.8,250.1 1445.0,242.1 1445.2,251.1 1445.5,242.1 1445.8,250.3 1446.0,243.0 1446.2,250.3 1446.5,241.8 1446.8,250.9 1447.0,241.8 1447.2,249.8 1447.5,241.9 1447.8,249.8 1448.0,241.4 1448.2,251.2 1448.5,241.4 1448.8,250.2 1449.0,241.3 1449.2,250.2 1449.5,241.9 1449.8,251.0 1450.0,241.9 1450.2,252.3 1450.5,242.6 1450.8,252.3 1451.0,241.2 1451.2,252.0 1451.5,241.2 1451.8,251.4 1452.0,241.6 1452.2,251.4 1452.5,241.2 1452.8,251.4 1453.0,241.2 1453.2,251.1 1453.5,241.3 1453.8,251.1 1454.0,242.9 1454.2,250.4 1454.5,242.9 1454.8,251.7 1455.0,242.6 1455.2,251.7 1455.5,241.4 1455.8,252.2 1456.0,241.4 1456.2,251.4 1456.5,241.4 1456.8,251.4 1457.0,240.0 1457.2,249.8 1457.5,240.0 1457.8,251.0 1458.0,241.5 1458.2,251.0 1458.5,241.4 1458.8,250.9 1459.0,241.4 1459.2,250.3 1459.5,243.3 1459.8,250.3 1460.0,241.0 1460.2,249.9 1460.5,241.0 1460.8,251.1 1461.0,241.8 1461.2,251.1 1461.5,241.0 1461.8,250.4 1462.0,241.0 1462.2,250.7 1462.5,241.4 1462.8,250.7 1463.0,242.4 1463.2,250.8 1463.5,242.4 1463.8,250.8 1464.0,242.4 1464.2,250.8 1464.5,243.3 1464.8,251.4 1465.0,243.3 1465.2,250.2 1465.5,243.2 1465.8,250.2 1466.0,242.4 1466.2,251.3 1466.5,242.4 1466.8,252.4 1467.0,242.6 1467.2,252.4 1467.5,242.2 1467.8,250.4 1468.0,242.2 1468.2,251.5 1468.5,241.7 1468.8,251.5 1469.0,242.5 1469.2,251.7 1469.5,242.5 1469.8,250.7 1470.0,240.7 1470.2,250.7 1470.5,241.4 1470.8,251.5 1471.0,241.4 1471.2,250.3 1471.5,241.5 1471.8,250.3 1472.0,242.1 1472.2,249.6 1472.5,242.1 1472.8,251.3 1473.0,241.6 1473.2,251.3 1473.5,240.4 1473.8,250.2 1474.0,240.4 1474.2,251.2 1474.5,241.8 1474.8,251.2 1475.0,242.6 1475.2,250.0 1475.5,242.6 1475.8,251.8 1476.0,243.3 1476.2,251.8 1476.5,242.6 1476.8,250.2 1477.0,242.6 1477.2,251.9 1477.5,241.6 1477.8,251.9 1478.0,242.0 1478.2,250.1 1478.5,242.0 1478.8,249.6 1479.0,240.8 1479.2,249.6 1479.5,241.6 1479.8,250.1 1480.0,241.6 1480.2,250.8 1480.5,242.4 1480.8,250.8 1481.0,242.7 1481.2,249.7 1481.5,242.7 1481.8,252.4 1482.0,242.4 1482.2,252.4 1482.5,241.9 1482.8,250.1 1483.0,241.9 1483.2,249.9 1483.5,241.5 1483.8,249.9 1484.0,242.4 1484.2,250.8 1484.5,242.4 1484.8,250.9 1485.0,243.0 1485.2,250.9 1485.5,242.2 1485.8,250.7 1486.0,242.2 1486.2,249.7 1486.5,241.1 1486.8,249.7 1487.0,240.8 1487.2,253.0 1487.5,240.8 1487.8,250.1 1488.0,242.0 1488.2,250.1 1488.5,242.8 1488.8,249.9 1489.0,242.8 1489.2,251.3 1489.5,241.8 1489.8,251.3 1490.0,241.9 1490.2,250.8 1490.5,241.9 1490.8,249.7 1491.0,241.5 1491.2,249.7 1491.5,241.9 1491.8,249.8 1492.0,241.9 1492.2,250.7 1492.5,242.0 1492.8,250.7 1493.0,241.1 1493.2,249.9 1493.5,241.1 1493.8,251.0 1494.0,241.9 1494.2,251.0 1494.5,241.4 1494.8,251.4 1495.0,241.4 1495.2,250.1 1495.5,241.3 1495.8,250.1 1496.0,242.6 1496.2,250.5 1496.5,242.6 1496.8,251.9 1497.0,241.8 1497.2,251.9 1497.5,243.3 1497.8,250.2 1498.0,243.3 1498.2,252.4 1498.5,242.2 1498.8,252.4 1499.0,243.0 1499.2,251.3 1499.5,243.0 1499.8,249.7 1500.0,243.0 1500.2,249.7 1500.5,241.9 1500.8,250.1 1501.0,241.9 1501.2,250.6 1501.5,242.6 1501.8,250.6 1502.0,242.1 1502.2,250.2 1502.5,242.1 1502.8,250.5 1503.0,243.1 1503.2,250.5 1503.5,241.1 1503.8,251.6 1504.0,241.1 1504.2,250.8 1504.5,241.2 1504.8,250.8 1505.0,242.5 1505.2,249.5 1505.5,242.5 1505.8,251.0 1506.0,243.1 1506.2,251.0 1506.5,242.5 1506.8,251.0 1507.0,242.5 1507.2,251.3 1507.5,242.5 1507.8,251.3 1508.0,241.4 1508.2,251.3 1508.5,241.4 1508.8,251.0 1509.0,241.5 1509.2,251.0 1509.5,243.1 1509.8,251.5 1510.0,243.1 1510.2,251.2 1510.5,241.2 1510.8,251.2 1511.0,242.2 1511.2,250.5 1511.5,242.2 1511.8,250.6 1512.0,242.9 1512.2,250.6 1512.5,242.1 1512.8,251.5 1513.0,242.1 1513.2,250.0 1513.5,241.4 1513.8,250.0 1514.0,240.2 1514.2,251.9 1514.5,240.2 1514.8,250.8 1515.0,242.5 1515.2,250.8 1515.5,241.0 1515.8,250.9 1516.0,241.0 1516.2,250.3 1516.5,243.0 1516.8,250.3 1517.0,242.0 1517.2,250.7 1517.5,242.0 1517.8,251.0 1518.0,241.9 1518.2,251.0 1518.5,240.4 1518.8,251.4 1519.0,240.4 1519.2,250.9 1519.5,242.9 1519.8,250.9 1520.0,241.5 1520.2,251.3 1520.5,241.5 1520.8,250.9 1521.0,243.3 1521.2,250.9 1521.5,241.6 1521.8,250.3 1522.0,241.6 1522.2,250.9 1522.5,242.3 1522.8,250.9 1523.0,240.6 1523.2,251.7 1523.5,240.6 1523.8,250.2 1524.0,241.4 1524.2,250.2 1524.5,243.1 1524.8,250.0 1525.0,243.1 1525.2,251.1 1525.5,242.5 1525.8,251.1 1526.0,242.5 1526.2,249.6 1526.5,242.5 1526.8,251.5 1527.0,241.7 1527.2,251.5 1527.5,241.4 1527.8,252.1 1528.0,241.4 1528.2,249.8 1528.5,242.0 1528.8,249.8 1529.0,242.1 1529.2,250.5 1529.5,242.1 1529.8,250.1 1530.0,243.0 1530.2,250.1 1530.5,242.4 1530.8,251.4 1531.0,242.4 1531.2,249.8 1531.5,243.0 1531.8,249.8 1532.0,242.1 1532.2,250.1 1532.5,242.1 1532.8,250.8 1533.0,242.5 1533.2,250.8 1533.5,242.3 1533.8,249.8 1534.0,242.3 1534.2,249.6 1534.5,243.0 1534.8,249.6 1535.0,242.1 1535.2,251.0 1535.5,242.1 1535.8,249.6 1536.0,243.2 1536.2,249.6 1536.5,243.2 1536.8,252.7 1537.0,243.2 1537.2,249.9 1537.5,241.6 1537.8,249.9 1538.0,242.4 1538.2,249.7 1538.5,242.4 1538.8,251.1 1539.0,242.9 1539.2,251.1 1539.5,242.9 1539.8,251.0 1540.0,242.9 1540.2,251.2 1540.5,242.6 1540.8,251.2 1541.0,243.2 1541.2,251.1 1541.5,243.2 1541.8,251.5 1542.0,241.8 1542.2,251.5 1542.5,242.0 1542.8,251.3 1543.0,242.0 1543.2,251.2 1543.5,241.1 1543.8,251.2 1544.0,242.9 1544.2,251.5 1544.5,242.9 1544.8,251.7 1545.0,242.0 1545.2,251.7 1545.5,241.7 1545.8,251.5 1546.0,241.7 1546.2,251.4 1546.5,241.1 1546.8,251.4 1547.0,242.2 1547.2,250.7 1547.5,242.2 1547.8,251.1 1548.0,241.9 1548.2,251.1 1548.5,241.4 1548.8,250.4 1549.0,241.4 1549.2,249.5 1549.5,241.3 1549.8,249.5 1550.0,242.3 1550.2,250.6 1550.5,242.3 1550.8,249.9 1551.0,242.3 1551.2,249.9 1551.5,242.5 1551.8,250.4 1552.0,242.5 1552.2,251.4 1552.5,242.3 1552.8,251.4 1553.0,241.8 1553.2,251.0 1553.5,241.8 1553.8,251.5 1554.0,242.9 1554.2,251.5 1554.5,243.2 1554.8,251.4 1555.0,243.2 1555.2,250.7 1555.5,242.0 1555.8,250.7 1556.0,241.4 1556.2,250.5 1556.5,241.4 1556.8,250.1 1557.0,242.0 1557.2,250.1 1557.5,240.9 1557.8,249.7 1558.0,240.9 1558.2,251.1 1558.5,241.7 1558.8,251.1 1559.0,241.6 1559.2,250.7 1559.5,241.6 1559.8,251.3 1560.0,241.3 1560.2,251.3 1560.5,241.5 1560.8,249.8 1561.0,241.5 1561.2,250.3 1561.5,242.2 1561.8,250.3 1562.0,241.8 1562.2,250.0 1562.5,241.8 1562.8,250.4 1563.0,242.4 1563.2,250.4 1563.5,242.3 1563.8,250.4 1564.0,242.3 1564.2,251.3 1564.5,242.6 1564.8,251.3 1565.0,241.4 1565.2,251.0 1565.5,241.4 1565.8,251.3 1566.0,242.5 1566.2,251.3 1566.5,241.6 1566.8,249.7 1567.0,241.6 1567.2,249.5 1567.5,241.1 1567.8,249.5 1568.0,242.3 1568.2,250.5 1568.5,242.3 1568.8,249.7 1569.0,242.4 1569.2,249.7 1569.5,241.8 1569.8,249.8 1570.0,241.8 1570.2,251.4 1570.5,241.2 1570.8,251.4 1571.0,241.2 1571.2,251.1 1571.5,241.2 1571.8,251.5 1572.0,243.0 1572.2,251.5 1572.5,242.7 1572.8,251.5 1573.0,242.7 1573.2,251.4 1573.5,241.2 1573.8,251.4 1574.0,239.9 1574.2,252.1 1574.5,239.9 1574.8,250.2 1575.0,241.9 1575.2,250.2 1575.5,242.2 1575.8,251.0 1576.0,242.2 1576.2,251.0 1576.5,242.5 1576.8,251.0 1577.0,239.8 1577.2,250.9 1577.5,239.8 1577.8,251.4 1578.0,242.4 1578.2,251.4 1578.5,242.2 1578.8,251.1 1579.0,242.2 1579.2,250.4 1579.5,241.3 1579.8,250.4 1580.0,241.3 1580.2,252.1 1580.5,241.3 1580.8,249.8 1581.0,242.1 1581.2,249.8 1581.5,241.2 1581.8,251.2 1582.0,241.2 1582.2,250.2 1582.5,242.2 1582.8,250.2 1583.0,242.7 1583.2,251.4 1583.5,242.7 1583.8,251.0 1584.0,242.7 1584.2,251.0 1584.5,243.2 1584.8,251.2 1585.0,243.2 1585.2,251.5 1585.5,242.4 1585.8,251.5 1586.0,243.1 1586.2,250.9 1586.5,243.1 1586.8,249.7 1587.0,241.9 1587.2,249.7 1587.5,240.8 1587.8,250.3 1588.0,240.8 1588.2,250.7 1588.5,241.5 1588.8,250.7 1589.0,241.6 1589.2,250.5 1589.5,241.6 1589.8,250.1 1590.0,241.8 1590.2,250.1 1590.5,242.4 1590.8,251.5 1591.0,242.4 1591.2,250.9 1591.5,241.4 1591.8,250.9 1592.0,241.4 1592.2,251.8 1592.5,241.4 1592.8,251.0 1593.0,241.5 1593.2,251.0 1593.5,241.8 1593.8,249.9 1594.0,241.8 1594.2,251.3 1594.5,241.9 1594.8,251.3 1595.0,242.6 1595.2,252.2 1595.5,242.6 1595.8,251.0 1596.0,242.4 1596.2,251.0 1596.5,242.3 1596.8,250.0 1597.0,242.3 1597.2,251.0 1597.5,242.1 1597.8,251.0 1598.0,241.9 1598.2,250.1 1598.5,241.9 1598.8,251.2 1599.0,242.6 1599.2,251.2 1599.5,243.1 1599.8,249.6 1600.0,243.1 1600.2,249.7 1600.5,242.7 1600.8,249.7 1601.0,241.6 1601.2,250.2 1601.5,241.6 1601.8,249.6 1602.0,241.1 1602.2,249.6 1602.5,240.8 1602.8,251.3 1603.0,240.8 1603.2,249.8 1603.5,241.4 1603.8,249.8 1604.0,242.8 1604.2,249.7 1604.5,242.8 1604.8,250.4 1605.0,242.4 1605.2,250.4 1605.5,243.3 1605.8,251.8 1606.0,243.3 1606.2,250.4 1606.5,241.7 1606.8,250.4 1607.0,243.2 1607.2,251.1 1607.5,243.2 1607.8,249.8 1608.0,241.6 1608.2,249.8 1608.5,240.6 1608.8,249.5 1609.0,240.6 1609.2,251.7 1609.5,243.1 1609.8,251.7 1610.0,242.6 1610.2,251.2 1610.5,242.6 1610.8,251.6 1611.0,242.6 1611.2,251.6 1611.5,241.4 1611.8,249.7 1612.0,241.4 1612.2,250.7 1612.5,241.7 1612.8,250.7 1613.0,241.3 1613.2,250.7 1613.5,241.3 1613.8,252.8 1614.0,241.7 1614.2,252.8 1614.5,243.2 1614.8,250.8 1615.0,243.2 1615.2,251.3 1615.5,242.9 1615.8,251.3 1616.0,241.2 1616.2,252.6 1616.5,241.2 1616.8,250.4 1617.0,240.7 1617.2,250.4 1617.5,241.6 1617.8,250.9 1618.0,241.6 1618.2,250.2 1618.5,242.2 1618.8,250.2 1619.0,243.1 1619.2,250.6 1619.5,243.1 1619.8,250.1 1620.0,241.8 1620.2,250.1 1620.5,241.3 1620.8,250.7 1621.0,241.3 1621.2,249.6 1621.5,242.2 1621.8,249.6 1622.0,242.9 1622.2,251.8 1622.5,242.9 1622.8,251.1 1623.0,242.3 1623.2,251.1 1623.5,241.7 1623.8,251.8 1624.0,241.7 1624.2,249.5 1624.5,242.1 1624.8,249.5 1625.0,242.7 1625.2,250.8 1625.5,242.7 1625.8,251.3 1626.0,243.0 1626.2,251.3 1626.5,241.6 1626.8,251.6 1627.0,241.6 1627.2,252.2 1627.5,243.0 1627.8,252.2 1628.0,241.9 1628.2,252.0 1628.5,241.9 1628.8,251.6 1629.0,241.4 1629.2,251.6 1629.5,242.4 1629.8,251.0 1630.0,242.4 1630.2,251.3 1630.5,242.0 1630.8,251.3 1631.0,241.8 1631.2,250.2 1631.5,241.8 1631.8,251.8 1632.0,242.7 1632.2,251.8 1632.5,242.5 1632.8,250.5 1633.0,242.5 1633.2,251.6 1633.5,241.5 1633.8,251.6 1634.0,241.4 1634.2,250.8 1634.5,241.4 1634.8,249.8 1635.0,241.5 1635.2,249.8 1635.5,242.0 1635.8,251.1 1636.0,242.0 1636.2,250.5 1636.5,241.6 1636.8,250.5 1637.0,241.3 1637.2,250.5 1637.5,241.3 1637.8,252.1 1638.0,241.9 1638.2,252.1 1638.5,242.9 1638.8,251.2 1639.0,242.9 1639.2,250.4 1639.5,241.7 1639.8,250.4 1640.0,242.2 1640.2,250.5 1640.5,242.2 1640.8,250.3 1641.0,240.9 1641.2,250.3 1641.5,242.4 1641.8,250.9 1642.0,242.4 1642.2,251.3 1642.5,243.1 1642.8,251.3 1643.0,242.3 1643.2,250.1 1643.5,242.3 1643.8,252.1 1644.0,241.4 1644.2,252.1 1644.5,242.9 1644.8,249.6 1645.0,242.9 1645.2,249.5 1645.5,242.4 1645.8,249.5 1646.0,241.7 1646.2,251.4 1646.5,241.7 1646.8,250.9 1647.0,243.0 1647.2,250.9 1647.5,241.0 1647.8,251.2 1648.0,241.0 1648.2,250.0 1648.5,242.9 1648.8,250.0 1649.0,242.0 1649.2,251.0 1649.5,242.0 1649.8,249.6 1650.0,240.8 1650.2,249.6 1650.5,241.4 1650.8,250.6 1651.0,241.4 1651.2,251.2 1651.5,243.1 1651.8,251.2 1652.0,241.3 1652.2,251.4 1652.5,241.3 1652.8,250.7 1653.0,243.0 1653.2,250.7 1653.5,241.7 1653.8,250.9 1654.0,241.7 1654.2,250.5 1654.5,241.6 1654.8,250.5 1655.0,242.6 1655.2,250.0 1655.5,242.6 1655.8,251.2 1656.0,241.4 1656.2,251.2 1656.5,241.5 1656.5,250.5" fill="none" stroke="#eaae00" stroke-width="2.0" stroke-linejoin="round" stroke-linecap="round"/>
<polyline points="927.5,645.3 927.8,658.6 928.0,645.3 928.2,658.3 928.5,645.5 928.8,658.3 929.0,646.2 929.2,657.6 929.5,646.2 929.8,658.0 930.0,644.2 930.2,658.0 930.5,645.8 930.8,656.4 931.0,645.8 931.2,657.2 931.5,646.9 931.8,657.2 932.0,645.8 932.2,657.6 932.5,645.8 932.8,657.5 933.0,645.6 933.2,657.5 933.5,646.5 933.8,656.2 934.0,646.5 934.2,656.9 934.5,647.0 934.8,656.9 935.0,647.8 935.2,657.3 935.5,647.8 935.8,656.4 936.0,645.9 936.2,656.4 936.5,647.6 936.8,658.3 937.0,647.6 937.2,658.2 937.5,647.2 937.8,658.2 938.0,646.5 938.2,656.8 938.5,646.5 938.8,657.4 939.0,646.4 939.2,657.4 939.5,645.3 939.8,659.8 940.0,645.3 940.2,658.4 940.5,645.1 940.8,658.4 941.0,643.6 941.2,656.7 941.5,643.6 941.8,657.0 942.0,644.5 942.2,657.0 942.5,645.9 942.8,658.1 943.0,645.9 943.2,657.5 943.5,646.2 943.8,657.5 944.0,648.0 944.2,658.9 944.5,648.0 944.8,657.8 945.0,646.4 945.2,657.8 945.5,644.6 945.8,657.9 946.0,644.6 946.2,656.9 946.5,644.4 946.8,656.9 947.0,647.2 947.2,657.9 947.5,647.2 947.8,657.8 948.0,647.8 948.2,657.8 948.5,644.3 948.8,657.7 949.0,644.3 949.2,658.0 949.5,645.8 949.8,658.0 950.0,646.0 950.2,656.1 950.5,646.0 950.8,658.8 951.0,646.2 951.2,658.8 951.5,645.8 951.8,658.0 952.0,645.8 952.2,656.5 952.5,646.5 952.8,656.5 953.0,646.6 953.2,658.2 953.5,646.6 953.8,658.1 954.0,646.9 954.2,658.1 954.5,647.1 954.8,658.7 955.0,647.1 955.2,657.1 955.5,647.2 955.8,657.1 956.0,644.3 956.2,658.7 956.5,644.3 956.8,656.9 957.0,643.8 957.2,656.9 957.5,645.7 957.8,658.6 958.0,645.7 958.2,656.3 958.5,645.9 958.8,656.3 959.0,647.6 959.2,657.8 959.5,647.6 959.8,659.4 960.0,646.9 960.2,659.4 960.5,646.8 960.8,659.4 961.0,646.8 961.2,656.7 961.5,645.7 961.8,656.7 962.0,645.7 962.2,659.7 962.5,645.7 962.8,656.4 963.0,647.8 963.2,656.4 963.5,646.4 963.8,656.1 964.0,646.4 964.2,658.6 964.5,647.4 964.8,658.6 965.0,646.8 965.2,658.0 965.5,646.8 965.8,658.4 966.0,645.4 966.2,658.4 966.5,644.4 966.8,656.8 967.0,644.4 967.2,658.5 967.5,644.6 967.8,658.5 968.0,646.5 968.2,657.2 968.5,646.5 968.8,657.8 969.0,644.7 969.2,657.8 969.5,645.5 969.8,656.2 970.0,645.5 970.2,657.6 970.5,646.8 970.8,657.6 971.0,645.8 971.2,658.3 971.5,645.8 971.8,658.6 972.0,647.3 972.2,658.6 972.5,646.4 972.8,657.7 973.0,646.4 973.2,657.2 973.5,645.2 973.8,657.2 974.0,646.0 974.2,658.2 974.5,646.0 974.8,656.2 975.0,646.0 975.2,656.2 975.5,646.7 975.8,657.1 976.0,646.7 976.2,657.0 976.5,646.5 976.8,657.0 977.0,645.6 977.2,657.2 977.5,645.6 977.8,656.2 978.0,647.0 978.2,656.2 978.5,646.7 978.8,657.0 979.0,646.7 979.2,658.2 979.5,647.7 979.8,658.2 980.0,648.1 980.2,657.4 980.5,648.1 980.8,659.0 981.0,647.8 981.2,659.0 981.5,645.8 981.8,656.3 982.0,645.8 982.2,658.3 982.5,646.1 982.8,658.3 983.0,647.5 983.2,657.7 983.5,647.5 983.8,657.9 984.0,647.3 984.2,657.9 984.5,646.8 984.8,656.7 985.0,646.8 985.2,657.4 985.5,645.5 985.8,657.4 986.0,645.7 986.2,656.8 986.5,645.7 986.8,656.3 987.0,646.1 987.2,656.3 987.5,646.7 987.8,658.0 988.0,646.7 988.2,657.6 988.5,646.4 988.8,657.6 989.0,644.0 989.2,658.2 989.5,644.0 989.8,658.4 990.0,647.0 990.2,658.4 990.5,645.7 990.8,657.5 991.0,645.7 991.2,658.2 991.5,645.0 991.8,658.2 992.0,644.5 992.2,658.1 992.5,644.5 992.8,658.4 993.0,646.1 993.2,658.4 993.5,647.3 993.8,658.0 994.0,647.3 994.2,656.7 994.5,646.9 994.8,656.7 995.0,644.1 995.2,658.1 995.5,644.1 995.8,656.9 996.0,646.1 996.2,656.9 996.5,646.2 996.8,658.6 997.0,646.2 997.2,657.9 997.5,645.6 997.8,657.9 998.0,646.1 998.2,657.1 998.5,646.1 998.8,658.6 999.0,646.3 999.2,658.6 999.5,646.7 999.8,656.0 1000.0,646.7 1000.2,656.8 1000.5,645.5 1000.8,656.8 1001.0,645.2 1001.2,657.9 1001.5,645.2 1001.8,656.1 1002.0,646.8 1002.2,656.1 1002.5,644.9 1002.8,658.5 1003.0,644.9 1003.2,658.0 1003.5,646.6 1003.8,658.0 1004.0,647.5 1004.2,658.5 1004.5,647.5 1004.8,659.3 1005.0,647.9 1005.2,659.3 1005.5,646.4 1005.8,657.5 1006.0,646.4 1006.2,658.0 1006.5,647.2 1006.8,658.0 1007.0,647.4 1007.2,658.6 1007.5,647.4 1007.8,656.2 1008.0,647.3 1008.2,656.2 1008.5,646.3 1008.8,657.0 1009.0,646.3 1009.2,658.3 1009.5,646.5 1009.8,658.3 1010.0,645.6 1010.2,658.4 1010.5,645.6 1010.8,658.6 1011.0,647.9 1011.2,658.6 1011.5,643.8 1011.8,658.7 1012.0,643.8 1012.2,656.2 1012.5,647.0 1012.8,656.2 1013.0,646.3 1013.2,656.1 1013.5,646.3 1013.8,658.0 1014.0,645.4 1014.2,658.0 1014.5,645.7 1014.8,655.9 1015.0,645.7 1015.2,656.5 1015.5,646.5 1015.8,656.5 1016.0,646.4 1016.2,656.9 1016.5,646.4 1016.8,658.4 1017.0,645.6 1017.2,658.4 1017.5,645.4 1017.8,657.4 1018.0,645.4 1018.2,658.2 1018.5,647.1 1018.8,658.2 1019.0,646.5 1019.2,656.4 1019.5,646.5 1019.8,658.2 1020.0,645.0 1020.2,658.2 1020.5,646.1 1020.8,657.2 1021.0,646.1 1021.2,656.5 1021.5,646.7 1021.8,656.5 1022.0,646.2 1022.2,658.4 1022.5,646.2 1022.8,656.5 1023.0,645.8 1023.2,656.5 1023.5,647.8 1023.8,656.3 1024.0,647.8 1024.2,657.7 1024.5,643.1 1024.8,657.7 1025.0,648.1 1025.2,658.4 1025.5,648.1 1025.8,657.4 1026.0,643.3 1026.2,657.4 1026.5,647.0 1026.8,657.5 1027.0,647.0 1027.2,658.4 1027.5,645.5 1027.8,658.4 1028.0,646.5 1028.2,657.7 1028.5,646.5 1028.8,657.3 1029.0,647.1 1029.2,657.3 1029.5,647.6 1029.8,658.0 1030.0,647.6 1030.2,656.5 1030.5,644.6 1030.8,656.5 1031.0,645.7 1031.2,656.2 1031.5,645.7 1031.8,658.3 1032.0,647.5 1032.2,658.3 1032.5,647.8 1032.8,658.1 1033.0,647.8 1033.2,656.6 1033.5,646.7 1033.8,656.6 1034.0,646.3 1034.2,657.3 1034.5,646.3 1034.8,656.8 1035.0,647.6 1035.2,656.8 1035.5,644.9 1035.8,657.3 1036.0,644.9 1036.2,656.1 1036.5,647.2 1036.8,656.1 1037.0,647.3 1037.2,658.5 1037.5,647.3 1037.8,658.2 1038.0,646.8 1038.2,658.2 1038.5,647.2 1038.8,658.2 1039.0,647.2 1039.2,657.4 1039.5,645.1 1039.8,657.4 1040.0,646.9 1040.2,657.3 1040.5,646.9 1040.8,657.7 1041.0,645.9 1041.2,657.7 1041.5,645.7 1041.8,656.2 1042.0,645.7 1042.2,657.7 1042.5,646.9 1042.8,657.7 1043.0,645.3 1043.2,657.6 1043.5,645.3 1043.8,658.0 1044.0,646.9 1044.2,658.0 1044.5,646.1 1044.8,657.8 1045.0,646.1 1045.2,656.2 1045.5,646.2 1045.8,656.2 1046.0,645.8 1046.2,660.2 1046.5,645.8 1046.8,657.9 1047.0,645.3 1047.2,657.9 1047.5,645.9 1047.8,658.2 1048.0,645.9 1048.2,658.2 1048.5,645.2 1048.8,658.2 1049.0,647.2 1049.2,658.0 1049.5,647.2 1049.8,657.1 1050.0,647.4 1050.2,657.1 1050.5,645.8 1050.8,659.0 1051.0,645.8 1051.2,657.3 1051.5,646.0 1051.8,657.3 1052.0,644.7 1052.2,658.1 1052.5,644.7 1052.8,657.8 1053.0,646.6 1053.2,657.8 1053.5,646.9 1053.8,656.0 1054.0,646.9 1054.2,657.0 1054.5,646.5 1054.8,657.0 1055.0,645.8 1055.2,659.0 1055.5,645.8 1055.8,657.9 1056.0,646.6 1056.2,657.9 1056.5,646.0 1056.8,658.5 1057.0,646.0 1057.2,658.2 1057.5,646.6 1057.8,658.2 1058.0,647.1 1058.2,656.4 1058.5,647.1 1058.8,658.4 1059.0,645.6 1059.2,658.4 1059.5,643.4 1059.8,658.5 1060.0,643.4 1060.2,658.1 1060.5,646.2 1060.8,658.1 1061.0,646.5 1061.2,656.1 1061.5,646.5 1061.8,657.2 1062.0,647.0 1062.2,657.2 1062.5,644.8 1062.8,657.2 1063.0,644.8 1063.2,656.0 1063.5,644.7 1063.8,656.0 1064.0,647.0 1064.2,658.7 1064.5,647.0 1064.8,657.4 1065.0,645.9 1065.2,657.4 1065.5,645.7 1065.8,659.0 1066.0,645.7 1066.2,656.0 1066.5,645.4 1066.8,656.0 1067.0,647.9 1067.2,656.2 1067.5,647.9 1067.8,659.7 1068.0,646.1 1068.2,659.7 1068.5,646.1 1068.8,658.0 1069.0,646.1 1069.2,658.0 1069.5,648.0 1069.8,658.0 1070.0,646.2 1070.2,660.2 1070.5,646.2 1070.8,657.4 1071.0,645.2 1071.2,657.4 1071.5,643.8 1071.8,656.1 1072.0,643.8 1072.2,658.4 1072.5,646.5 1072.8,658.4 1073.0,648.1 1073.2,658.5 1073.5,648.1 1073.8,656.5 1074.0,646.8 1074.2,656.5 1074.5,644.1 1074.8,658.4 1075.0,644.1 1075.2,657.8 1075.5,646.0 1075.8,657.8 1076.0,646.3 1076.2,657.4 1076.5,646.3 1076.8,656.7 1077.0,647.9 1077.2,656.7 1077.5,645.7 1077.8,658.3 1078.0,645.7 1078.2,658.5 1078.5,644.4 1078.8,658.5 1079.0,646.6 1079.2,659.4 1079.5,646.6 1079.8,658.5 1080.0,647.0 1080.2,658.5 1080.5,647.3 1080.8,658.0 1081.0,647.3 1081.2,657.5 1081.5,646.6 1081.8,657.5 1082.0,646.0 1082.2,656.4 1082.5,646.0 1082.8,657.9 1083.0,645.4 1083.2,657.9 1083.5,645.8 1083.8,657.3 1084.0,645.8 1084.2,658.0 1084.5,646.3 1084.8,658.0 1085.0,646.4 1085.2,658.1 1085.5,646.4 1085.8,656.5 1086.0,645.5 1086.2,656.5 1086.5,646.5 1086.8,657.1 1087.0,646.5 1087.2,657.9 1087.5,646.7 1087.8,657.9 1088.0,648.0 1088.2,657.3 1088.5,648.0 1088.8,659.6 1089.0,646.3 1089.2,659.6 1089.5,646.2 1089.8,657.5 1090.0,646.2 1090.2,657.2 1090.5,644.5 1090.8,657.2 1091.0,646.3 1091.2,657.3 1091.5,646.3 1091.8,656.1 1092.0,645.0 1092.2,656.1 1092.5,647.2 1092.8,656.7 1093.0,647.2 1093.2,657.1 1093.5,646.7 1093.8,657.1 1094.0,647.0 1094.2,656.8 1094.5,647.0 1094.8,657.1 1095.0,646.8 1095.2,657.1 1095.5,647.1 1095.8,657.6 1096.0,647.1 1096.2,658.2 1096.5,645.6 1096.8,658.2 1097.0,644.3 1097.2,658.5 1097.5,644.3 1097.8,656.9 1098.0,646.7 1098.2,656.9 1098.5,645.6 1098.8,657.1 1099.0,645.6 1099.2,657.8 1099.5,647.5 1099.8,657.8 1100.0,645.1 1100.2,657.7 1100.5,645.1 1100.8,657.3 1101.0,646.5 1101.2,657.3 1101.5,648.1 1101.8,656.4 1102.0,648.1 1102.2,657.6 1102.5,645.7 1102.8,657.6 1103.0,646.2 1103.2,656.4 1103.5,646.2 1103.8,658.2 1104.0,644.7 1104.2,658.2 1104.5,646.4 1104.8,658.0 1105.0,646.4 1105.2,657.4 1105.5,646.6 1105.8,657.4 1106.0,647.3 1106.2,656.0 1106.5,647.3 1106.8,657.6 1107.0,644.8 1107.2,657.6 1107.5,645.5 1107.8,657.1 1108.0,645.5 1108.2,657.5 1108.5,645.1 1108.8,657.5 1109.0,646.9 1109.2,660.2 1109.5,646.9 1109.8,657.1 1110.0,647.6 1110.2,657.1 1110.5,646.1 1110.8,658.0 1111.0,646.1 1111.2,657.2 1111.5,646.5 1111.8,657.2 1112.0,647.6 1112.2,656.7 1112.5,647.6 1112.8,656.9 1113.0,645.4 1113.2,656.9 1113.5,645.5 1113.8,656.9 1114.0,645.5 1114.2,656.5 1114.5,645.1 1114.8,656.5 1115.0,646.5 1115.2,660.4 1115.5,646.5 1115.8,659.9 1116.0,644.8 1116.2,659.9 1116.5,646.7 1116.8,657.7 1117.0,646.7 1117.2,656.2 1117.5,647.6 1117.8,656.2 1118.0,645.3 1118.2,656.7 1118.5,645.3 1118.8,656.4 1119.0,647.4 1119.2,656.4 1119.5,645.5 1119.8,656.0 1120.0,645.5 1120.2,658.5 1120.5,647.0 1120.8,658.5 1121.0,648.0 1121.2,657.8 1121.5,648.0 1121.8,657.4 1122.0,646.6 1122.2,657.4 1122.5,644.4 1122.8,656.9 1123.0,644.4 1123.2,656.5 1123.5,645.4 1123.8,656.5 1124.0,646.9 1124.2,656.4 1124.5,646.9 1124.8,658.0 1125.0,647.7 1125.2,658.0 1125.5,647.3 1125.8,656.7 1126.0,647.3 1126.2,656.6 1126.5,647.3 1126.8,656.6 1127.0,644.0 1127.2,658.6 1127.5,644.0 1127.8,658.9 1128.0,646.0 1128.2,658.9 1128.5,646.3 1128.8,657.1 1129.0,646.3 1129.2,660.2 1129.5,644.8 1129.8,660.2 1130.0,646.2 1130.2,659.8 1130.5,646.2 1130.8,656.4 1131.0,643.9 1131.2,656.4 1131.5,647.7 1131.8,658.7 1132.0,647.7 1132.2,658.9 1132.5,646.1 1132.8,658.9 1133.0,645.8 1133.2,657.1 1133.5,645.8 1133.8,658.4 1134.0,646.8 1134.2,658.4 1134.5,646.0 1134.8,656.2 1135.0,646.0 1135.2,658.6 1135.5,643.9 1135.8,658.6 1136.0,647.5 1136.2,657.7 1136.5,647.5 1136.8,660.4 1137.0,645.0 1137.2,660.4 1137.5,645.5 1137.8,657.7 1138.0,645.5 1138.2,658.9 1138.5,647.4 1138.8,658.9 1139.0,646.4 1139.2,657.8 1139.5,646.4 1139.8,657.7 1140.0,645.5 1140.2,657.7 1140.5,645.9 1140.8,657.5 1141.0,645.9 1141.2,656.5 1141.5,646.6 1141.8,656.5 1142.0,647.7 1142.2,656.5 1142.5,647.7 1142.8,659.1 1143.0,647.4 1143.2,659.1 1143.5,646.1 1143.8,657.1 1144.0,646.1 1144.2,656.3 1144.5,646.4 1144.8,656.3 1145.0,646.2 1145.2,658.5 1145.5,646.2 1145.8,658.9 1146.0,643.4 1146.2,658.9 1146.5,645.7 1146.8,657.7 1147.0,645.7 1147.2,656.7 1147.5,645.9 1147.8,656.7 1148.0,645.6 1148.2,657.7 1148.5,645.6 1148.8,659.9 1149.0,646.1 1149.2,659.9 1149.5,647.3 1149.8,658.1 1150.0,647.3 1150.2,657.1 1150.5,645.6 1150.8,657.1 1151.0,646.8 1151.2,657.8 1151.5,646.8 1151.8,657.5 1152.0,647.2 1152.2,657.5 1152.5,647.3 1152.8,659.1 1153.0,647.3 1153.2,657.5 1153.5,646.9 1153.8,657.5 1154.0,646.2 1154.2,657.0 1154.5,646.2 1154.8,659.5 1155.0,647.3 1155.2,659.5 1155.5,647.6 1155.8,657.2 1156.0,647.6 1156.2,657.1 1156.5,647.0 1156.8,657.1 1157.0,645.4 1157.2,658.4 1157.5,645.4 1157.8,656.5 1158.0,644.6 1158.2,656.5 1158.5,646.6 1158.8,658.2 1159.0,646.6 1159.2,658.3 1159.5,646.1 1159.8,658.3 1160.0,645.9 1160.2,658.1 1160.5,645.9 1160.8,659.1 1161.0,645.0 1161.2,659.1 1161.5,645.7 1161.8,656.8 1162.0,645.7 1162.2,656.1 1162.5,645.7 1162.8,656.1 1163.0,646.7 1163.2,656.5 1163.5,646.7 1163.8,659.2 1164.0,645.8 1164.2,659.2 1164.5,646.1 1164.8,657.0 1165.0,646.1 1165.2,657.6 1165.5,646.0 1165.8,657.6 1166.0,646.1 1166.2,656.8 1166.5,646.1 1166.8,658.1 1167.0,646.7 1167.2,658.1 1167.5,646.6 1167.8,658.1 1168.0,646.6 1168.2,658.0 1168.5,647.4 1168.8,658.0 1169.0,645.6 1169.2,656.6 1169.5,645.6 1169.8,656.6 1170.0,646.4 1170.2,656.6 1170.5,646.5 1170.8,658.4 1171.0,646.5 1171.2,656.0 1171.5,647.5 1171.8,656.0 1172.0,645.7 1172.2,656.2 1172.5,645.7 1172.8,657.7 1173.0,646.2 1173.2,657.7 1173.5,644.7 1173.8,657.3 1174.0,644.7 1174.2,657.8 1174.5,646.6 1174.8,657.8 1175.0,646.0 1175.2,656.9 1175.5,646.0 1175.8,656.5 1176.0,645.5 1176.2,656.5 1176.5,647.7 1176.8,656.9 1177.0,647.7 1177.2,657.7 1177.5,646.2 1177.8,657.7 1178.0,647.1 1178.2,657.8 1178.5,647.1 1178.8,656.9 1179.0,645.9 1179.2,656.9 1179.5,647.6 1179.8,659.0 1180.0,647.6 1180.2,656.6 1180.5,648.0 1180.8,656.6 1181.0,645.8 1181.2,658.3 1181.5,645.8 1181.8,658.2 1182.0,645.3 1182.2,658.2 1182.5,645.9 1182.8,657.6 1183.0,645.9 1183.2,657.4 1183.5,647.9 1183.8,657.4 1184.0,647.2 1184.2,658.5 1184.5,647.2 1184.8,657.6 1185.0,645.1 1185.2,657.6 1185.5,647.5 1185.8,658.1 1186.0,647.5 1186.2,657.2 1186.5,646.2 1186.8,657.2 1187.0,644.2 1187.2,656.4 1187.5,644.2 1187.8,658.5 1188.0,646.2 1188.2,658.5 1188.5,646.9 1188.8,658.1 1189.0,646.9 1189.2,658.4 1189.5,645.7 1189.8,658.4 1190.0,646.1 1190.2,658.5 1190.5,646.1 1190.8,657.5 1191.0,647.3 1191.2,657.5 1191.5,646.5 1191.8,657.3 1192.0,646.5 1192.2,656.5 1192.5,645.5 1192.8,656.5 1193.0,647.7 1193.2,659.7 1193.5,647.7 1193.8,657.8 1194.0,646.3 1194.2,657.8 1194.5,647.4 1194.8,658.3 1195.0,647.4 1195.2,658.4 1195.5,646.3 1195.8,658.4 1196.0,644.4 1196.2,657.7 1196.5,644.4 1196.8,658.0 1197.0,645.7 1197.2,658.0 1197.5,643.6 1197.8,658.2 1198.0,643.6 1198.2,656.6 1198.5,646.3 1198.8,656.6 1199.0,645.5 1199.2,656.6 1199.5,645.5 1199.8,656.1 1200.0,645.9 1200.2,656.1 1200.5,647.6 1200.8,658.2 1201.0,647.6 1201.2,657.4 1201.5,646.9 1201.8,657.4 1202.0,645.8 1202.2,658.2 1202.5,645.8 1202.8,658.3 1203.0,646.4 1203.2,658.3 1203.5,647.1 1203.8,659.5 1204.0,647.1 1204.2,656.6 1204.5,645.3 1204.8,656.6 1205.0,647.5 1205.2,657.4 1205.5,647.5 1205.8,658.0 1206.0,646.7 1206.2,658.0 1206.5,648.0 1206.8,657.2 1207.0,648.0 1207.2,658.0 1207.5,644.7 1207.8,658.0 1208.0,647.6 1208.2,658.2 1208.5,647.6 1208.8,659.0 1209.0,647.3 1209.2,659.0 1209.5,644.7 1209.8,657.0 1210.0,644.7 1210.2,658.4 1210.5,646.9 1210.8,658.4 1211.0,647.0 1211.2,657.5 1211.5,647.0 1211.8,656.8 1212.0,646.6 1212.2,656.8 1212.5,647.0 1212.8,658.0 1213.0,647.0 1213.2,658.4 1213.5,643.8 1213.8,658.4 1214.0,645.5 1214.2,658.1 1214.5,645.5 1214.8,656.6 1215.0,646.4 1215.2,656.6 1215.5,647.4 1215.8,656.0 1216.0,647.4 1216.2,657.5 1216.5,646.3 1216.8,657.5 1217.0,648.0 1217.2,657.1 1217.5,648.0 1217.8,659.6 1218.0,645.8 1218.2,659.6 1218.5,645.6 1218.8,657.9 1219.0,645.6 1219.2,658.4 1219.5,646.7 1219.8,658.4 1220.0,646.8 1220.2,656.8 1220.5,646.8 1220.8,658.5 1221.0,647.9 1221.2,658.5 1221.5,646.0 1221.8,657.7 1222.0,646.0 1222.2,658.4 1222.5,645.5 1222.8,658.4 1223.0,647.3 1223.2,656.5 1223.5,647.3 1223.8,656.6 1224.0,645.0 1224.2,656.6 1224.5,645.3 1224.8,658.2 1225.0,645.3 1225.2,658.5 1225.5,647.3 1225.8,658.5 1226.0,646.2 1226.2,656.7 1226.5,646.2 1226.8,656.3 1227.0,645.0 1227.2,656.3 1227.5,646.7 1227.8,658.5 1228.0,646.7 1228.2,659.0 1228.5,646.3 1228.8,659.0 1229.0,646.0 1229.2,659.5 1229.5,646.0 1229.8,658.0 1230.0,647.0 1230.2,658.0 1230.5,646.4 1230.8,657.1 1231.0,646.4 1231.2,657.9 1231.5,645.8 1231.8,657.9 1232.0,646.1 1232.2,657.6 1232.5,646.1 1232.8,657.7 1233.0,646.9 1233.2,657.7 1233.5,647.4 1233.8,659.0 1234.0,647.4 1234.2,658.9 1234.5,646.5 1234.8,658.9 1235.0,646.6 1235.2,657.3 1235.5,646.6 1235.8,657.0 1236.0,647.5 1236.2,657.0 1236.5,647.5 1236.8,656.1 1237.0,647.5 1237.2,658.6 1237.5,645.8 1237.8,658.6 1238.0,647.6 1238.2,658.2 1238.5,647.6 1238.8,656.6 1239.0,647.8 1239.2,656.6 1239.5,643.5 1239.8,656.3 1240.0,643.5 1240.2,657.6 1240.5,646.5 1240.8,657.6 1241.0,645.6 1241.2,658.1 1241.5,645.6 1241.8,658.3 1242.0,645.5 1242.2,658.3 1242.5,644.9 1242.8,658.0 1243.0,644.9 1243.2,656.7 1243.5,646.1 1243.8,656.7 1244.0,647.1 1244.2,659.2 1244.5,647.1 1244.8,656.7 1245.0,645.9 1245.2,656.7 1245.5,645.2 1245.8,659.0 1246.0,645.2 1246.2,658.2 1246.5,645.4 1246.8,658.2 1247.0,645.6 1247.2,656.8 1247.5,645.6 1247.8,656.2 1248.0,645.3 1248.2,656.2 1248.5,645.9 1248.8,658.2 1249.0,645.9 1249.2,657.2 1249.5,645.8 1249.8,657.2 1250.0,646.1 1250.2,657.1 1250.5,646.1 1250.8,658.4 1251.0,646.1 1251.2,658.4 1251.5,644.4 1251.8,657.6 1252.0,644.4 1252.2,658.3 1252.5,647.0 1252.8,658.3 1253.0,645.9 1253.2,658.3 1253.5,645.9 1253.8,656.1 1254.0,646.3 1254.2,656.1 1254.5,646.4 1254.8,657.1 1255.0,646.4 1255.2,657.0 1255.5,646.0 1255.8,657.0 1256.0,645.6 1256.2,659.1 1256.5,645.6 1256.8,658.1 1257.0,647.3 1257.2,658.1 1257.5,648.0 1257.8,657.2 1258.0,648.0 1258.2,657.2 1258.5,646.9 1258.8,657.2 1259.0,645.8 1259.2,658.5 1259.5,645.8 1259.8,657.0 1260.0,645.2 1260.2,657.0 1260.5,646.7 1260.8,656.4 1261.0,646.7 1261.2,658.4 1261.5,647.4 1261.8,658.4 1262.0,646.9 1262.2,658.4 1262.5,646.9 1262.8,656.5 1263.0,647.0 1263.2,656.5 1263.5,646.8 1263.8,657.4 1264.0,646.8 1264.2,656.1 1264.5,646.4 1264.8,656.1 1265.0,645.1 1265.2,658.7 1265.5,645.1 1265.8,658.0 1266.0,646.0 1266.2,658.0 1266.5,645.1 1266.8,657.2 1267.0,645.1 1267.2,658.1 1267.5,646.3 1267.8,658.1 1268.0,646.5 1268.2,657.3 1268.5,646.5 1268.8,658.3 1269.0,646.0 1269.2,658.3 1269.5,645.9 1269.8,657.1 1270.0,645.9 1270.2,657.2 1270.5,645.3 1270.8,657.2 1271.0,645.4 1271.2,659.3 1271.5,645.4 1271.8,656.7 1272.0,644.1 1272.2,656.7 1272.5,646.8 1272.8,656.1 1273.0,646.8 1273.2,659.3 1273.5,645.7 1273.8,659.3 1274.0,646.8 1274.2,657.4 1274.5,646.8 1274.8,656.6 1275.0,647.6 1275.2,656.6 1275.5,646.1 1275.8,656.6 1276.0,646.1 1276.2,656.1 1276.5,646.5 1276.8,656.1 1277.0,645.7 1277.2,657.7 1277.5,645.7 1277.8,657.9 1278.0,647.4 1278.2,657.9 1278.5,645.9 1278.8,658.4 1279.0,645.9 1279.2,660.2 1279.5,644.6 1279.8,660.2 1280.0,647.7 1280.2,658.0 1280.5,647.7 1280.8,656.2 1281.0,645.5 1281.2,656.2 1281.5,647.7 1281.8,656.1 1282.0,647.7 1282.2,656.5 1282.5,645.9 1282.8,656.5 1283.0,647.4 1283.2,657.1 1283.5,647.4 1283.8,659.3 1284.0,645.4 1284.2,659.3 1284.5,645.2 1284.8,658.1 1285.0,645.2 1285.2,656.4 1285.5,647.6 1285.8,656.4 1286.0,645.7 1286.2,658.6 1286.5,645.7 1286.8,657.7 1287.0,645.5 1287.2,657.7 1287.5,644.7 1287.8,657.3 1288.0,644.7 1288.2,656.3 1288.5,647.1 1288.8,656.3 1289.0,646.8 1289.2,656.6 1289.5,646.8 1289.8,658.4 1290.0,646.1 1290.2,658.4 1290.5,646.6 1290.8,658.3 1291.0,646.6 1291.2,658.3 1291.5,645.2 1291.8,658.3 1292.0,646.0 1292.2,656.5 1292.5,646.0 1292.8,657.9 1293.0,646.8 1293.2,657.9 1293.5,647.7 1293.8,658.2 1294.0,647.7 1294.2,657.5 1294.5,647.9 1294.8,657.5 1295.0,644.6 1295.2,657.3 1295.5,644.6 1295.8,658.7 1296.0,646.3 1296.2,658.7 1296.5,646.5 1296.8,656.1 1297.0,646.5 1297.2,657.1 1297.5,647.5 1297.8,657.1 1298.0,646.8 1298.2,656.7 1298.5,646.8 1298.8,658.4 1299.0,646.8 1299.2,658.4 1299.5,646.0 1299.8,656.1 1300.0,646.0 1300.2,657.8 1300.5,648.0 1300.8,657.8 1301.0,645.9 1301.2,658.4 1301.5,645.9 1301.8,656.7 1302.0,645.2 1302.2,656.7 1302.5,647.9 1302.8,657.0 1303.0,647.9 1303.2,656.2 1303.5,647.7 1303.8,656.2 1304.0,647.5 1304.2,657.2 1304.5,647.5 1304.8,657.2 1305.0,646.7 1305.2,657.2 1305.5,648.1 1305.8,656.6 1306.0,648.1 1306.2,659.2 1306.5,645.8 1306.8,659.2 1307.0,646.5 1307.2,659.4 1307.5,646.5 1307.8,657.2 1308.0,645.8 1308.2,657.2 1308.5,647.2 1308.8,657.5 1309.0,647.2 1309.2,657.7 1309.5,644.4 1309.8,657.7 1310.0,645.6 1310.2,656.9 1310.5,645.6 1310.8,656.5 1311.0,646.9 1311.2,656.5 1311.5,647.0 1311.8,658.7 1312.0,647.0 1312.2,657.7 1312.5,646.8 1312.8,657.7 1313.0,646.1 1313.2,659.4 1313.5,646.1 1313.8,657.4 1314.0,646.8 1314.2,657.4 1314.5,643.8 1314.8,656.8 1315.0,643.8 1315.2,657.7 1315.5,647.5 1315.8,657.7 1316.0,646.2 1316.2,657.9 1316.5,646.2 1316.8,656.7 1317.0,646.8 1317.2,656.7 1317.5,644.8 1317.8,658.0 1318.0,644.8 1318.2,657.5 1318.5,646.7 1318.8,657.5 1319.0,644.4 1319.2,658.4 1319.5,644.4 1319.8,657.2 1320.0,645.6 1320.2,657.2 1320.5,645.9 1320.8,656.2 1321.0,645.9 1321.2,656.7 1321.5,647.0 1321.8,656.7 1322.0,645.3 1322.2,656.2 1322.5,645.3 1322.8,658.9 1323.0,645.6 1323.2,658.9 1323.5,643.7 1323.8,657.9 1324.0,643.7 1324.2,657.4 1324.5,645.7 1324.8,657.4 1325.0,645.6 1325.2,659.9 1325.5,645.6 1325.8,659.4 1326.0,646.3 1326.2,659.4 1326.5,647.2 1326.8,657.6 1327.0,647.2 1327.2,657.2 1327.5,645.5 1327.8,657.2 1328.0,646.1 1328.2,658.9 1328.5,646.1 1328.8,656.0 1329.0,646.2 1329.2,656.0 1329.5,647.1 1329.8,656.7 1330.0,647.1 1330.2,657.3 1330.5,645.7 1330.8,657.3 1331.0,647.5 1331.2,656.7 1331.5,647.5 1331.8,656.2 1332.0,646.7 1332.2,656.2 1332.5,647.5 1332.8,657.7 1333.0,647.5 1333.2,657.7 1333.5,645.7 1333.8,657.7 1334.0,646.1 1334.2,657.7 1334.5,646.1 1334.8,656.2 1335.0,647.2 1335.2,656.2 1335.5,648.0 1335.8,657.8 1336.0,648.0 1336.2,658.4 1336.5,646.7 1336.8,658.4 1337.0,647.4 1337.2,656.7 1337.5,647.4 1337.8,658.3 1338.0,645.4 1338.2,658.3 1338.5,647.1 1338.8,657.8 1339.0,647.1 1339.2,657.3 1339.5,646.3 1339.8,657.3 1340.0,646.2 1340.2,658.6 1340.5,646.2 1340.8,658.3 1341.0,646.4 1341.2,658.3 1341.5,645.6 1341.8,658.3 1342.0,645.6 1342.2,658.8 1342.5,646.2 1342.8,658.8 1343.0,647.3 1343.2,657.0 1343.5,647.3 1343.8,658.7 1344.0,647.7 1344.2,658.7 1344.5,647.3 1344.8,658.4 1345.0,647.3 1345.2,658.5 1345.5,646.5 1345.8,658.5 1346.0,645.7 1346.2,658.5 1346.5,645.7 1346.8,656.4 1347.0,646.0 1347.2,656.4 1347.5,645.9 1347.8,656.3 1348.0,645.9 1348.2,659.9 1348.5,647.8 1348.8,659.9 1349.0,646.9 1349.2,658.2 1349.5,646.9 1349.8,658.4 1350.0,646.3 1350.2,658.4 1350.5,645.4 1350.8,658.2 1351.0,645.4 1351.2,657.7 1351.5,646.8 1351.8,657.7 1352.0,645.9 1352.2,658.2 1352.5,645.9 1352.8,656.5 1353.0,645.4 1353.2,656.5 1353.5,644.7 1353.8,656.9 1354.0,644.7 1354.2,656.6 1354.5,643.5 1354.8,656.6 1355.0,646.3 1355.2,657.0 1355.5,646.3 1355.8,659.1 1356.0,647.6 1356.2,659.1 1356.5,645.7 1356.8,657.6 1357.0,645.7 1357.2,656.9 1357.5,647.4 1357.8,656.9 1358.0,647.4 1358.2,658.2 1358.5,647.4 1358.8,657.9 1359.0,645.9 1359.2,657.9 1359.5,645.3 1359.8,656.7 1360.0,645.3 1360.2,658.0 1360.5,644.7 1360.8,658.0 1361.0,644.3 1361.2,658.3 1361.5,644.3 1361.8,656.1 1362.0,646.2 1362.2,656.1 1362.5,646.5 1362.8,656.9 1363.0,646.5 1363.2,657.0 1363.5,646.8 1363.8,657.0 1364.0,645.4 1364.2,658.2 1364.5,645.4 1364.8,657.4 1365.0,647.5 1365.2,657.4 1365.5,646.5 1365.8,656.4 1366.0,646.5 1366.2,658.3 1366.5,646.7 1366.8,658.3 1367.0,644.6 1367.2,658.4 1367.5,644.6 1367.8,657.5 1368.0,646.5 1368.2,657.5 1368.5,644.2 1368.8,658.5 1369.0,644.2 1369.2,656.8 1369.5,645.4 1369.8,656.8 1370.0,645.9 1370.2,659.3 1370.5,645.9 1370.8,656.8 1371.0,646.1 1371.2,656.8 1371.5,646.5 1371.8,656.8 1372.0,646.5 1372.2,657.0 1372.5,646.9 1372.8,657.0 1373.0,647.3 1373.2,658.3 1373.5,647.3 1373.8,657.7 1374.0,646.7 1374.2,657.7 1374.5,646.8 1374.8,658.1 1375.0,646.8 1375.2,657.1 1375.5,647.6 1375.8,657.1 1376.0,647.8 1376.2,657.5 1376.5,647.8 1376.8,658.7 1377.0,644.8 1377.2,658.7 1377.5,646.1 1377.8,658.2 1378.0,646.1 1378.2,656.2 1378.5,648.0 1378.8,656.2 1379.0,644.7 1379.2,657.9 1379.5,644.7 1379.8,656.2 1380.0,644.8 1380.2,656.2 1380.5,646.9 1380.8,657.3 1381.0,646.9 1381.2,656.0 1381.5,646.7 1381.8,656.0 1382.0,647.2 1382.2,656.8 1382.5,647.2 1382.8,657.6 1383.0,644.5 1383.2,657.6 1383.5,644.8 1383.8,657.3 1384.0,644.8 1384.2,658.0 1384.5,646.8 1384.8,658.0 1385.0,647.0 1385.2,659.5 1385.5,647.0 1385.8,657.9 1386.0,644.6 1386.2,657.9 1386.5,647.2 1386.8,656.1 1387.0,647.2 1387.2,657.7 1387.5,646.5 1387.8,657.7 1388.0,647.4 1388.2,656.9 1388.5,647.4 1388.8,657.6 1389.0,646.2 1389.2,657.6 1389.5,646.5 1389.8,657.4 1390.0,646.5 1390.2,657.9 1390.5,647.2 1390.8,657.9 1391.0,647.5 1391.2,657.3 1391.5,647.5 1391.8,659.2 1392.0,645.7 1392.2,659.2 1392.5,647.8 1392.8,658.8 1393.0,647.8 1393.2,657.5 1393.5,647.4 1393.8,657.5 1394.0,644.7 1394.2,656.3 1394.5,644.7 1394.8,656.2 1395.0,645.3 1395.2,656.2 1395.5,646.2 1395.8,658.4 1396.0,646.2 1396.2,657.7 1396.5,646.9 1396.8,657.7 1397.0,648.0 1397.2,659.9 1397.5,648.0 1397.8,658.8 1398.0,647.6 1398.2,658.8 1398.5,646.6 1398.8,658.0 1399.0,646.6 1399.2,658.8 1399.5,646.1 1399.8,658.8 1400.0,643.6 1400.2,658.4 1400.5,643.6 1400.8,657.0 1401.0,646.7 1401.2,657.0 1401.5,645.6 1401.8,659.8 1402.0,645.6 1402.2,656.9 1402.5,646.7 1402.8,656.9 1403.0,646.7 1403.2,658.2 1403.5,646.7 1403.8,657.8 1404.0,647.4 1404.2,657.8 1404.5,645.5 1404.8,656.7 1405.0,645.5 1405.2,656.7 1405.5,647.5 1405.8,656.7 1406.0,645.6 1406.2,657.5 1406.5,645.6 1406.8,657.6 1407.0,645.7 1407.2,657.6 1407.5,645.5 1407.8,658.3 1408.0,645.5 1408.2,658.3 1408.5,648.1 1408.8,658.3 1409.0,647.5 1409.2,657.1 1409.5,647.5 1409.8,656.8 1410.0,647.5 1410.2,656.8 1410.5,645.1 1410.8,657.9 1411.0,645.1 1411.2,656.6 1411.5,647.1 1411.8,656.6 1412.0,647.3 1412.2,656.9 1412.5,647.3 1412.8,657.6 1413.0,646.5 1413.2,657.6 1413.5,646.0 1413.8,658.3 1414.0,646.0 1414.2,656.7 1414.5,647.2 1414.8,656.7 1415.0,646.2 1415.2,657.3 1415.5,646.2 1415.8,656.9 1416.0,647.0 1416.2,656.9 1416.5,648.0 1416.8,656.9 1417.0,648.0 1417.2,658.2 1417.5,647.4 1417.8,658.2 1418.0,646.8 1418.2,657.0 1418.5,646.8 1418.8,658.6 1419.0,646.4 1419.2,658.6 1419.5,647.6 1419.8,656.8 1420.0,647.6 1420.2,657.8 1420.5,646.8 1420.8,657.8 1421.0,646.0 1421.2,659.5 1421.5,646.0 1421.8,657.4 1422.0,647.5 1422.2,657.4 1422.5,646.9 1422.8,657.0 1423.0,646.9 1423.2,657.6 1423.5,647.7 1423.8,657.6 1424.0,646.4 1424.2,658.0 1424.5,646.4 1424.8,658.1 1425.0,646.9 1425.2,658.1 1425.5,644.0 1425.8,658.4 1426.0,644.0 1426.2,657.8 1426.5,647.8 1426.8,657.8 1427.0,645.9 1427.2,658.3 1427.5,645.9 1427.8,656.9 1428.0,646.1 1428.2,656.9 1428.5,645.8 1428.8,657.8 1429.0,645.8 1429.2,657.6 1429.5,645.8 1429.8,657.6 1430.0,645.2 1430.2,660.1 1430.5,645.2 1430.8,657.6 1431.0,647.4 1431.2,657.6 1431.5,646.3 1431.8,656.6 1432.0,646.3 1432.2,656.3 1432.5,646.0 1432.8,656.3 1433.0,646.2 1433.2,657.2 1433.5,646.2 1433.8,659.3 1434.0,645.8 1434.2,659.3 1434.5,645.7 1434.8,656.8 1435.0,645.7 1435.2,657.9 1435.5,644.8 1435.8,657.9 1436.0,644.3 1436.2,658.7 1436.5,644.3 1436.8,658.9 1437.0,645.5 1437.2,658.9 1437.5,648.0 1437.8,658.6 1438.0,648.0 1438.2,657.4 1438.5,645.5 1438.8,657.4 1439.0,646.6 1439.2,656.6 1439.5,646.6 1439.8,657.3 1440.0,646.1 1440.2,657.3 1440.5,647.8 1440.8,657.3 1441.0,647.8 1441.2,659.3 1441.5,647.2 1441.8,659.3 1442.0,646.0 1442.2,657.6 1442.5,646.0 1442.8,658.6 1443.0,647.5 1443.2,658.6 1443.5,644.6 1443.8,656.8 1444.0,644.6 1444.2,658.6 1444.5,647.9 1444.8,658.6 1445.0,647.2 1445.2,658.3 1445.5,647.2 1445.8,659.3 1446.0,647.9 1446.2,659.3 1446.5,646.4 1446.8,656.2 1447.0,646.4 1447.2,656.8 1447.5,646.1 1447.8,656.8 1448.0,646.7 1448.2,656.6 1448.5,646.7 1448.8,658.0 1449.0,646.1 1449.2,658.0 1449.5,647.0 1449.8,657.6 1450.0,647.0 1450.2,659.8 1450.5,646.5 1450.8,659.8 1451.0,645.9 1451.2,656.1 1451.5,645.9 1451.8,658.2 1452.0,646.2 1452.2,658.2 1452.5,646.2 1452.8,657.6 1453.0,646.2 1453.2,659.6 1453.5,647.4 1453.8,659.6 1454.0,645.5 1454.2,658.3 1454.5,645.5 1454.8,659.5 1455.0,645.0 1455.2,659.5 1455.5,647.5 1455.8,657.1 1456.0,647.5 1456.2,659.4 1456.5,646.3 1456.8,659.4 1457.0,645.7 1457.2,656.3 1457.5,645.7 1457.8,657.8 1458.0,646.2 1458.2,657.8 1458.5,647.2 1458.8,658.3 1459.0,647.2 1459.2,657.0 1459.5,644.3 1459.8,657.0 1460.0,645.7 1460.2,657.8 1460.5,645.7 1460.8,657.1 1461.0,647.5 1461.2,657.1 1461.5,646.7 1461.8,657.5 1462.0,646.7 1462.2,656.3 1462.5,645.8 1462.8,656.3 1463.0,646.6 1463.2,656.9 1463.5,646.6 1463.8,656.4 1464.0,646.1 1464.2,656.4 1464.5,645.4 1464.8,657.9 1465.0,645.4 1465.2,659.9 1465.5,644.5 1465.8,659.9 1466.0,646.4 1466.2,659.6 1466.5,646.4 1466.8,656.6 1467.0,646.2 1467.2,656.6 1467.5,645.7 1467.8,657.5 1468.0,645.7 1468.2,658.3 1468.5,647.1 1468.8,658.3 1469.0,646.7 1469.2,657.8 1469.5,646.7 1469.8,660.0 1470.0,647.5 1470.2,660.0 1470.5,646.6 1470.8,656.0 1471.0,646.6 1471.2,657.4 1471.5,647.8 1471.8,657.4 1472.0,645.8 1472.2,657.3 1472.5,645.8 1472.8,656.2 1473.0,647.9 1473.2,656.2 1473.5,647.9 1473.8,658.7 1474.0,647.9 1474.2,656.1 1474.5,646.7 1474.8,656.1 1475.0,646.8 1475.2,656.4 1475.5,646.8 1475.8,656.8 1476.0,646.5 1476.2,656.8 1476.5,645.8 1476.8,657.4 1477.0,645.8 1477.2,656.3 1477.5,646.1 1477.8,656.3 1478.0,646.6 1478.2,658.2 1478.5,646.6 1478.8,657.1 1479.0,647.6 1479.2,657.1 1479.5,643.7 1479.8,656.7 1480.0,643.7 1480.2,658.1 1480.5,644.5 1480.8,658.1 1481.0,644.2 1481.2,658.4 1481.5,644.2 1481.8,657.4 1482.0,647.0 1482.2,657.4 1482.5,645.8 1482.8,658.3 1483.0,645.8 1483.2,658.1 1483.5,644.5 1483.8,658.1 1484.0,648.1 1484.2,659.2 1484.5,648.1 1484.8,656.2 1485.0,645.0 1485.2,656.2 1485.5,646.4 1485.8,657.6 1486.0,646.4 1486.2,658.6 1486.5,647.8 1486.8,658.6 1487.0,644.2 1487.2,658.6 1487.5,644.2 1487.8,658.3 1488.0,645.3 1488.2,658.3 1488.5,647.3 1488.8,656.5 1489.0,647.3 1489.2,657.4 1489.5,647.7 1489.8,657.4 1490.0,645.5 1490.2,657.8 1490.5,645.5 1490.8,657.6 1491.0,646.9 1491.2,657.6 1491.5,647.0 1491.8,656.8 1492.0,647.0 1492.2,657.6 1492.5,647.7 1492.8,657.6 1493.0,646.5 1493.2,658.1 1493.5,646.5 1493.8,656.9 1494.0,647.7 1494.2,656.9 1494.5,646.6 1494.8,657.1 1495.0,646.6 1495.2,657.4 1495.5,646.2 1495.8,657.4 1496.0,646.7 1496.2,657.8 1496.5,646.7 1496.8,656.3 1497.0,645.7 1497.2,656.3 1497.5,647.8 1497.8,660.5 1498.0,647.8 1498.2,660.0 1498.5,646.6 1498.8,660.0 1499.0,646.4 1499.2,656.5 1499.5,646.4 1499.8,658.4 1500.0,646.0 1500.2,658.4 1500.5,646.7 1500.8,656.0 1501.0,646.7 1501.2,657.7 1501.5,646.1 1501.8,657.7 1502.0,646.7 1502.2,657.8 1502.5,646.7 1502.8,658.2 1503.0,647.0 1503.2,658.2 1503.5,645.0 1503.8,657.8 1504.0,645.0 1504.2,657.4 1504.5,647.4 1504.8,657.4 1505.0,645.4 1505.2,658.2 1505.5,645.4 1505.8,659.4 1506.0,647.2 1506.2,659.4 1506.5,647.0 1506.8,658.8 1507.0,647.0 1507.2,660.5 1507.5,645.0 1507.8,660.5 1508.0,646.9 1508.2,656.7 1508.5,646.9 1508.8,657.2 1509.0,646.6 1509.2,657.2 1509.5,644.9 1509.8,657.7 1510.0,644.9 1510.2,658.2 1510.5,644.0 1510.8,658.2 1511.0,644.9 1511.2,658.4 1511.5,644.9 1511.8,656.8 1512.0,646.9 1512.2,656.8 1512.5,647.0 1512.8,657.4 1513.0,647.0 1513.2,656.0 1513.5,645.5 1513.8,656.0 1514.0,643.8 1514.2,657.8 1514.5,643.8 1514.8,657.9 1515.0,645.7 1515.2,657.9 1515.5,644.9 1515.8,658.4 1516.0,644.9 1516.2,657.7 1516.5,647.4 1516.8,657.7 1517.0,646.6 1517.2,656.6 1517.5,646.6 1517.8,657.6 1518.0,647.3 1518.2,657.6 1518.5,646.6 1518.8,656.0 1519.0,646.6 1519.2,658.0 1519.5,645.2 1519.8,658.0 1520.0,647.6 1520.2,659.1 1520.5,647.6 1520.8,658.2 1521.0,646.9 1521.2,658.2 1521.5,645.6 1521.8,658.4 1522.0,645.6 1522.2,657.3 1522.5,645.0 1522.8,657.3 1523.0,647.6 1523.2,657.3 1523.5,647.6 1523.8,657.7 1524.0,645.0 1524.2,657.7 1524.5,647.4 1524.8,656.9 1525.0,647.4 1525.2,659.6 1525.5,646.3 1525.8,659.6 1526.0,644.3 1526.2,656.9 1526.5,644.3 1526.8,660.1 1527.0,646.5 1527.2,660.1 1527.5,646.0 1527.8,658.4 1528.0,646.0 1528.2,657.0 1528.5,645.6 1528.8,657.0 1529.0,646.4 1529.2,657.8 1529.5,646.4 1529.8,658.2 1530.0,645.2 1530.2,658.2 1530.5,646.7 1530.8,657.5 1531.0,646.7 1531.2,658.7 1531.5,647.1 1531.8,658.7 1532.0,646.5 1532.2,656.7 1532.5,646.5 1532.8,657.7 1533.0,644.6 1533.2,657.7 1533.5,646.1 1533.8,659.6 1534.0,646.1 1534.2,658.3 1534.5,645.5 1534.8,658.3 1535.0,646.4 1535.2,658.0 1535.5,646.4 1535.8,656.8 1536.0,647.8 1536.2,656.8 1536.5,644.6 1536.8,658.3 1537.0,644.6 1537.2,656.2 1537.5,645.6 1537.8,656.2 1538.0,645.6 1538.2,656.5 1538.5,645.6 1538.8,658.1 1539.0,646.2 1539.2,658.1 1539.5,647.5 1539.8,660.1 1540.0,647.5 1540.2,656.9 1540.5,646.8 1540.8,656.9 1541.0,647.4 1541.2,658.0 1541.5,647.4 1541.8,659.2 1542.0,646.8 1542.2,659.2 1542.5,645.3 1542.8,656.7 1543.0,645.3 1543.2,657.6 1543.5,645.4 1543.8,657.6 1544.0,643.4 1544.2,657.2 1544.5,643.4 1544.8,657.5 1545.0,647.6 1545.2,657.5 1545.5,647.3 1545.8,657.8 1546.0,647.3 1546.2,658.1 1546.5,647.1 1546.8,658.1 1547.0,645.6 1547.2,657.7 1547.5,645.6 1547.8,656.6 1548.0,645.4 1548.2,656.6 1548.5,647.9 1548.8,657.5 1549.0,647.9 1549.2,657.7 1549.5,647.4 1549.8,657.7 1550.0,646.4 1550.2,659.2 1550.5,646.4 1550.8,658.0 1551.0,644.7 1551.2,658.0 1551.5,646.8 1551.8,656.0 1552.0,646.8 1552.2,657.2 1552.5,646.5 1552.8,657.2 1553.0,646.6 1553.2,659.3 1553.5,646.6 1553.8,658.8 1554.0,645.9 1554.2,658.8 1554.5,646.5 1554.8,657.2 1555.0,646.5 1555.2,658.2 1555.5,647.7 1555.8,658.2 1556.0,646.1 1556.2,657.8 1556.5,646.1 1556.8,660.4 1557.0,645.4 1557.2,660.4 1557.5,645.8 1557.8,658.0 1558.0,645.8 1558.2,656.5 1558.5,648.0 1558.8,656.5 1559.0,646.1 1559.2,658.9 1559.5,646.1 1559.8,657.4 1560.0,646.8 1560.2,657.4 1560.5,645.7 1560.8,659.0 1561.0,645.7 1561.2,658.0 1561.5,646.8 1561.8,658.0 1562.0,646.0 1562.2,657.7 1562.5,646.0 1562.8,657.0 1563.0,646.4 1563.2,657.0 1563.5,646.2 1563.8,657.9 1564.0,646.2 1564.2,656.3 1564.5,644.9 1564.8,656.3 1565.0,644.0 1565.2,658.6 1565.5,644.0 1565.8,660.1 1566.0,645.6 1566.2,660.1 1566.5,646.4 1566.8,657.2 1567.0,646.4 1567.2,659.4 1567.5,647.3 1567.8,659.4 1568.0,647.6 1568.2,657.7 1568.5,647.6 1568.8,657.5 1569.0,647.7 1569.2,657.5 1569.5,645.8 1569.8,657.6 1570.0,645.8 1570.2,658.2 1570.5,646.8 1570.8,658.2 1571.0,647.3 1571.2,657.6 1571.5,647.3 1571.8,658.5 1572.0,646.0 1572.2,658.5 1572.5,645.6 1572.8,657.3 1573.0,645.6 1573.2,658.1 1573.5,646.7 1573.8,658.1 1574.0,645.7 1574.2,658.3 1574.5,645.7 1574.8,657.7 1575.0,646.0 1575.2,657.7 1575.5,646.6 1575.8,656.3 1576.0,646.6 1576.2,656.6 1576.5,647.0 1576.8,656.6 1577.0,646.8 1577.2,656.0 1577.5,646.8 1577.8,657.8 1578.0,645.8 1578.2,657.8 1578.5,648.0 1578.8,657.3 1579.0,648.0 1579.2,658.1 1579.5,645.7 1579.8,658.1 1580.0,647.5 1580.2,656.0 1580.5,647.5 1580.8,658.5 1581.0,646.7 1581.2,658.5 1581.5,646.7 1581.8,658.4 1582.0,646.7 1582.2,656.0 1582.5,645.4 1582.8,656.0 1583.0,646.0 1583.2,657.5 1583.5,646.0 1583.8,656.2 1584.0,645.7 1584.2,656.2 1584.5,645.7 1584.8,659.2 1585.0,645.7 1585.2,657.6 1585.5,647.2 1585.8,657.6 1586.0,646.5 1586.2,658.9 1586.5,646.5 1586.8,658.5 1587.0,645.0 1587.2,658.5 1587.5,646.0 1587.8,656.6 1588.0,646.0 1588.2,658.4 1588.5,646.2 1588.8,658.4 1589.0,645.1 1589.2,657.8 1589.5,645.1 1589.8,658.4 1590.0,645.9 1590.2,658.4 1590.5,646.1 1590.8,657.9 1591.0,646.1 1591.2,656.0 1591.5,647.9 1591.8,656.0 1592.0,645.1 1592.2,658.2 1592.5,645.1 1592.8,658.6 1593.0,647.3 1593.2,658.6 1593.5,647.2 1593.8,658.3 1594.0,647.2 1594.2,659.5 1594.5,647.2 1594.8,659.5 1595.0,648.1 1595.2,656.6 1595.5,648.1 1595.8,658.3 1596.0,645.9 1596.2,658.3 1596.5,646.6 1596.8,656.8 1597.0,646.6 1597.2,657.5 1597.5,646.3 1597.8,657.5 1598.0,647.6 1598.2,656.8 1598.5,647.6 1598.8,656.9 1599.0,646.1 1599.2,656.9 1599.5,645.5 1599.8,656.3 1600.0,645.5 1600.2,656.0 1600.5,644.9 1600.8,656.0 1601.0,647.7 1601.2,657.1 1601.5,647.7 1601.8,657.3 1602.0,646.2 1602.2,657.3 1602.5,648.1 1602.8,658.4 1603.0,648.1 1603.2,659.0 1603.5,646.2 1603.8,659.0 1604.0,646.7 1604.2,658.7 1604.5,646.7 1604.8,656.4 1605.0,647.9 1605.2,656.4 1605.5,646.0 1605.8,657.0 1606.0,646.0 1606.2,658.8 1606.5,645.9 1606.8,658.8 1607.0,646.1 1607.2,657.3 1607.5,646.1 1607.8,657.3 1608.0,647.4 1608.2,657.3 1608.5,645.9 1608.8,657.8 1609.0,645.9 1609.2,657.4 1609.5,647.8 1609.8,657.4 1610.0,645.6 1610.2,656.2 1610.5,645.6 1610.8,657.7 1611.0,645.3 1611.2,657.7 1611.5,647.3 1611.8,657.8 1612.0,647.3 1612.2,657.1 1612.5,643.8 1612.8,657.1 1613.0,647.5 1613.2,658.3 1613.5,647.5 1613.8,657.7 1614.0,648.0 1614.2,657.7 1614.5,644.5 1614.8,657.2 1615.0,644.5 1615.2,656.3 1615.5,646.9 1615.8,656.3 1616.0,645.6 1616.2,658.1 1616.5,645.6 1616.8,656.6 1617.0,646.6 1617.2,656.6 1617.5,645.8 1617.8,657.2 1618.0,645.8 1618.2,658.7 1618.5,645.0 1618.8,658.7 1619.0,647.5 1619.2,659.4 1619.5,647.5 1619.8,658.4 1620.0,646.6 1620.2,658.4 1620.5,646.2 1620.8,658.9 1621.0,646.2 1621.2,659.3 1621.5,645.5 1621.8,659.3 1622.0,647.1 1622.2,657.0 1622.5,647.1 1622.8,657.7 1623.0,646.4 1623.2,657.7 1623.5,647.0 1623.8,656.1 1624.0,647.0 1624.2,656.5 1624.5,645.7 1624.8,656.5 1625.0,646.4 1625.2,658.2 1625.5,646.4 1625.8,657.6 1626.0,647.3 1626.2,657.6 1626.5,647.7 1626.8,657.6 1627.0,647.7 1627.2,657.2 1627.5,645.5 1627.8,657.2 1628.0,646.0 1628.2,657.4 1628.5,646.0 1628.8,658.6 1629.0,643.7 1629.2,658.6 1629.5,647.4 1629.8,657.2 1630.0,647.4 1630.2,657.0 1630.5,644.8 1630.8,657.0 1631.0,645.9 1631.2,658.8 1631.5,645.9 1631.8,658.6 1632.0,647.0 1632.2,658.6 1632.5,647.0 1632.8,658.0 1633.0,647.0 1633.2,656.4 1633.5,644.4 1633.8,656.4 1634.0,646.8 1634.2,657.4 1634.5,646.8 1634.8,659.3 1635.0,646.0 1635.2,659.3 1635.5,646.4 1635.8,658.4 1636.0,646.4 1636.2,659.1 1636.5,645.7 1636.8,659.1 1637.0,646.3 1637.2,657.0 1637.5,646.3 1637.8,657.8 1638.0,646.1 1638.2,657.8 1638.5,647.6 1638.8,657.5 1639.0,647.6 1639.2,657.5 1639.5,644.5 1639.8,657.5 1640.0,646.3 1640.2,660.6 1640.5,646.3 1640.8,659.5 1641.0,645.8 1641.2,659.5 1641.5,647.2 1641.8,657.1 1642.0,647.2 1642.2,658.5 1642.5,645.9 1642.8,658.5 1643.0,644.0 1643.2,656.2 1643.5,644.0 1643.8,657.4 1644.0,646.0 1644.2,657.4 1644.5,646.6 1644.8,657.1 1645.0,646.6 1645.2,656.9 1645.5,647.5 1645.8,656.9 1646.0,645.9 1646.2,658.6 1646.5,645.9 1646.8,659.9 1647.0,645.4 1647.2,659.9 1647.5,647.4 1647.8,657.1 1648.0,647.4 1648.2,658.4 1648.5,648.0 1648.8,658.4 1649.0,647.2 1649.2,659.3 1649.5,647.2 1649.8,658.8 1650.0,647.2 1650.2,658.8 1650.5,646.8 1650.8,656.8 1651.0,646.8 1651.2,656.7 1651.5,646.0 1651.8,656.7 1652.0,645.9 1652.2,657.4 1652.5,645.9 1652.8,657.3 1653.0,645.3 1653.2,657.3 1653.5,646.9 1653.5,657.9" fill="none" stroke="#eaae00" stroke-width="2.0" stroke-linejoin="round" stroke-linecap="round"/>
<rect x="926.40" y="27.40" width="731.20" height="732.20" fill="none" stroke="#161616" stroke-width="2.9"/>
</g>
</svg>
</body>
</html>
